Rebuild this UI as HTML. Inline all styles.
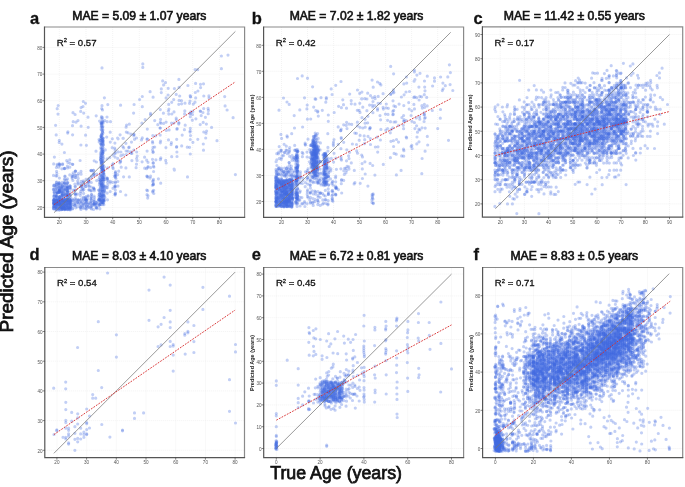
<!DOCTYPE html><html><head><meta charset="utf-8"><style>html,body{margin:0;padding:0;background:#fff;}svg{display:block;will-change:transform}</style></head><body>
<svg width="685" height="487" viewBox="0 0 685 487" font-family="'Liberation Sans', sans-serif">
<defs>
<clipPath id="ca"><rect x="44.5" y="27" width="200.1" height="190.3"/></clipPath>
<clipPath id="cb"><rect x="263.6" y="27" width="200.0" height="190.3"/></clipPath>
<clipPath id="cc"><rect x="482.4" y="26.8" width="200.3" height="190.4"/></clipPath>
<clipPath id="cd"><rect x="44.8" y="267.5" width="199.7" height="190.2"/></clipPath>
<clipPath id="ce"><rect x="263.7" y="267.5" width="199.9" height="190.2"/></clipPath>
<clipPath id="cf"><rect x="482.6" y="267.5" width="200.1" height="190.2"/></clipPath>
</defs>
<path d="M59.3 27V217.3M86 27V217.3M112.7 27V217.3M139.3 27V217.3M166 27V217.3M192.7 27V217.3M219.4 27V217.3M44.5 207.4H244.6M44.5 180.7H244.6M44.5 154.1H244.6M44.5 127.4H244.6M44.5 100.7H244.6M44.5 74.1H244.6M44.5 47.4H244.6" stroke="#e6e6e6" stroke-width="0.5" stroke-dasharray="1 1" fill="none"/>
<g clip-path="url(#ca)" fill="none" stroke="#4169e1" stroke-opacity="0.32" stroke-width="3.2" stroke-linecap="round">
<path d="M64 207.1h0M67.5 200.9h0M69.7 203.1h0M62.6 200.7h0M58.9 204.3h0M67.5 199.6h0M62.3 208.4h0M53.9 199.4h0M59 210h0M54.3 206.5h0M67.1 203.6h0M62.1 203.1h0M57.2 204.5h0M64.1 205.7h0M54.2 208.6h0M67.9 208.9h0M61.9 205.4h0M64.6 204.4h0M61.9 208.1h0M53.9 203.7h0M54.6 201.1h0M61.9 208.1h0M70.5 207.1h0M65.1 200.7h0M54.4 206.9h0M69.7 199.6h0M62.5 201.2h0M67.9 206.8h0M67.2 188.8h0M67.3 199.9h0M61.6 195.3h0M59.7 190.6h0M64.3 188.8h0M62.1 187.9h0M67.3 187h0M56 200h0M69.7 194.5h0M61.8 188.5h0M62.6 197.6h0M61.4 184h0M57 192.8h0M64.1 190h0M65.2 194.6h0M70.2 186.2h0M56.2 195.6h0M62.4 188.4h0M58.7 183.2h0M56.6 171.4h0M64.2 168.3h0M59.4 178h0M86.2 209h0M72.7 208.4h0M80.9 209.4h0M72.7 204.4h0M91.2 199.5h0M74.7 203.5h0M82.8 205.7h0M98.8 199.4h0M91 201.2h0M81.3 198.9h0M75.3 198.2h0M81 171.4h0M75.4 189.9h0M98.8 190h0M93.4 170.3h0M85.8 198.7h0M88.2 182h0M75.2 193.9h0M75.7 175.2h0M101.2 186.1h0M101.8 190.4h0M101.3 176h0M101.4 196.1h0M101.2 201.2h0M101.2 171.3h0M104 186.4h0M102.5 186.1h0M102.9 200.6h0M101.4 185.1h0M101.4 202h0M103.1 173.5h0M102.5 153.4h0M101.1 165.1h0M101.7 169.1h0M102.9 141.1h0M101.2 165.7h0M103.3 138.1h0M101.2 152h0M103.2 142.5h0M102.9 126.4h0M101.5 133.8h0M101.3 136.9h0M104.5 190.7h0M107.2 187.8h0M115.1 195.1h0M53.7 163.9h0M59.3 164.3h0M99 139.5h0M107 117h0M83.7 113.1h0M112.8 182.3h0M115.5 171.5h0M115.1 149.9h0M142.3 106.7h0M187.5 176.9h0M160.3 159.7h0M128.8 147.6h0M176.3 119.9h0M160.5 159.3h0M192.5 114.5h0M200.2 124.6h0M123.6 176.8h0M166.1 97.9h0M176.5 147.2h0M120.6 105.2h0M185 103.2h0M166.3 130.4h0M200.5 84.3h0M197.7 69.7h0M168.5 139.9h0M153.1 162.9h0M152.7 192h0M148 162.3h0M190.9 111.8h0M142.8 63.9h0"/>
<path d="M56.9 202.8h0M64.9 209.6h0M59.9 205.2h0M56.6 208.2h0M66.9 206.7h0M53.8 206.4h0M59.9 203.9h0M69.4 207.8h0M67.5 207.3h0M70.4 200.8h0M61.8 203.9h0M61.9 207.8h0M53.6 201h0M61.9 207.9h0M61.4 206h0M53.7 202.8h0M67 201h0M59.6 206.5h0M54.6 205h0M58.9 202.5h0M65.2 199.4h0M59.6 203.4h0M67.2 200.1h0M62 205.2h0M58.8 204.4h0M64.3 204h0M57.1 204.9h0M58.8 200h0M64.8 201.6h0M62.6 201.2h0M61.9 200.2h0M67.8 182.6h0M61.9 196.6h0M58.8 201.6h0M67.2 183.6h0M69.8 187.8h0M67.7 188.7h0M56.6 196.4h0M61.8 201.5h0M64 191.8h0M64.8 185.8h0M67.4 195.6h0M67.4 191.5h0M61.5 198h0M64.4 183.2h0M58.7 200.9h0M62.6 197.8h0M53.5 175.4h0M65.1 179.8h0M72.4 176.5h0M83.6 208.5h0M99 199.5h0M91.6 208.9h0M88.2 206.2h0M83.8 200.3h0M90.7 202h0M93.9 200.9h0M85.6 203.4h0M99.5 204.6h0M94.2 175.7h0M78.5 173.4h0M83.7 198.5h0M83 188h0M98.9 190.2h0M85.8 184.5h0M75.2 171.2h0M83.6 193.4h0M88.9 180.5h0M83.7 198.2h0M101.1 180.3h0M103.6 182.8h0M102.3 184.7h0M100.6 173.4h0M100.4 174.2h0M101 199.9h0M103.8 170.5h0M101.2 195.1h0M100.6 180.4h0M100.3 195.9h0M103.7 187.3h0M99.9 196.2h0M103.3 158.1h0M101.7 155.1h0M102.6 155.6h0M100.8 159.5h0M102.1 141.7h0M102.4 166.9h0M103 138.4h0M103.2 158.1h0M101.8 122.9h0M101.5 137h0M102.5 132h0M104.9 186.1h0M107.3 178.6h0M115 187.2h0M64.9 168.4h0M107.8 167.9h0M73 112.7h0M107.1 158.9h0M80.9 145h0M114.7 175.8h0M118.7 171.2h0M115 153.7h0M195.6 83.4h0M144.7 168.2h0M166.2 163h0M125.8 195h0M137.1 160.4h0M168.4 111h0M154.7 120.6h0M141.5 139.9h0M176.2 118.2h0M147 139.2h0M150.6 176.2h0M192.8 111.5h0M134.5 139.3h0M208.2 113.7h0M131.9 153.4h0M160.3 142.8h0M136.6 158.5h0M153 180.7h0M153 152.3h0M146.7 160.2h0M190.3 128.3h0M142.8 67.4h0"/>
<path d="M69.4 205.6h0M56.4 209.2h0M56.3 204.1h0M70.5 206.9h0M70.2 205.4h0M69.6 208h0M62.3 209.5h0M57.2 200.7h0M67.4 205.5h0M67 201.7h0M56.9 210h0M62.5 201.6h0M62.4 202.9h0M59.8 203.8h0M56.4 201.9h0M69.8 202.4h0M66.8 200.7h0M64.3 207.4h0M67.2 209.3h0M64.6 202.7h0M64.3 209.6h0M66.9 204.2h0M62.4 207h0M67.2 203.1h0M62.4 208.3h0M65 209.5h0M67.6 206.5h0M59.3 209h0M67 199.5h0M67.8 191.6h0M62.2 194.6h0M67.5 189.2h0M66.8 193.5h0M59.7 189.7h0M62.1 189.6h0M61.5 197.1h0M67.6 188.4h0M67.2 191.4h0M54 197.3h0M56.2 193.5h0M54.3 192.9h0M54.2 195.9h0M59.5 197.1h0M57 201.5h0M70.4 197.1h0M61.9 198h0M58.7 192.2h0M61.9 168.8h0M66.7 160.6h0M56.9 175.8h0M93.3 204h0M86 200h0M75.1 205.4h0M85.5 207.5h0M83.6 202.8h0M83 207.3h0M80.9 201.4h0M78.5 203.9h0M75.7 207.8h0M98.8 196.6h0M85.4 197.2h0M81.3 185h0M73.2 172.8h0M99.9 190.8h0M99.6 183.5h0M75.9 195.2h0M94.4 197.6h0M99.4 185h0M91.4 170.4h0M103.5 195.5h0M102.1 201.5h0M101.3 187.9h0M101.2 191h0M103.1 177.9h0M102.2 201.8h0M103.5 200.2h0M100.7 187h0M102.1 171.7h0M102.9 184.8h0M103.3 198.5h0M100.8 190.5h0M100.9 167.3h0M103.2 152.9h0M101.9 162.1h0M101.1 155.3h0M102.8 149.9h0M102.8 161.5h0M101.5 154.3h0M100.9 157.4h0M103 122.1h0M100.9 136.3h0M102.8 129.3h0M104 197.5h0M106.8 178h0M115.3 190.1h0M69.7 159.9h0M81.1 107.6h0M73.2 121.7h0M102.5 109.9h0M75.1 114.5h0M114.9 143.1h0M117.8 181.5h0M105.1 187.1h0M147.3 176.3h0M120.9 155.7h0M123.7 147.9h0M150.7 167.6h0M142.3 96.5h0M181.6 103.8h0M202.9 112.5h0M176.7 146.7h0M197.8 139.3h0M181.7 145.9h0M147.8 167.4h0M192.3 120.2h0M197.9 91h0M200.6 87.6h0M136.5 138h0M195 102.2h0M147.3 129.1h0M153.9 167.1h0M153.3 162.9h0M146.7 190.1h0M190.4 96.6h0M235.4 174.6h0"/>
<path d="M53.6 204.7h0M56.1 207.1h0M56.7 200.5h0M64.8 208.4h0M61.5 207.7h0M61.9 207.1h0M64.6 201h0M69.8 208.4h0M53.4 200.6h0M54.5 200.9h0M70 202.4h0M56.1 204.6h0M70.1 199.9h0M65.1 201.9h0M59.6 201.2h0M54.2 203.4h0M56.6 203.6h0M53.6 208.8h0M64 208.5h0M70.4 203.4h0M67.3 203.1h0M69.9 202.6h0M59.4 199.4h0M56.6 199.7h0M54.5 203.5h0M64.6 200.4h0M54.6 208.6h0M69.5 205.2h0M61.4 186.8h0M62.6 200.8h0M57.2 200.7h0M54.5 185.5h0M59.5 192.3h0M67.9 200.3h0M67.5 199h0M61.9 191.6h0M62.2 193.6h0M59.7 192.7h0M69.8 201.5h0M64.3 193.7h0M58.7 198.1h0M64.5 188.3h0M56.9 192.1h0M61.8 186h0M64.7 199.6h0M64.4 187.7h0M67.5 192.7h0M64.4 168.7h0M56 175.9h0M59.9 164.3h0M99.2 200.1h0M96.6 207.6h0M86.5 202.4h0M88.1 204.4h0M86.2 206h0M96.1 204.4h0M99.4 199.7h0M93.8 204.1h0M91.3 200.2h0M74.9 184h0M99.9 182.9h0M81.2 186.7h0M99.4 194.4h0M91.3 182.5h0M93.8 173.1h0M80.6 193.3h0M75.8 193.9h0M75.1 186.2h0M75.7 177.4h0M102.8 170.6h0M103.9 195.1h0M100.1 181.1h0M100.9 180.5h0M104.1 200.1h0M102.4 183.9h0M101.4 185h0M102.1 176.7h0M102.9 177.6h0M102 196.8h0M103.9 170.7h0M103.4 192.7h0M102.8 165.8h0M101.5 163.4h0M101 144.3h0M102.8 151.7h0M103.3 144.6h0M100.8 140.7h0M100.9 154.4h0M101 160.4h0M102.2 137.5h0M102.5 131.9h0M102.1 119.6h0M104.1 179.6h0M107.3 178.1h0M115.8 175.8h0M67.9 131.8h0M83.3 101.5h0M96 151.2h0M104.8 120.7h0M86.4 145.3h0M113 188.2h0M121.2 167.2h0M114.8 186.5h0M189.6 147.3h0M150.5 113.4h0M145.1 119.6h0M125.9 167.9h0M195.7 97.9h0M203.5 83.8h0M221.4 56h0M125.9 143.3h0M168.8 114.1h0M160.9 123.3h0M160.2 128h0M144.6 157.2h0M168.2 88.3h0M115.2 152.6h0M203.8 96h0M128.1 132.8h0M195.1 69.6h0M152.4 185.3h0M152.5 149.8h0M148 195.8h0M190.2 130.9h0M58 114.1h0"/>
<path d="M53.6 203.1h0M64.5 206.1h0M58.9 199.4h0M67.4 201.8h0M59.4 207.6h0M57.2 205.3h0M57.2 209.2h0M67.6 203.5h0M70 201.2h0M57.1 205.2h0M67.5 206.2h0M64.4 201.3h0M70.1 202.4h0M58.6 206.3h0M56.1 209.9h0M54.3 201h0M58.7 201h0M62.3 208.1h0M61.7 199.5h0M65.2 205.5h0M69.5 203.8h0M54.6 203.6h0M61.5 204.3h0M59.6 203.1h0M57.2 208.5h0M59.7 203.6h0M70.5 202.3h0M65 200h0M56.3 184.7h0M61.8 188.3h0M66.8 200.1h0M58.9 188h0M64 194.2h0M67 190.3h0M53.9 196h0M56.5 196.4h0M59.1 198.5h0M67.1 183.1h0M70.4 189.1h0M64.1 182.6h0M54.5 191.8h0M58.7 184.7h0M59.4 196.8h0M62.1 200.3h0M59.3 192h0M65.1 182.6h0M62.4 193.4h0M57.3 165.7h0M56.9 173.5h0M58.8 167.2h0M96.6 207.5h0M74.9 204.9h0M80.1 200.2h0M93.9 204.3h0M75.4 204.2h0M81.1 202.1h0M88.2 207.1h0M80.3 204.3h0M86.2 208.9h0M93.7 187.8h0M73.2 190.2h0M91.5 196.9h0M82.8 190.6h0M77.8 175.4h0M86.2 196.9h0M85.9 186.5h0M80.6 191.7h0M72.5 199.1h0M81.3 186.2h0M104 201.4h0M103.9 191.9h0M103.2 201.3h0M102.9 182h0M102.1 199.8h0M102.8 177.7h0M103.1 181.1h0M102.6 191.2h0M100.4 198.9h0M103.5 203.2h0M101.8 202.3h0M103.9 174.3h0M102.2 167.7h0M101 161.6h0M102.9 169.7h0M100.7 157.4h0M101.6 145h0M101.2 138.2h0M101.2 162.6h0M103.2 165h0M103 123.3h0M102.8 122.6h0M102 105.7h0M104.5 189h0M107.6 185.5h0M115.4 181.8h0M54.4 157.1h0M101.7 108.6h0M104.4 97.8h0M99.6 121.1h0M83 106.5h0M112.8 167.2h0M107.6 185.3h0M130.9 151.9h0M205.7 138h0M208.1 108.4h0M178.8 123h0M184.4 129.7h0M184.8 110.9h0M160.8 157.9h0M195.3 92.5h0M211.6 127.4h0M141.9 123.2h0M190.2 95.5h0M120.9 152h0M133.9 134.3h0M176.9 129.2h0M224.7 96.6h0M233.1 117.7h0M176.9 152h0M126.1 151h0M153.8 193.5h0M152.8 191h0M146.6 168.7h0M190.6 96.9h0"/>
<path d="M61.6 203.8h0M56.3 200.1h0M61.4 209.6h0M61.3 206.6h0M56.1 203.3h0M70 209.5h0M56.8 202.9h0M70.2 210h0M64.2 208.7h0M59.7 207.6h0M54.2 206.5h0M67.5 207.7h0M62.4 204.2h0M67.8 199.9h0M62.6 206.3h0M64.1 199.6h0M56.2 201.6h0M56.6 202.3h0M54.3 203.6h0M62.2 200.4h0M64.6 209.1h0M56.2 204.2h0M59.4 204.3h0M67.8 200.9h0M61.6 207.3h0M59.5 203.4h0M70.6 201.5h0M59.6 208.4h0M58.8 184.1h0M62.5 200.6h0M67.7 190.9h0M59.1 201.9h0M64 196h0M61.8 195.9h0M58.7 191.9h0M59.1 190.1h0M57.2 192.3h0M69.9 196.4h0M66.8 196.3h0M54 191.9h0M70 197h0M60 196.6h0M56.6 182.1h0M60 187.7h0M57.2 199h0M56.5 190.8h0M67.6 186.8h0M59.1 163.5h0M67.9 162.4h0M62.6 163.8h0M99.1 203h0M77.6 202.1h0M80.8 207.3h0M85.4 204.8h0M93.6 209.5h0M80.8 202.7h0M78.2 200.2h0M85.4 199.6h0M73.1 200h0M83.2 182.8h0M99.4 177.3h0M89 178.5h0M85.4 186.6h0M82.8 182.9h0M94.2 189h0M91.1 190.6h0M96.7 180.6h0M75.7 171.1h0M81.1 186.5h0M103.8 177.5h0M99.9 193.4h0M100.4 188.8h0M101.9 204.7h0M102.6 204.4h0M102.7 175.3h0M103.1 171.6h0M102.8 175.8h0M101 177.7h0M101.9 196.3h0M103.5 194.9h0M102.4 170h0M103.2 156.1h0M102.5 165h0M101 138.6h0M101.1 148.2h0M101.9 152.6h0M102.8 143h0M100.7 153.2h0M103.2 144.7h0M102.1 134.5h0M101.7 130.2h0M102.7 121.2h0M106.8 187.6h0M105 197.5h0M115.2 186.7h0M59.3 140.4h0M94.2 160.8h0M99.2 141.9h0M112.3 138.8h0M113.1 155.2h0M120.5 191.5h0M115.4 182.8h0M179.1 87.4h0M174.4 88.6h0M195.9 118.8h0M126.3 154.5h0M203.5 150.2h0M139.6 99.5h0M133.6 113.1h0M163.6 84.9h0M190.3 154h0M184.6 113.9h0M129.3 124.2h0M181.5 100.7h0M160.6 119.4h0M173.7 99.6h0M192.9 142.3h0M225.1 105.9h0M118 186.1h0M133.9 135.9h0M152.7 142.9h0M152.9 181.7h0M147.8 177.2h0M190.5 135.6h0"/>
<path d="M66.6 201.5h0M64.8 208.2h0M54.1 201.6h0M54.5 200.7h0M57.2 200.9h0M70.4 199.7h0M56.1 200.6h0M67 203h0M59.8 201.6h0M53.6 206.6h0M59.8 202.4h0M56 207.5h0M70.3 205h0M59.6 204.2h0M65 203.1h0M67.1 205.5h0M59.8 202.6h0M70 207h0M66.9 204.5h0M66.7 208.3h0M59.1 202.9h0M61.4 199.5h0M61.7 208.1h0M59.1 202.4h0M54.4 200.5h0M64.9 203h0M59.7 209.9h0M58.8 192.3h0M54.4 199.2h0M54.1 200.8h0M64.7 195.5h0M67.4 194h0M56.1 197h0M59.1 198.7h0M59.2 200.9h0M67.5 200.7h0M56.1 200.5h0M59.3 182.7h0M67.6 199.3h0M70 194.3h0M66.9 194.9h0M70.6 200.6h0M59.9 192.2h0M62.3 185.6h0M64.9 190h0M59.3 196.7h0M59.2 190.7h0M64.9 176.2h0M66.7 180.1h0M73 176.4h0M96.1 203.7h0M94.1 201.9h0M74.8 202h0M94.3 205.5h0M72.4 202.7h0M80.4 208.1h0M96.1 202.2h0M86.4 200.3h0M91.7 205.4h0M99 179.3h0M91.2 197.1h0M72.2 178.5h0M83.3 197.1h0M88.7 179.4h0M90.7 170.5h0M93.5 174.5h0M88.8 182.2h0M86 179.3h0M99.7 192.4h0M103.6 170.3h0M103 177.9h0M101.7 175h0M100.8 200.1h0M102.9 189.5h0M102.1 194.3h0M100.1 204.2h0M102.8 202.4h0M103.1 174h0M100.5 191.5h0M102.2 193.4h0M102.6 142.9h0M101.4 162.5h0M102.5 143.6h0M101.6 143.7h0M101.2 163.2h0M102 140.9h0M102.9 158.7h0M101.2 140.7h0M101.1 149.3h0M101.2 123.1h0M101.1 129.3h0M102.6 117.7h0M105.2 192.2h0M108 180.5h0M115.5 193.2h0M57.1 164.3h0M72.5 125.7h0M85.6 135.2h0M88 117.2h0M120.1 134.8h0M107.2 193.1h0M110.2 191.6h0M160.3 109.6h0M178.8 104.3h0M160.3 122.3h0M131.9 160.6h0M171.1 144.6h0M150.6 114.9h0M160.6 141h0M203.7 108.6h0M165.5 82.6h0M126.3 132.1h0M206.4 124.1h0M190.3 139.5h0M120.6 161.5h0M152.5 141.5h0M131.5 142.1h0M206 133.3h0M161.3 88.9h0M126.6 125.1h0M153.5 166.2h0M153.4 184.7h0M147 194.7h0M190.5 113.4h0"/>
<path d="M64.4 208.4h0M66.9 206h0M58.7 206h0M67 209.4h0M53.6 202.9h0M70.4 208.3h0M56.8 203.5h0M69.5 208.8h0M70.5 207.8h0M70.6 207.1h0M59 205.7h0M62.4 209.3h0M56.3 203.3h0M64.3 207.7h0M67.9 207.9h0M59.3 206.4h0M56 200h0M53.6 207.6h0M61.9 200.9h0M59.6 204h0M69.7 202.7h0M69.9 208.8h0M64.7 207.6h0M67.8 209.7h0M64.2 205.4h0M67.5 200.4h0M61.9 202.9h0M59.9 201.4h0M56.3 198.6h0M59.5 191.1h0M56.4 188.8h0M56.8 201.5h0M58.6 187.1h0M61.5 191.9h0M66.7 184.8h0M54.2 196.4h0M66.8 186.6h0M67.7 199.3h0M64.6 202h0M62.1 182.4h0M67.8 195.4h0M64.5 186h0M57.1 193h0M54.6 189.2h0M67.4 185.6h0M56.1 196.3h0M56.7 200.6h0M69.8 167.2h0M56.4 167.5h0M80.9 206h0M86.3 200h0M75.8 200.4h0M88.5 204h0M94.3 203.7h0M86 201.2h0M90.9 206.5h0M77.7 202.7h0M83.2 203.8h0M96.3 202.4h0M96.9 174.2h0M75 174.9h0M89 190.1h0M77.6 181.1h0M89.3 185.9h0M91.2 177.3h0M91.6 194.6h0M81.1 181.3h0M83.8 185.1h0M94.1 189.1h0M103.6 200.3h0M101.8 179.4h0M103.9 204.7h0M99.9 181.2h0M100.5 183h0M103 187.1h0M100 195.6h0M103.5 179.4h0M103.3 203.7h0M103.5 172.4h0M100.7 204.5h0M102.1 166.7h0M102.8 160h0M102.9 168.8h0M102.4 149.9h0M103 161.1h0M101.1 157.6h0M101.1 143h0M102.6 165.9h0M102.5 139.1h0M101.4 126.1h0M102.8 130.4h0M101.3 117.9h0M104.3 189.7h0M115.2 193.7h0M116 178.5h0M72.6 134.8h0M81.1 126.2h0M99.8 140.4h0M96.2 115.8h0M113.2 168.6h0M110.4 181.4h0M117.7 158.4h0M177.2 128.6h0M169.1 129.9h0M173.9 123h0M155.7 135.8h0M228 55.1h0M112.3 164.8h0M133.8 150.1h0M157.8 124.7h0M168.7 104.4h0M142.1 161.8h0M160.1 128h0M129.1 147.2h0M160.2 135.1h0M153.1 97.2h0M171.4 142.7h0M122.8 146.5h0M206.6 131h0M161.3 92.6h0M153.7 190.3h0M153.1 184.5h0M147.6 190.7h0M190.3 116.7h0"/>
<path d="M69.8 209.1h0M70.2 204.1h0M70 199.7h0M70.6 209.2h0M56.1 200.1h0M61.6 205.8h0M59.4 204.5h0M54 207.2h0M56.1 201.7h0M64.5 199.6h0M59 208.7h0M59.5 208h0M67.3 203.4h0M61.3 206.5h0M53.5 208.7h0M67.7 208.9h0M54.3 204.9h0M56 204.4h0M69.7 203.4h0M58.8 202.7h0M59.9 201.4h0M67.3 202.4h0M66.7 202.1h0M54.1 200.2h0M59.4 203.3h0M64.4 205.4h0M64.7 201.3h0M59.2 183.1h0M64 201.8h0M60 191.5h0M67.8 187.6h0M66.9 193.7h0M56.5 188h0M69.8 187.5h0M67.5 191.9h0M64.8 183.9h0M67.8 201.3h0M56.8 184.6h0M53.6 185.4h0M56 186.3h0M56.5 184.3h0M65.2 199.2h0M69.9 200.3h0M62.2 195.2h0M53.4 189.2h0M59.5 197.1h0M65 176.7h0M72.8 164.3h0M64.4 179.2h0M83 204.7h0M98.9 200.6h0M96.7 208.7h0M86 202.8h0M72.4 208.9h0M77.8 206.7h0M73.2 200.6h0M89.1 207.6h0M77.5 206.9h0M72.6 205.8h0M93.4 188.3h0M83.8 189.7h0M74.6 190.4h0M88.2 196.3h0M91.2 190.9h0M99.2 199.1h0M99 194.3h0M94.3 190.7h0M72 177.1h0M91.5 194.5h0M102.9 196.1h0M101.4 181.7h0M102.8 197.7h0M103.3 180.6h0M102.8 190.5h0M100.1 194.5h0M103.2 202.6h0M100.2 202.7h0M100.1 195.3h0M103.8 185.6h0M101.2 185.2h0M102 162.4h0M102.6 147.6h0M100.9 159.6h0M101.3 151.4h0M102.3 169h0M101.2 159.9h0M102.8 151.1h0M102.9 140.7h0M102.8 140.3h0M101.3 122.3h0M102.4 127.6h0M101.5 116.6h0M104.3 200.4h0M115.2 173h0M115.4 174.5h0M59.2 142.5h0M85.5 103.3h0M78 120.6h0M80.7 111.4h0M106.7 137.1h0M115.5 177.5h0M105.3 149.9h0M176.2 94.4h0M131.2 153.1h0M158.4 178.8h0M201.2 115.6h0M179.1 100.4h0M187.9 85.5h0M205.4 117.3h0M166.1 122.1h0M200.5 111.3h0M171.8 114h0M117.6 138h0M118.1 138.8h0M126.1 127.2h0M147.4 139.2h0M128 151.2h0M208.9 95.9h0M134.1 104.5h0M163.6 123.4h0M153.5 179.4h0M147.1 151.1h0M190 101h0M55.6 125.3h0"/>
<path d="M54.4 203.6h0M65.1 201.8h0M69.3 202.4h0M61.4 202h0M61.9 201.7h0M53.8 199.6h0M69.6 202.4h0M64.9 207.9h0M69.8 203.4h0M62.6 208.8h0M59.9 202.8h0M64.6 207.5h0M56.1 207h0M64.5 208.3h0M64.7 207.7h0M70.2 201.2h0M67.6 203.2h0M57.3 204.2h0M65 200h0M65.2 204.7h0M61.9 206.7h0M61.7 201.2h0M65.1 205.9h0M70.3 205.4h0M59 201h0M64.9 209.1h0M69.4 207.6h0M66.8 188.4h0M67 195.6h0M62.1 200.1h0M70.1 195h0M59.1 187.6h0M62.4 185.9h0M67.7 197.3h0M62 186.2h0M67.1 190.4h0M59.7 199.4h0M61.4 185.1h0M62.3 191.5h0M59.6 189.5h0M67.8 194.3h0M65 201.4h0M65.1 195.7h0M67.7 189.3h0M62.2 186.7h0M66.9 195.5h0M72.9 180.5h0M67.6 182.8h0M69.8 174.9h0M78 200.1h0M75.9 199.4h0M90.9 208.1h0M77.6 201.9h0M99.9 208.8h0M99.6 208.4h0M99.5 205.2h0M94.3 203.9h0M99.4 205.3h0M88.9 181.3h0M88.1 199.1h0M93.5 170.4h0M80.3 195.5h0M81.2 189.7h0M91.7 176.1h0M78 184.2h0M75.4 171.3h0M88.1 195.5h0M80.3 183.6h0M100.7 199.9h0M103.1 176h0M102.1 202.5h0M102.6 200.2h0M101.7 170.5h0M100.2 174.9h0M103.9 173.6h0M102.5 187.2h0M101.8 189.7h0M102.3 180h0M101.6 179.1h0M101.8 183.1h0M103.3 168.1h0M101.4 159.9h0M101.6 162.1h0M100.7 144.1h0M101.4 162.2h0M102.7 141.4h0M103.1 147.7h0M100.7 159.7h0M102.2 134.5h0M101.1 123.9h0M101.1 135.5h0M107.6 182.6h0M107.5 199.8h0M115.5 172.8h0M115 194.3h0M56.2 134.9h0M102.2 148.8h0M107.2 121.7h0M110.2 132.2h0M104.3 166.8h0M115.1 185.5h0M114.7 148.1h0M123 138.3h0M193.3 104.1h0M123.3 138.3h0M187.3 147.2h0M168.9 109.1h0M174.4 170.1h0M155.9 159.8h0M136.5 164.2h0M174 111.9h0M137.2 156.1h0M154.7 147.1h0M168.1 95h0M174.1 169.1h0M179.7 96h0M209.1 98h0M221.4 68.7h0M163.4 113.2h0M165.9 147.6h0M153.6 171.5h0M148.1 166.5h0M190 132.1h0M57.2 108.7h0"/>
<path d="M67.6 204.3h0M56 206.7h0M64.7 207.2h0M66.8 205h0M66.9 209h0M57 205.2h0M56.5 202.9h0M64.3 204.9h0M57.2 200.8h0M69.5 199.8h0M70.1 206.9h0M64 202.1h0M56.4 204.3h0M61.5 203.4h0M65 208.3h0M64.5 202.2h0M62.4 209.1h0M64.1 200.8h0M56.2 203h0M61.4 209.6h0M59.9 205.8h0M69.6 204.2h0M65.1 199.6h0M54.1 200.8h0M56.5 204.9h0M59.6 208.2h0M54.5 204.1h0M62.6 194.9h0M56 187.2h0M65.1 189h0M61.6 188.9h0M67.4 200.4h0M54.4 201.2h0M56.2 190h0M69.9 185.9h0M56.4 182.7h0M58.8 185.4h0M67 186.8h0M56.3 196h0M67.6 195.4h0M70 192.1h0M54.3 194.7h0M58.7 191.2h0M57.3 193.4h0M59.5 192.1h0M61.7 186.8h0M72.5 164.3h0M62.6 164.6h0M67.6 168h0M90.8 203.3h0M83.3 200h0M80.3 206.9h0M96.1 205h0M98.7 205.4h0M93.9 201.8h0M86.6 200h0M86.5 206.2h0M75.1 205.7h0M86 199.2h0M75.3 186.7h0M91.3 170.8h0M77.9 183.1h0M89.1 189.7h0M83.3 180.8h0M88.7 186.3h0M77.8 194h0M75 194h0M75.3 177.6h0M100.1 197.6h0M101.9 181.3h0M101.7 197.2h0M103.8 199.2h0M100.2 200.2h0M103.1 201.2h0M100.3 187.6h0M101.6 187.4h0M101.2 183.6h0M101.8 202.1h0M101.6 193.6h0M102 184.2h0M100.9 147.3h0M101.2 167.7h0M102.5 153.6h0M103.1 168h0M102.1 156.9h0M103.3 168.2h0M102.5 169.2h0M103.1 151.3h0M101.6 135.3h0M102.3 126.7h0M101.6 124.5h0M104.4 195.7h0M104.7 176.2h0M114.9 176.7h0M64.4 152.5h0M67.7 133.1h0M88.2 127.3h0M96.4 162h0M107.8 104.6h0M113.2 163.6h0M110.1 182.9h0M109.8 157.6h0M208.4 110.4h0M200.2 111h0M123.2 154.8h0M160.7 183.2h0M185.2 125.2h0M171.7 102.3h0M227.1 110h0M176.7 139.3h0M130.9 134.2h0M120 162.8h0M217 140.7h0M129.3 176.9h0M118 151.9h0M177 156.5h0M150.1 178.1h0M136.1 167.7h0M178.9 79.4h0M152.5 159.3h0M153 147.3h0M146.8 176.2h0M189.7 113.6h0M58.2 105.5h0"/>
<path d="M69.8 204.2h0M56.2 200h0M64.1 205.4h0M61.7 200.8h0M61.9 205.1h0M59.9 199.4h0M59.1 202h0M70.4 209.1h0M70.4 200.7h0M56.1 205.4h0M61.3 207h0M66.8 205.5h0M53.6 202.7h0M53.8 204h0M65 208.8h0M69.7 201.4h0M56.9 206.8h0M62.5 203.9h0M56.2 209.3h0M61.7 207.4h0M62.6 203.1h0M59.9 204.6h0M61.4 204.7h0M62.2 200.4h0M56.7 203.9h0M54 199.7h0M69.6 209.4h0M58.9 199.6h0M62.3 192.5h0M67.6 197.8h0M56.1 185.2h0M53.5 189.7h0M54.5 184.8h0M67.5 198.5h0M64.4 192.6h0M64.5 190.2h0M67.7 198.8h0M59.8 199.1h0M53.9 186.2h0M54 185.8h0M70 186h0M59.4 190h0M70.4 187.8h0M69.4 199.6h0M64.4 182.9h0M62 192.1h0M59.9 165.3h0M67.4 166.1h0M67.5 178.8h0M88.3 202.7h0M99.9 200.6h0M78.3 199.9h0M90.8 203.8h0M94.3 199.6h0M96 207.4h0M91.7 206.3h0M98.7 200h0M96.7 202.9h0M88 183.9h0M94.1 174.2h0M72.6 174.8h0M82.7 189h0M81.1 174.2h0M78.2 178.4h0M83.7 182.1h0M91.2 198.5h0M91.3 187.1h0M94.1 196.1h0M101.1 192.6h0M101 184.7h0M101 197.4h0M102.6 195.2h0M103 191.5h0M101.5 184.3h0M102.4 187.4h0M100.2 180.4h0M103 179h0M102 192.2h0M101 179.8h0M100.7 177.9h0M103 140.6h0M102.2 145.1h0M103.3 161.7h0M101 155.9h0M101.4 168.1h0M102.7 153.1h0M102.2 139.7h0M102.9 145.3h0M101.2 127h0M101.9 123.9h0M103 133h0M104.8 179.7h0M107.4 179.6h0M116 174.9h0M61.9 144.1h0M70 163.3h0M110.5 121.7h0M76 122.2h0M80.1 160.5h0M110.3 142.1h0M117.7 174.7h0M112.2 147.7h0M115 157.1h0M142.3 137.9h0M171.5 123.2h0M203.8 132h0M162.7 80.9h0M178.9 122.9h0M203.2 122.4h0M171.7 156.7h0M165.7 160.4h0M152.8 135.5h0M136.7 152h0M182.2 135.1h0M150.1 91.7h0M133.9 134.5h0M120.4 160.9h0M203.3 144h0M178.7 124.1h0M153.2 151.9h0M153.4 183.5h0M147.7 198.1h0M189.5 103.3h0M102 67.9h0"/>
</g>
<line x1="54" y1="212.7" x2="235.4" y2="31.4" stroke="#777" stroke-width="0.75"/>
<line x1="54" y1="204.6" x2="235.4" y2="81.8" stroke="#d62728" stroke-width="0.9" stroke-dasharray="1.8 1.2"/>
<path d="M44.5 27H244.6V217.3" fill="none" stroke="#8a8a8a" stroke-width="1.2"/>
<path d="M44.5 26.4V217.3H245.2" fill="none" stroke="#555" stroke-width="1.2"/>
<path d="M59.3 217.3v2M86 217.3v2M112.7 217.3v2M139.3 217.3v2M166 217.3v2M192.7 217.3v2M219.4 217.3v2M44.5 207.4h-2M44.5 180.7h-2M44.5 154.1h-2M44.5 127.4h-2M44.5 100.7h-2M44.5 74.1h-2M44.5 47.4h-2" stroke="#333" stroke-width="0.6"/>
<g font-size="4.6" fill="#555"><text x="59.3" y="223.8" text-anchor="middle">20</text><text x="86" y="223.8" text-anchor="middle">30</text><text x="112.7" y="223.8" text-anchor="middle">40</text><text x="139.3" y="223.8" text-anchor="middle">50</text><text x="166" y="223.8" text-anchor="middle">60</text><text x="192.7" y="223.8" text-anchor="middle">70</text><text x="219.4" y="223.8" text-anchor="middle">80</text><text x="42.3" y="209.7" text-anchor="end">20</text><text x="42.3" y="183" text-anchor="end">30</text><text x="42.3" y="156.4" text-anchor="end">40</text><text x="42.3" y="129.7" text-anchor="end">50</text><text x="42.3" y="103" text-anchor="end">60</text><text x="42.3" y="76.4" text-anchor="end">70</text><text x="42.3" y="49.7" text-anchor="end">80</text></g>
<text x="56.7" y="45.9" font-size="9.6" fill="#111" stroke="#111" stroke-width="0.3">R<tspan font-size="5.8" dy="-3.7">2</tspan><tspan dy="3.7"> = 0.57</tspan></text>
<text x="72.3" y="19.7" font-size="12" fill="#111" stroke="#111" stroke-width="0.6" textLength="134.0" lengthAdjust="spacingAndGlyphs">MAE = 5.09 ± 1.07 years</text>
<text x="30.1" y="23.6" font-size="16.5" font-weight="bold" fill="#111" stroke="#111" stroke-width="0.3">a</text>
<path d="M281.5 27V217.3M307.5 27V217.3M333.6 27V217.3M359.6 27V217.3M385.6 27V217.3M411.6 27V217.3M437.7 27V217.3M263.6 201.5H463.6M263.6 175.5H463.6M263.6 149.4H463.6M263.6 123.4H463.6M263.6 97.4H463.6M263.6 71.3H463.6M263.6 45.3H463.6" stroke="#e6e6e6" stroke-width="0.5" stroke-dasharray="1 1" fill="none"/>
<g clip-path="url(#cb)" fill="none" stroke="#4169e1" stroke-opacity="0.32" stroke-width="3.2" stroke-linecap="round">
<path d="M286.5 197.2h0M286.3 206.2h0M283.8 189.3h0M278.7 186.7h0M291.5 193.3h0M281.8 190.1h0M289.4 204.6h0M276.7 197.9h0M279.3 189.8h0M276.1 180.5h0M283.8 200.4h0M281.8 191.5h0M292 188.7h0M287.1 201.9h0M289.7 179.4h0M292.1 183.7h0M284.3 198.2h0M276.7 181.6h0M286.2 181.3h0M287.1 196.9h0M282.1 191.2h0M284.6 199.1h0M284.3 180.4h0M292.4 187.7h0M291.9 194.8h0M275.7 185.2h0M276.2 187.7h0M289.6 180.2h0M275.8 183.4h0M286.2 193.6h0M287.3 201h0M292.1 195.5h0M283.9 206.6h0M278.7 168.6h0M291.8 188.2h0M276.3 193h0M283.5 203.2h0M275.8 177.3h0M281.5 183.7h0M286.7 203.6h0M281.6 175.4h0M292.2 189.2h0M287.2 171.7h0M287.2 181.3h0M275.7 182.1h0M289.2 151.5h0M279.1 167.6h0M289.3 162.6h0M286.5 174h0M296.7 170.5h0M296.9 199.6h0M297.2 177.5h0M297 193.1h0M296.3 203h0M295.7 192.7h0M298 161.3h0M296.2 181.1h0M315 158h0M315 137.1h0M315.4 155.2h0M314.3 158.7h0M316 165h0M311.5 150h0M315.8 138.5h0M315.8 166.9h0M317.2 167.4h0M315 143.6h0M312.8 162h0M315.8 171.9h0M314.8 165.8h0M315.8 149.2h0M313.2 140.5h0M315 136h0M314.8 174.1h0M312.9 151.4h0M312.3 165.5h0M314 168.2h0M324 168.4h0M324.5 161.6h0M323.8 182.2h0M324.8 167.9h0M326.6 177.7h0M327 167.8h0M324.8 182.7h0M314.9 199.3h0M294.5 180.3h0M325.8 199.8h0M325.3 196h0M317.9 191.7h0M300.3 173.8h0M312.9 198.6h0M307.6 196.4h0M307.8 177.7h0M313.1 202.2h0M310.4 163.9h0M309.9 157.5h0M313 165.7h0M332.9 192h0M336.7 187.5h0M305.3 144.4h0M302.9 153.6h0M327.8 133.7h0M335.7 85.3h0M401.4 97h0M344.6 168.3h0M414.7 96.9h0M403.9 83.9h0M365.2 174h0M341.3 183.7h0M396.2 154.2h0M387.6 128.5h0M346.5 160.8h0M421.8 173.7h0M359.7 93.4h0M408.7 102.6h0M336.4 169.3h0M414.4 70h0M440.5 109.5h0M377.7 152.1h0M448.5 140.3h0M421.9 105.7h0M426.7 97.4h0"/>
<path d="M284.5 194.6h0M276.3 201.6h0M279.4 183.1h0M279.3 181.7h0M291.4 184.8h0M283.7 185.8h0M276.6 197.2h0M291.4 188.3h0M276.5 206.5h0M286.9 200.5h0M286.5 187.9h0M284.3 205.4h0M279.4 201.8h0M284.2 181.2h0M281.3 191.4h0M284 190.4h0M283.9 182.3h0M284 188h0M284.1 190.5h0M289.8 200.3h0M286.2 193.5h0M276 183.3h0M286.1 181.6h0M278.9 181.1h0M289.7 185.2h0M275.8 184.6h0M284 181.4h0M283.7 188.4h0M283.7 197.3h0M281.8 183.3h0M289 197.1h0M281.7 197.8h0M289.9 197.7h0M291.4 178.6h0M286.4 203.2h0M283.9 171.3h0M278.3 181.1h0M286.8 206.4h0M281.5 196.8h0M286.9 180.4h0M276.5 194.5h0M292 183.2h0M281.3 181.5h0M292.2 176.2h0M287.1 202.5h0M284.3 172.4h0M281.3 150.3h0M292.4 172.3h0M276.9 165.5h0M295.7 180.8h0M297.3 197.9h0M296.5 150.9h0M295.7 158.5h0M296.5 193.6h0M297.8 203.1h0M295.7 159.1h0M296.6 160.3h0M314.4 143.2h0M315.3 154.6h0M316.5 165.8h0M315.9 148h0M315.7 173.7h0M313.3 164.6h0M312.9 164.3h0M313.2 143.9h0M311.3 144.3h0M313.8 150h0M317.4 163.6h0M313.6 164.8h0M312.5 167.3h0M313.8 147.9h0M315.2 150.1h0M317.8 173.5h0M312.5 158h0M311.9 145.8h0M312.5 154.8h0M315.3 171.6h0M324.9 157.7h0M325.1 157.1h0M324.6 160.6h0M326.2 182.2h0M326.4 159.7h0M324 158h0M324 175.3h0M297.2 176.4h0M310.7 172.4h0M308 197.5h0M307.2 194.2h0M300.4 171.8h0M320.2 197.3h0M307.6 189.9h0M317.5 175.5h0M318.3 175.2h0M296.7 200.8h0M297.4 149.6h0M333.6 162.1h0M313.4 152.9h0M332.8 181.4h0M335.9 194.7h0M284.1 144.3h0M287.3 137.1h0M328.4 158.5h0M307.5 78.2h0M370.1 128h0M420 73.3h0M414.9 128.6h0M362.4 178.5h0M367.9 186.1h0M341.7 193h0M346.5 108.2h0M375.1 98.7h0M416.6 125.8h0M385.4 114.1h0M416.8 143.9h0M347 128.6h0M341.3 138.7h0M356.5 144.5h0M443.1 88.8h0M386.2 107.8h0M414.4 122.5h0M372.5 197.7h0"/>
<path d="M281.2 198.4h0M276 187.2h0M278.4 189.4h0M283.5 202.5h0M276.4 181.1h0M291.6 180.4h0M289.2 183h0M281.3 197.9h0M281.2 183.4h0M278.4 180.2h0M284.1 190.2h0M281.4 198.4h0M286.6 198.2h0M276 196.6h0M286.1 201.2h0M289.6 187.4h0M281.1 199.1h0M286.7 200.4h0M284.2 184.2h0M286.6 198h0M286.2 186.7h0M275.8 201.9h0M287.3 194.9h0M287.3 199.2h0M283.5 180.6h0M286.7 188.2h0M275.8 183.5h0M276.5 198.9h0M292 185.1h0M288.7 194.3h0M279.1 199.1h0M287 183.7h0M286.7 198.8h0M284.7 175.6h0M279.5 205.3h0M275.8 199.1h0M289.7 170.9h0M281 196.6h0M288.8 197.9h0M284.1 173.5h0M284.4 194.3h0M289.2 185.2h0M276.9 178.8h0M279 195.5h0M281.7 195.3h0M288.9 153h0M286.8 168.7h0M276.8 170.8h0M296 182.3h0M296.8 185.4h0M296 194.3h0M297.4 167.3h0M297.2 203.7h0M296.1 191.4h0M296 184.6h0M297.2 198.3h0M296.8 181.7h0M317.5 166h0M312.9 145.5h0M313.1 153.5h0M316.5 157.8h0M313.6 152.7h0M318.5 150.7h0M314.8 168.8h0M312.8 164.4h0M313.9 176.3h0M317.3 167.6h0M315.4 158.6h0M314.8 151.7h0M316.7 156.5h0M317.4 156.5h0M316.7 158h0M315.8 154.6h0M313.1 155h0M314 146.8h0M314.9 163.9h0M314.6 155h0M323.8 179.7h0M326 162.7h0M324.3 170.5h0M324 163.4h0M324 179.3h0M325.6 154.6h0M323.5 178.2h0M328 203.9h0M328.2 188.9h0M305.5 182.7h0M315.3 182.2h0M322.5 193.6h0M310.7 202.2h0M300.3 176.2h0M307 179.3h0M317.6 182.9h0M313.2 205.4h0M320.1 169.1h0M328.3 176.7h0M320.4 161.4h0M332.2 200.4h0M335.9 187.6h0M321 97.7h0M294 159h0M310.4 151.8h0M322.3 110.3h0M341 81.5h0M390.4 157.7h0M357.4 122.2h0M349.6 152.3h0M369.6 105.1h0M419.8 96.4h0M333.5 142h0M411.9 121.3h0M357.4 125.9h0M380.4 140h0M362 117.7h0M417.5 132.2h0M380.4 103.3h0M386.3 104h0M360 127.3h0M404 119.5h0M393 100.8h0M373.2 203.6h0"/>
<path d="M276.7 183.5h0M289 202.6h0M281.1 199.2h0M281.2 196.7h0M281.3 187.3h0M284 186.9h0M291.6 188.9h0M286.1 198.4h0M287.2 206.2h0M291.7 191.9h0M286.5 183.4h0M289.3 195.2h0M289.2 189.6h0M280.9 195h0M279.3 198.3h0M280.9 195.4h0M281.4 203.5h0M279.4 189.8h0M279.5 204.8h0M281.3 191.8h0M292.5 185.4h0M286.3 194.5h0M292.4 197.6h0M282 185.7h0M289.3 191.2h0M291.5 190.9h0M287.1 206.3h0M281.3 184.7h0M286.9 202.1h0M289.8 195.6h0M276.1 193.4h0M283.8 203.1h0M292.5 191h0M279.3 168.9h0M289.4 185.2h0M279.4 183.3h0M279.4 200.6h0M286.5 168.6h0M284.3 202.6h0M284 188h0M286.5 190.4h0M286.7 193.3h0M275.8 178.4h0M291.7 175.2h0M275.8 187.2h0M289 162.6h0M284.7 152.6h0M278.9 168.4h0M297.8 151.4h0M297.3 191.8h0M295.8 182.6h0M296.3 182.5h0M298.1 165.1h0M296.4 154.4h0M297.9 158.8h0M297.9 156.5h0M297.6 157.5h0M313.6 154.6h0M314.4 154.3h0M312.3 159.8h0M311.4 155.4h0M312.9 148.3h0M316.9 155.4h0M315.3 154.5h0M317.9 151.8h0M311.5 162.1h0M315.1 149.8h0M316.7 161.9h0M314.9 146.6h0M313.5 164.5h0M314.5 160.9h0M315.2 156h0M317.9 166.8h0M312.7 144.4h0M315.4 149.5h0M313.7 152.2h0M317.6 133.5h0M325.2 167.8h0M325.6 175.3h0M325.1 168.8h0M324.2 173.4h0M323.8 171.6h0M325.9 153.9h0M325.6 155.7h0M320.3 180.4h0M315.5 191.8h0M307.3 191.7h0M296.5 179.3h0M294.9 194.8h0M297.2 180.3h0M310.1 184.8h0M315.7 175.7h0M307 203.7h0M328.4 193.5h0M321 161.8h0M294.5 175.8h0M331.3 158.4h0M332.2 182.2h0M335.7 176.2h0M289.7 147.5h0M308 139.2h0M279 110.2h0M312.6 86.8h0M383.3 164.4h0M346.8 149.8h0M445.3 85.7h0M341.5 160.1h0M340.9 168.8h0M427.3 76.2h0M424.1 115h0M333.4 145.6h0M360.2 183.3h0M399.1 104.1h0M349 169.1h0M383.1 107.3h0M393.7 110.4h0M346 172.8h0M387.6 120.3h0M346.6 122.3h0M403.9 150.7h0M372 202.4h0"/>
<path d="M281.5 206.5h0M283.9 198.2h0M276.7 206.5h0M276.5 196.3h0M289 205.6h0M292 192.6h0M286.1 185.5h0M292.1 179.6h0M289.5 200.4h0M278.4 191.9h0M283.6 201.4h0M286.1 192.6h0M275.8 201.2h0M283.8 203h0M283.9 206.5h0M283.8 194.4h0M278.6 206.3h0M291.8 187.6h0M276.7 185.6h0M286.7 201.6h0M283.6 182.4h0M289 187.6h0M278.4 188.8h0M281.1 204.7h0M291.7 188.1h0M291.3 202.8h0M283.5 201.8h0M288.7 186.5h0M292.4 204.3h0M289.1 194h0M283.6 187.3h0M288.9 199.6h0M279 181.9h0M282 202.4h0M289.5 188.8h0M289.3 186.5h0M281 173.9h0M284.2 196.3h0M275.7 205.3h0M292.1 193.8h0M284.6 176.2h0M278.4 180.4h0M291.9 174.6h0M276.8 173.4h0M292.3 177.2h0M276.8 159.8h0M276.1 161.7h0M292 160.3h0M297.8 199.2h0M296.8 195.6h0M296.3 156.2h0M295.6 197.3h0M297.5 157.7h0M297.7 171.2h0M295.7 202.4h0M296.3 195.5h0M314.5 155.1h0M311.5 162.9h0M314.2 162.2h0M312.9 158.6h0M316.5 145.1h0M318.8 163.7h0M311.5 145.4h0M312.9 154.6h0M313.3 161.1h0M314.4 161h0M315.7 167.9h0M316.4 157.5h0M316.5 153.7h0M318 165.1h0M311.1 158.2h0M316 150.8h0M315.5 146.6h0M314.3 170.6h0M313.7 166h0M314.8 170.5h0M313.5 142.8h0M326.9 182.4h0M324 159.3h0M325.9 182.3h0M325.9 183.5h0M325.5 174.4h0M327 163.4h0M326.1 155h0M301.9 197.6h0M295.1 192.7h0M326 203.5h0M294.6 170.7h0M310.3 192.1h0M297.4 174.9h0M299.9 177.5h0M317.9 200.7h0M310.4 188.1h0M312.6 172.3h0M309.7 149.7h0M297 157.7h0M320.9 173h0M332.4 190.4h0M335.4 194h0M318.3 116.1h0M317.8 111.2h0M315.7 135h0M313.7 107.1h0M390.7 66.4h0M340.7 130.7h0M424.5 114.6h0M335.9 158.2h0M347.1 166.4h0M377.5 110.2h0M424.6 118.4h0M360 112.4h0M393.5 92.8h0M370.1 127.7h0M393.9 92.6h0M424.4 104.4h0M362.1 163.6h0M403.8 121h0M372.8 107h0M362.5 156.9h0M359.8 103.3h0M373.3 203h0"/>
<path d="M292.5 193.7h0M290 194h0M276.7 193.7h0M278.3 183.3h0M276 180.9h0M291.7 198.5h0M281.2 205.6h0M283.6 205.5h0M282.1 204h0M289.8 198.3h0M276.6 206.3h0M276.7 194.4h0M286.4 194.2h0M286.4 192.3h0M286.5 186.9h0M291.5 198.4h0M286.7 201.1h0M287.1 182.6h0M281.5 188.7h0M282.1 183.7h0M276.3 186.4h0M284.5 183.1h0M281.9 186.2h0M289.2 197.6h0M281.7 180.5h0M286.7 181.6h0M276.5 182.5h0M291.5 185.2h0M289.3 179.5h0M287.2 204.8h0M286.7 198.7h0M284.7 185.7h0M284.3 186.7h0M286.2 199.6h0M286.2 187.3h0M284.4 203.4h0M292.5 194h0M288.9 205.2h0M287.3 192.6h0M291.7 206.9h0M289.4 196.4h0M281.4 195.2h0M292.5 197.8h0M282 192.2h0M289.6 176h0M294.2 157.8h0M278.4 174.3h0M294.5 160.6h0M297.6 195.2h0M296.9 169.7h0M296.7 172h0M295.6 198h0M297 171.5h0M295.9 168.2h0M297.2 180.6h0M296.9 180h0M315 155.9h0M313.1 172h0M313.9 139h0M314.6 143.5h0M318.8 149.8h0M314.6 174.1h0M314.2 149h0M312.8 156.1h0M314 153.6h0M318.4 153h0M316.6 168.3h0M313.9 169.1h0M315.3 173.3h0M313.1 154.3h0M316.1 166.8h0M315.7 142.6h0M313 146h0M314.6 145.5h0M318.1 146.1h0M311.4 159.3h0M312.7 166.9h0M323.9 157.5h0M326.7 176.8h0M324.8 161.2h0M325.9 177.8h0M324.2 178.7h0M324.6 162.9h0M324.4 174.3h0M302.3 183.5h0M312.3 190.8h0M315.7 194.2h0M297.1 206.4h0M314.8 191.1h0M328.7 184.8h0M318.1 195.4h0M297.4 196.1h0M294.6 185.8h0M294.3 172.2h0M309.5 161.8h0M294.8 150.2h0M323.7 155h0M332 191.2h0M336.5 188.6h0M304.5 97.8h0M307.4 119.2h0M315.8 99.2h0M331.2 88.9h0M392.8 111.4h0M364.7 139.7h0M412.1 148.6h0M403.6 115.5h0M425 90.8h0M393.2 114.2h0M368 136.3h0M372.3 105.1h0M343.7 124.8h0M422 127.8h0M450.4 72.6h0M361.7 155h0M375.4 147h0M367.7 93.2h0M360.1 135.4h0M409.5 91.5h0M370.3 138.6h0M373 199.1h0"/>
<path d="M276.2 198.7h0M289.1 183.7h0M286.5 204.3h0M289 187h0M291.4 186.9h0M279.4 206.1h0M283.6 193h0M288.9 196.5h0M282 192.2h0M286.7 203h0M278.8 186.4h0M286.2 185.4h0M289.4 206.5h0M284.4 190h0M286.1 201.9h0M276.7 185.4h0M281.3 202.8h0M283.5 193.7h0M276.7 182.5h0M279.5 188.4h0M291.4 189.4h0M281 202.7h0M289.4 201.4h0M276.9 199.5h0M276.3 180.4h0M276.6 203.1h0M281.9 185.6h0M283.6 182.2h0M287.1 199.1h0M291.7 205.8h0M287.1 180.9h0M276.1 194.2h0M291.4 191.6h0M284.6 168.2h0M284.6 201.4h0M283.6 175h0M278.9 178.6h0M289.3 180.6h0M286.3 182.9h0M276.7 193.9h0M276.9 191.8h0M288.7 199.8h0M291.6 203.1h0M291.6 204.4h0M281.5 178.3h0M284 171.7h0M276.8 153.7h0M283.6 155.5h0M297.5 188.5h0M296.7 188.2h0M297.2 167.5h0M297.8 151.1h0M296.8 188.2h0M297.4 188.1h0M296.1 197.5h0M295.8 164.1h0M316.3 152.1h0M317.4 170.5h0M311 167.2h0M313 151.4h0M315.9 162.5h0M316.9 170.9h0M315.5 153.7h0M315.2 133h0M316.4 145.8h0M313.4 172.7h0M312.3 156.7h0M312.7 142.1h0M315.1 173.6h0M315.1 152.1h0M315.3 149.9h0M314.9 160.7h0M316.3 158.5h0M317.1 164.6h0M312 158.6h0M315 176h0M315.4 146.1h0M325 178.2h0M325.1 161.7h0M326.5 161.3h0M326.4 158.5h0M326.8 167.7h0M326.6 164.7h0M326.2 164.5h0M302.7 203.8h0M302.9 180.4h0M297.4 172.8h0M316 179h0M328.9 170.7h0M317.8 180.6h0M327.9 170.4h0M299.4 179.4h0M302.6 177.8h0M313.1 182.7h0M296.6 177.2h0M320.2 161.7h0M328.4 161.6h0M332.9 201.3h0M327.9 147.4h0M310.3 145.5h0M289.2 104.4h0M287 135.9h0M332.1 94.5h0M340.9 148.7h0M406.4 77h0M366.9 99h0M392.8 127.8h0M421.6 96.8h0M390.7 94.5h0M442.3 90.6h0M349 158.6h0M341.4 180.4h0M372.9 112.7h0M418.9 129.2h0M414.5 108.9h0M424.3 94.7h0M417 137h0M406 92h0M338.2 126.9h0M372.5 97.8h0M373.1 193.9h0"/>
<path d="M278.3 196.5h0M291.3 185.5h0M278.4 189.8h0M286.8 196.1h0M283.7 192.3h0M289.6 199.2h0M278.3 186.7h0M289.8 203.6h0M278.9 194.2h0M292.5 202.7h0M292.2 204.9h0M292.2 203h0M291.6 190.6h0M276.6 189.5h0M281.3 188.3h0M291.8 206h0M286.4 200h0M281.4 202h0M292.1 206.7h0M275.7 206.3h0M289.1 205.3h0M291.5 193.2h0M281.7 201.8h0M284.1 181.3h0M276.2 185.8h0M278.3 198.3h0M286.3 189.2h0M286.8 197.8h0M289.6 200h0M281.2 180.8h0M289.9 204.9h0M279.4 187.3h0M281.4 183.7h0M276.9 177.5h0M276.1 172.6h0M291.9 195.4h0M279 204h0M279.5 188.2h0M275.7 177.7h0M288.7 172h0M279.2 204.3h0M281.9 181.9h0M289.1 184.4h0M289 199.5h0M279.1 174.7h0M281.2 159.4h0M289.9 168.1h0M289.8 174.8h0M295.9 168.3h0M296.8 154.5h0M298.1 189.6h0M297.2 192.7h0M297.1 177.5h0M297.7 151.6h0M296.4 190h0M296.4 168.7h0M316 158h0M313.8 152.9h0M313.1 167.6h0M316.9 163h0M315.8 169.6h0M311.7 166.4h0M315.4 151.6h0M314.2 165.1h0M314.4 145h0M312.7 140.1h0M313.5 170h0M315.9 162.8h0M314.1 159.6h0M314.2 159.7h0M317.7 168.4h0M316.1 155.8h0M317.4 152.6h0M316.2 155.4h0M315.4 154.6h0M311.5 152.3h0M313.6 158.9h0M325.1 162.4h0M324.1 156.1h0M323.4 172.2h0M326 164.6h0M324.2 180.8h0M326.5 174.6h0M327 168.3h0M328.2 200.6h0M312.7 181.6h0M307.3 170.7h0M328.3 194.4h0M323.7 179.9h0M320.4 183.3h0M317.9 176.5h0M319.9 180.3h0M299.7 183.2h0M310.2 181.4h0M314.8 160.7h0M320.1 149.9h0M318.5 159.6h0M332 195.7h0M305.1 143.2h0M283.5 98h0M284.4 152.3h0M320.4 142.9h0M326.3 97.7h0M452.8 90.5h0M434.5 81.2h0M346.2 125.4h0M362.8 107.2h0M366.9 110.7h0M377.2 137.1h0M380.9 129.4h0M411.8 145.4h0M379.8 83.4h0M372.7 165.5h0M340.8 130.6h0M424.1 121.5h0M338.2 144.3h0M395.6 106.7h0M432.6 86h0M343.7 180.4h0M333.3 143.9h0M372.2 196.5h0"/>
<path d="M281.6 195.9h0M276.3 201.5h0M292.6 189.6h0M284.1 191.6h0M279.1 201.8h0M284.2 181.4h0M281.4 190.4h0M276.9 181.4h0M291.3 199.9h0M292.5 198h0M292.5 183h0M281.4 201.8h0M284 204.5h0M291.9 187.9h0M292.3 189.1h0M284.1 201.5h0M276.4 197.4h0M289.4 203.2h0M278.4 192.2h0M286.7 194.8h0M281.9 193.9h0M292.3 200.2h0M284.3 184h0M286.3 193.3h0M286.3 205.6h0M289.3 202h0M284 181.1h0M279.1 197.8h0M281.6 182.3h0M284.5 185.2h0M291.9 204.5h0M279.5 183.8h0M283.6 205.8h0M276.2 171.1h0M275.9 197h0M281.9 172.1h0M283.5 199.3h0M276.2 181.4h0M289.7 199.9h0M281 194.1h0M288.8 194.4h0M279 191.6h0M281.8 198.5h0M292.5 182.5h0M288.9 191.3h0M291.7 157.7h0M292.1 155.6h0M289.5 165.2h0M296.7 177.3h0M295.9 196h0M296 156.5h0M296.7 168.6h0M297.3 170.7h0M297.5 167.3h0M295.7 184.7h0M297.8 196.6h0M317.9 149.8h0M314.6 154.2h0M313.3 163.4h0M318.4 160.9h0M316.1 149.7h0M314.2 171.7h0M314.8 152.2h0M311.6 164.2h0M311 176.1h0M315.7 167h0M313.8 171h0M314.5 145.2h0M315.3 156.1h0M315.1 164.7h0M313.2 142.7h0M316.7 135.6h0M315.7 143.8h0M316 134.9h0M316.1 155.4h0M314.3 150.3h0M316.8 147.7h0M326.8 165.7h0M324.8 166.8h0M326.8 181h0M324.8 156.6h0M324 173.4h0M324.6 169.5h0M324.5 164.3h0M310.1 179.9h0M318.1 172.9h0M322.5 204.2h0M310 174.3h0M304.5 201.5h0M313.2 177.2h0M310.4 193h0M315.6 170.7h0M310.2 203.1h0M313.4 193.9h0M307.3 172.1h0M325.8 172.1h0M328.4 173.6h0M332.2 198.3h0M299.8 109.9h0M328.3 121.3h0M310.7 119h0M286.3 146.2h0M297.5 78.5h0M365.1 123.2h0M432.3 110.5h0M404.1 121.6h0M369.6 129.1h0M377.5 82h0M422.3 108.1h0M393.4 140.7h0M393.9 105.9h0M424.1 112.8h0M392.9 114.7h0M403.7 156.2h0M354.8 133.1h0M391.1 129.6h0M357.3 110.3h0M354.3 170.4h0M364.2 135.9h0M440.6 77h0M372.1 194.7h0"/>
<path d="M279.2 196.1h0M289.7 184.1h0M276.5 187.5h0M286.5 189.2h0M289.2 203.8h0M278.3 197h0M283.7 198.8h0M289.7 206.3h0M283.9 196h0M284.7 203.5h0M283.9 194.2h0M287 201.2h0M286.4 191.7h0M292.5 198.9h0M284.3 182.3h0M292.2 192.4h0M283.6 193.8h0M276.7 184.9h0M281.6 201.4h0M291.4 189.2h0M284.1 186.6h0M284.3 200.9h0M275.8 203.9h0M276.6 200.7h0M281.1 187.7h0M287.1 203.8h0M286.1 201.8h0M289.1 204h0M286.2 191h0M276.8 186.6h0M291.6 180.6h0M286.9 202.5h0M286.8 199h0M281.6 179.4h0M282 193.6h0M287 194.2h0M278.6 171.6h0M275.8 191.8h0M286.7 197.5h0M281.3 181.3h0M276.7 188.8h0M275.9 198.1h0M281 200.9h0M292.3 191.6h0M279.4 169.9h0M283.5 172h0M278.7 152.2h0M287.3 153.7h0M296.4 160h0M297.7 154.7h0M297.5 194h0M297.6 169.9h0M296.8 159.5h0M297.6 160.6h0M296.3 156.1h0M296.6 180.1h0M313.3 171.4h0M313.2 141h0M314.1 137.2h0M315.4 152.4h0M316.2 166.1h0M316.6 146.7h0M314.1 146h0M314.1 146h0M313.6 141.1h0M316.3 139.3h0M315.8 154.8h0M314.6 156.9h0M313.4 136.3h0M312.3 164.7h0M313.4 163.4h0M314.5 167.7h0M315.2 167.4h0M313.5 151.2h0M315.4 147.4h0M315.2 175.2h0M315.6 154.2h0M325.2 166.2h0M324.3 155h0M326.1 174.4h0M323.6 174.9h0M324.6 172h0M325.5 165.6h0M326.5 183.8h0M321 177.8h0M320.2 205.4h0M318 182.9h0M328.8 172.4h0M312.8 175.5h0M301.8 203.5h0M328.1 176.5h0M300.3 191.1h0M295 177.7h0M312.4 203.1h0M328 180.4h0M310.7 153.1h0M297.6 164.6h0M332.3 198.9h0M317.7 112.1h0M280.9 134.4h0M287 102h0M315.8 110.5h0M355 104.2h0M374.8 96.5h0M373 101.5h0M406.7 83.1h0M401.9 117.5h0M393 91.9h0M338.6 106.3h0M383.4 109.1h0M394.1 153.4h0M419.9 130h0M388 114.4h0M362.3 168.9h0M388.3 108.3h0M416.6 97.7h0M352.4 144h0M373.2 87.2h0M338.4 189.6h0M424.5 81h0M373 194.8h0"/>
<path d="M281.2 195.2h0M276.6 199.9h0M288.8 200.3h0M276.3 204.9h0M286.5 194.2h0M276.1 190.8h0M281 204.4h0M286.2 194.4h0M278.7 197.1h0M282 186.8h0M278.8 205.6h0M283.8 187.8h0M286.8 184.2h0M286.5 192.3h0M283.9 185.3h0M288.8 182.9h0M286.2 205.2h0M281.7 185h0M286.5 191.1h0M281.4 185.1h0M282.1 184.9h0M289.1 189.2h0M283.7 199h0M287.2 187.2h0M292.1 196.9h0M284.5 200.7h0M284.7 189.6h0M289.8 196.4h0M276.9 205.6h0M276.9 188.3h0M276 187.7h0M278.3 198.1h0M291.6 207.1h0M288.8 200.5h0M281.5 170.2h0M286.1 175.1h0M284.7 204h0M286.2 170.7h0M282 186h0M279.1 184.1h0M279.3 181.7h0M289.3 185.4h0M291.8 197.7h0M276.8 174.8h0M291.6 169.8h0M281.8 157.6h0M282.1 155.6h0M278.4 153.8h0M295.9 166.7h0M296.3 175.5h0M297.8 171.1h0M296.3 193.7h0M296.9 165.1h0M297.2 157.9h0M297.4 195.8h0M296.2 162.1h0M315.4 159.6h0M314.8 163.3h0M314.2 174.3h0M314.6 163.2h0M312.6 164h0M315.8 142h0M316.1 143.1h0M317.2 148.9h0M314 149.6h0M314.7 158.7h0M316.2 153.6h0M315.1 152.7h0M315.8 154.8h0M314.7 145h0M313.3 165.4h0M313.7 159.7h0M318.1 150.4h0M316.8 167.1h0M313.7 136.9h0M315.4 144.9h0M314.3 158.2h0M324.4 163.2h0M324.4 157.4h0M323.7 169.4h0M326.2 184.4h0M325.1 172.4h0M325.7 172.6h0M324.3 174.2h0M294.4 175.6h0M323.3 182.1h0M320.1 193.1h0M317.8 204.6h0M312.3 177.7h0M297.4 172.6h0M300 177.2h0M323.7 203.2h0M300.1 206h0M322.8 199.9h0M308.1 168.8h0M325.5 153.9h0M330.9 168.8h0M335.6 194.9h0M325.8 102.2h0M294.7 145.4h0M281.6 138.4h0M302.6 127h0M344.3 174.4h0M348.6 155.8h0M409.2 109.1h0M349.7 94.1h0M403.3 125.3h0M414.1 81.2h0M401.7 155.9h0M349.1 124.1h0M419.5 116.6h0M333.1 185.2h0M394 122h0M414.9 79.5h0M403.6 128.7h0M406.2 120.5h0M425.2 128.1h0M356.7 150.9h0M403.8 105.6h0M398.5 142.1h0M371.9 199.7h0"/>
<path d="M279.2 181.8h0M289.2 186.5h0M292.3 186h0M288.8 182.8h0M287.2 202.1h0M279.3 204.2h0M283.5 195.8h0M275.9 192h0M286.4 180h0M289.8 195.4h0M289.2 198.2h0M292.3 187.1h0M275.8 188.9h0M291.7 203.2h0M281.8 183.9h0M289.9 188.2h0M281.1 190.4h0M284 195.4h0M291.7 180.9h0M286.6 201.8h0M278.3 181.5h0M288.8 202.1h0M278.3 204.2h0M275.7 191.1h0M276.5 186.6h0M289.2 184.5h0M289.1 206.6h0M278.9 193.5h0M284.5 205.8h0M291.4 196.7h0M284.6 192.5h0M276 201.7h0M284 180.9h0M281.6 206.3h0M284.4 200.6h0M279.4 202.3h0M278.9 179.5h0M291.3 168.7h0M291.3 190.6h0M291.3 195.7h0M281.9 190.5h0M284.3 206.5h0M286.7 192.9h0M291.9 191.3h0M292.1 182.7h0M289.6 156.3h0M279.4 158.4h0M286.6 150.6h0M297.7 167.7h0M295.8 201.5h0M296.9 198.3h0M296.8 178.8h0M296.4 181h0M297.5 188.7h0M297.3 175.9h0M296.4 159.9h0M312.7 170.9h0M316.4 157.7h0M314.3 171.1h0M315.8 151.8h0M317.6 169.2h0M314.2 159h0M314.6 154.8h0M315.3 171.5h0M314.9 170.1h0M313.5 154.4h0M313.5 160.8h0M314.4 158.4h0M316.7 163.4h0M314.5 169.8h0M315.9 146.3h0M318.5 154.2h0M317.5 173.6h0M316.6 161.7h0M314.2 165.8h0M313.1 161.3h0M314 169.8h0M323.9 184.3h0M324.5 165h0M324.3 167.4h0M326.8 160.6h0M326.4 182.5h0M325.5 177.3h0M326.7 167.7h0M321.1 185h0M318.1 197.2h0M317.5 200.1h0M304.7 203.1h0M305.2 186.7h0M320 193.3h0M317.4 175.2h0M327.9 204.8h0M312.8 177.1h0M305.4 171.8h0M297.7 175.2h0M330.8 170.9h0M307 152.1h0M335.6 186.2h0M325.6 153h0M294.5 128h0M318.6 147.2h0M294.2 115.6h0M393.5 89.9h0M411.1 146.5h0M383.1 93.7h0M334 139.5h0M346.7 170.5h0M419 141.8h0M411.1 115.5h0M370.5 95.6h0M380.6 119.8h0M425.3 117.5h0M365.2 127.2h0M367.6 122.8h0M419.1 100h0M341.4 107.7h0M422.1 158.5h0M364.9 98.7h0M361.9 92.1h0M395.8 121.8h0M442.9 83.1h0"/>
<path d="M289.5 198.9h0M276.2 185.6h0M289.2 201.4h0M278.9 204h0M278.8 197.5h0M282 186.6h0M276.3 185.6h0M278.9 199.6h0M284.5 189.6h0M281.4 181.2h0M287 190.5h0M275.8 194.4h0M276.8 188.5h0M284.1 189.4h0M281.8 198.1h0M276.6 194.2h0M287.1 187.6h0M286.8 180.1h0M282.1 197.3h0M284.2 194.4h0M289.6 191.3h0M281.2 186.3h0M292.1 183.9h0M278.8 182.2h0M275.9 187h0M292.1 197.8h0M278.4 192.2h0M291.4 181.3h0M284.1 184.9h0M286.5 201.9h0M286.4 180.2h0M283.5 198h0M276.3 200.2h0M289.7 195.7h0M276.6 186.1h0M278.4 202.8h0M281.6 190.3h0M281.6 168h0M291.8 195.3h0M280.9 194.8h0M283.7 191.8h0M278.4 197.6h0M291.7 190.9h0M289.6 172.6h0M292.5 200h0M278.4 173.9h0M288.7 171.6h0M286.1 150.2h0M296.8 176.1h0M295.8 201.6h0M295.9 203.8h0M296 202.9h0M297.9 200.6h0M295.9 167.6h0M298 165.5h0M295.8 176.5h0M313.6 169.2h0M316.9 149.1h0M314.8 146.8h0M311.6 154h0M311.7 154.4h0M313.7 160.5h0M316.6 153.1h0M311 145.4h0M313.6 146.3h0M316.4 156.1h0M311.4 160.2h0M314.1 155.1h0M313.9 141.7h0M315 136.3h0M315 160.6h0M315.2 158.5h0M318.8 162.1h0M313.8 159.2h0M318.1 157.4h0M313.9 160.1h0M315.1 153.2h0M324.9 182.6h0M326 156h0M323.9 154.9h0M324.3 172.9h0M324.8 164.3h0M324.3 153.7h0M317.6 181.7h0M300 197.3h0M310.4 197.4h0M328.3 177h0M310.4 180.3h0M325.3 190.4h0M323.7 185.7h0M299.7 192.4h0M328.5 185.1h0M310.2 185.4h0M317.6 169.5h0M322.9 155h0M296.6 157.9h0M302.4 156.7h0M335.7 181.8h0M280.9 150.1h0M312.5 143h0M317.3 147.9h0M307.1 157h0M354.1 183.9h0M380.9 84.9h0M370.1 163.4h0M416.9 75.1h0M359.1 110.3h0M357.5 153.2h0M365.1 119.3h0M374.9 175.1h0M411.8 110.8h0M390.9 93.8h0M341.6 179.6h0M343.7 142.3h0M425.1 151.2h0M377.6 108.7h0M396.5 139.5h0M351.3 162.9h0M427.2 105.9h0M406.2 137h0M449.4 64.8h0"/>
<path d="M289.7 195.4h0M284.7 193.8h0M286.5 203h0M284.5 188.7h0M279.5 194.6h0M287.1 202h0M275.8 191.4h0M284.4 202.8h0M292.4 184.4h0M292.5 199.2h0M284.6 185.2h0M281.5 196.2h0M289 181.6h0M283.7 190.1h0M283.7 188h0M286.7 206.6h0M286.5 184.4h0M281.3 184.5h0M275.7 179.7h0M281.1 190.2h0M276.3 202.1h0M289.4 196.3h0M292.1 187.4h0M279.1 181.2h0M286.7 205h0M292 203h0M276.1 185.9h0M284 203h0M289.2 200.1h0M283.5 187.3h0M283.6 197.2h0M281.3 192h0M281.6 169.9h0M284.1 206.9h0M292.3 180.4h0M276.5 176.4h0M291.5 193.7h0M276.7 178.7h0M281.4 206.7h0M284.6 185.1h0M286.6 177.2h0M289.5 200.9h0M287.3 172.5h0M289.7 179.8h0M286.3 191.8h0M281.2 151.8h0M278.3 168.7h0M287.3 167h0M296.8 155.7h0M295.8 180.9h0M296.8 194.7h0M297.4 195.8h0M296.8 181.3h0M297.1 193.2h0M296.7 180.2h0M297.5 183.7h0M314.3 145.9h0M311.6 159.9h0M311.7 168h0M316.6 161.1h0M312.2 169.5h0M318.2 138.4h0M314 146.3h0M314.7 157.1h0M314.5 158.5h0M316.4 162.5h0M315.9 140.8h0M314.8 150.2h0M317.5 150.2h0M316.4 153.5h0M314.9 156.3h0M314 167.5h0M315 152.6h0M316.6 150.9h0M316.5 156.7h0M315.1 157.8h0M316.4 159.5h0M325.3 159.4h0M324.2 162h0M326.5 159h0M324.9 181.7h0M324.2 182.5h0M326.7 165.3h0M320.7 192.8h0M310.1 193h0M315.9 176h0M299.1 200h0M325.3 184.8h0M297.3 197.9h0M293.9 187.2h0M328.6 175.8h0M328.5 192h0M318.3 202.2h0M297.3 178.4h0M312.8 158.8h0M330.5 178.9h0M296.9 171.5h0M335.8 188.6h0M305.3 145.1h0M291.7 133.7h0M307.2 105.1h0M306.9 108.9h0M348.8 166.8h0M372.1 80.1h0M404.1 94.8h0M401.1 170.4h0M416.3 117.9h0M403.5 149.2h0M378.1 103.3h0M427.7 145h0M351.3 103.8h0M351.2 100.6h0M361.6 98.8h0M374.8 105.5h0M359.2 140.2h0M341 157.1h0M434.5 77.9h0M385.8 130.2h0M390.3 132.8h0M362.1 98.8h0M440.3 118.2h0"/>
<path d="M288.9 198.8h0M286.5 197.9h0M291.9 194.7h0M284.4 199.7h0M281.3 179.6h0M289.6 191h0M284.3 201.3h0M286.1 190.8h0M276.4 199h0M288.8 201.7h0M284 184.1h0M289.3 180.7h0M276.2 201.8h0M287.3 206.7h0M289.8 197h0M292.2 190.5h0M286.9 192.1h0M287.1 194.8h0M281 198.7h0M284.6 200.2h0M276.9 184.6h0M286.7 202.7h0M276.8 203.2h0M286.4 187.6h0M283.9 192.1h0M289.7 185.8h0M283.7 185.7h0M286.9 180h0M283.5 186.7h0M279.5 200.2h0M284.3 198.7h0M278.6 181.5h0M291.7 202h0M276 169.4h0M281.7 180.2h0M276.7 177.5h0M281.1 198.8h0M279.2 184.5h0M284.6 195.8h0M291.6 179.9h0M278.3 179.6h0M289.9 188.4h0M291.7 179.1h0M283.9 183.7h0M281.2 204.4h0M295.1 150.3h0M289.2 149.6h0M289.6 150.5h0M296.7 173.3h0M297 168h0M297.8 166.3h0M296.8 151.4h0M298 177.1h0M296.6 198.6h0M295.8 158.1h0M297.3 184.4h0M313.8 170.7h0M315.1 154.9h0M314.2 153.2h0M317.3 162h0M312.6 157.6h0M315 155.2h0M314 147.1h0M311.2 152.4h0M313.8 173h0M317.1 148.6h0M317.8 158.2h0M313.8 142h0M313.3 160.8h0M314.9 167.4h0M315.1 148.9h0M315 162.8h0M312 154.1h0M313.3 144.8h0M316.3 175.7h0M316.2 177.9h0M325.8 177.3h0M326.6 156.1h0M327 169.2h0M323.5 179.3h0M324.6 153.7h0M325.6 175.2h0M326.1 174.9h0M304.9 206.5h0M314.8 201.7h0M294.9 183.2h0M320.2 173.8h0M325.5 181.2h0M300.1 182.7h0M323.8 195.1h0M328.4 194.4h0M294.2 188.9h0M321.2 174h0M302.2 152.4h0M328.4 161.7h0M323.2 165.3h0M332.6 194.8h0M335.7 187.7h0M315.1 98.9h0M293.9 157.3h0M326.3 98.9h0M302.2 75.9h0M367.9 116.3h0M354.9 182.7h0M334.2 112.5h0M424.7 87.1h0M396.4 174.9h0M334 153.3h0M398.4 125.5h0M393.6 146.5h0M393.6 73.8h0M380 115.6h0M378.2 96.4h0M413.9 104.4h0M414.4 71.9h0M345.9 168.3h0M364.9 161.8h0M370.5 144.5h0M351.7 124.4h0M378 146.8h0M427.3 136.4h0"/>
<path d="M286.9 199.3h0M286.1 181.1h0M281.8 201.5h0M281.6 204.8h0M281.3 185.8h0M292 198.5h0M287 200h0M286.1 202.1h0M279.4 188.8h0M289.5 199.4h0M276.9 192.5h0M281.3 185.7h0M286.9 187.8h0M276.5 203.5h0M291.6 205.9h0M276.3 205.4h0M292.2 194h0M289.4 200.3h0M281.6 205.3h0M284 191.8h0M286.4 204.5h0M291.3 181.4h0M287.2 191.2h0M292 192.6h0M289.2 179.5h0M286.5 203.4h0M286.4 201.4h0M278.4 187.8h0M291.4 198.6h0M276.3 181h0M276.8 200.4h0M281.5 202.7h0M289.1 193h0M289.3 181.6h0M276.4 174.8h0M275.8 176h0M276.9 203h0M279.3 182h0M286.7 202.6h0M287.3 192.8h0M289.4 199.4h0M276.8 204.6h0M288.7 169h0M289.6 189.7h0M282.1 203.3h0M287 174.3h0M291.3 166.2h0M286.3 174.2h0M297.7 162.8h0M296.2 190.3h0M297.1 151.3h0M297.1 157.1h0M297.4 185.1h0M296.3 149.8h0M297.1 198.3h0M297.5 195.8h0M313.7 139.1h0M315.6 172.3h0M313.9 178.6h0M314 154h0M312.8 153.3h0M315.2 165.8h0M315.3 162.5h0M312.2 155.5h0M317 157.1h0M313.8 139.6h0M313.4 159.1h0M316.7 149.6h0M314.2 153.7h0M317.4 170.6h0M313.8 163.3h0M316.4 161.2h0M317 151.7h0M312.2 153.7h0M313.2 150.5h0M313.7 146.9h0M323.6 182.4h0M325.5 170.2h0M327 167.3h0M324.5 181.4h0M325.8 178.6h0M323.8 153.9h0M325.7 160.9h0M325.2 199.7h0M309.7 199.8h0M325.6 185.3h0M307.7 184h0M323 184.2h0M297 180.6h0M307.8 177.7h0M318.6 179.1h0M318.5 182.9h0M299.8 200.1h0M309.6 172.7h0M327.9 151.1h0M329 167.4h0M331.8 183.7h0M335.6 177.8h0M317.9 141.8h0M279.2 146.6h0M328.3 115h0M342.8 99.8h0M413.8 97.4h0M343.5 104.7h0M450.1 84.6h0M390.5 121.7h0M424.7 107.3h0M341.2 129h0M406.6 137.9h0M418.9 87.1h0M341.2 137.5h0M364.4 143.7h0M390.9 141.3h0M341.1 158.9h0M357.5 90h0M356.4 133.3h0M447.8 76.9h0M362.8 128h0M343.8 170.8h0M419.8 119.2h0M437.7 128.6h0"/>
</g>
<line x1="276.3" y1="206.7" x2="450.7" y2="32.3" stroke="#777" stroke-width="0.75"/>
<line x1="276.3" y1="189.5" x2="450.7" y2="98.7" stroke="#d62728" stroke-width="0.9" stroke-dasharray="1.8 1.2"/>
<path d="M263.6 27H463.6V217.3" fill="none" stroke="#8a8a8a" stroke-width="1.2"/>
<path d="M263.6 26.4V217.3H464.20000000000005" fill="none" stroke="#555" stroke-width="1.2"/>
<path d="M281.5 217.3v2M307.5 217.3v2M333.6 217.3v2M359.6 217.3v2M385.6 217.3v2M411.6 217.3v2M437.7 217.3v2M263.6 201.5h-2M263.6 175.5h-2M263.6 149.4h-2M263.6 123.4h-2M263.6 97.4h-2M263.6 71.3h-2M263.6 45.3h-2" stroke="#333" stroke-width="0.6"/>
<g font-size="4.6" fill="#555"><text x="281.5" y="223.8" text-anchor="middle">20</text><text x="307.5" y="223.8" text-anchor="middle">30</text><text x="333.6" y="223.8" text-anchor="middle">40</text><text x="359.6" y="223.8" text-anchor="middle">50</text><text x="385.6" y="223.8" text-anchor="middle">60</text><text x="411.6" y="223.8" text-anchor="middle">70</text><text x="437.7" y="223.8" text-anchor="middle">80</text><text x="261.4" y="203.8" text-anchor="end">20</text><text x="261.4" y="177.8" text-anchor="end">30</text><text x="261.4" y="151.7" text-anchor="end">40</text><text x="261.4" y="125.7" text-anchor="end">50</text><text x="261.4" y="99.7" text-anchor="end">60</text><text x="261.4" y="73.6" text-anchor="end">70</text><text x="261.4" y="47.6" text-anchor="end">80</text></g>
<text x="275.8" y="45.9" font-size="9.6" fill="#111" stroke="#111" stroke-width="0.3">R<tspan font-size="5.8" dy="-3.7">2</tspan><tspan dy="3.7"> = 0.42</tspan></text>
<text x="289.7" y="19.7" font-size="12" fill="#111" stroke="#111" stroke-width="0.6" textLength="133.70000000000002" lengthAdjust="spacingAndGlyphs">MAE = 7.02 ± 1.82 years</text>
<text x="251.8" y="23.6" font-size="16.5" font-weight="bold" fill="#111" stroke="#111" stroke-width="0.3">b</text>
<text x="225.6" y="122.5" transform="rotate(-90 253.6 122.5) translate(0 0)" font-size="4.7" font-weight="bold" fill="#222" textLength="56" lengthAdjust="spacingAndGlyphs">Predicted Age (years)</text>
<path d="M500.2 26.8V217.2M524.4 26.8V217.2M548.6 26.8V217.2M572.8 26.8V217.2M597 26.8V217.2M621.1 26.8V217.2M645.3 26.8V217.2M669.5 26.8V217.2M482.4 203.9H682.7M482.4 179.7H682.7M482.4 155.5H682.7M482.4 131.3H682.7M482.4 107.1H682.7M482.4 82.9H682.7M482.4 58.7H682.7M482.4 34.5H682.7" stroke="#e6e6e6" stroke-width="0.5" stroke-dasharray="1 1" fill="none"/>
<g clip-path="url(#cc)" fill="none" stroke="#4169e1" stroke-opacity="0.32" stroke-width="3.2" stroke-linecap="round">
<path d="M607 153.3h0M619.1 83h0M615.7 128.5h0M594 82.7h0M514.5 146.1h0M504.6 155.7h0M597.3 121.4h0M550.8 153.4h0M633.4 133.4h0M599.6 123.9h0M575.3 123.7h0M597.1 141.2h0M570.8 83.3h0M587.6 111.8h0M579.4 129.2h0M621.7 124.1h0M519.9 148.2h0M613.5 126.1h0M574.8 138.7h0M505 153h0M611.1 152.9h0M619 121.5h0M570.6 153.3h0M638.2 124.3h0M594.8 138.6h0M575.8 129h0M497.4 179.4h0M599.2 104.7h0M616.1 123.8h0M591.6 129.2h0M572.3 128.6h0M527.3 138.9h0M596.8 99.7h0M662.1 68.2h0M585.5 155.4h0M615.9 124.1h0M519.1 162.7h0M594.1 133.8h0M611.8 128.7h0M503 126.2h0M616.6 126.1h0M543.6 124h0M608.9 148.6h0M519.3 133.8h0M567.7 102.2h0M618.2 114.7h0M551.2 145.8h0M527 141h0M556.3 177.5h0M623.4 95.3h0M519.5 138.3h0M524.9 186.9h0M555.3 150.9h0M560.5 102.2h0M550.4 145.9h0M534.3 145.9h0M507.8 150.9h0M534.6 143.5h0M640.7 109.3h0M594 138.6h0M565.4 131.6h0M550.6 114.4h0M533.6 141h0M613.3 111.6h0M557.9 126.8h0M601.4 80.3h0M557.9 133.4h0M497.5 148h0M611.2 140.7h0M575.8 123.8h0M560.7 138.9h0M495.1 134h0M587.7 131.5h0M606.4 118.9h0M524.9 194.2h0M570.7 153.1h0M575.7 117.1h0M555.8 194.4h0M616.4 141h0M572.5 95.1h0M529.5 150.3h0M529 119.1h0M553.9 102h0M534.4 163.1h0M597.5 114.1h0M509.8 126.2h0M519.7 131.6h0M548.5 150.4h0M597 153.2h0M514.9 129.2h0M539.4 129.1h0M635.6 92.9h0M524.3 153h0M638.5 100.1h0M549.1 136.3h0M628.3 145.9h0M551.2 126.7h0M608.7 126.8h0M587.5 135.8h0M524.3 175.1h0M575.1 99.8h0M541.3 165.5h0M599.4 107.2h0M596.6 121.5h0M567.4 124.2h0M589.5 157.7h0M621.3 124h0M565.5 116.6h0M549.1 157.6h0M568 121.5h0M580.3 164.9h0M603.7 140.8h0M526.7 143.6h0M543.3 104.5h0M592.3 128.5h0M557.8 116.9h0M577.5 129h0M567.5 114.3h0M574.9 128.9h0M577.8 126.5h0M575.1 114.3h0M589.5 133.4h0M606.8 114.3h0M585.2 147.9h0M563.1 119h0M589.5 121.4h0M584.9 131h0M517.3 136.4h0M507.6 148.4h0M522.3 145.5h0M528.9 138.8h0M529.5 114.5h0"/>
<path d="M587.1 152.9h0M562.8 140.7h0M563.4 160.2h0M495.8 184.9h0M599.6 87.8h0M599.7 141.2h0M527.2 128.8h0M603.7 140.8h0M543.5 150.8h0M594.1 128.8h0M606.8 111.7h0M608.6 119.2h0M582.5 124.3h0M626.1 133.5h0M548.6 138.7h0M533.9 136.1h0M574.8 136.4h0M607.1 155.7h0M519.2 118.9h0M620.9 152.8h0M611.9 136.3h0M558 128.6h0M543.5 109.6h0M623.7 138.4h0M526.2 126.6h0M529.3 117.1h0M606.3 111.7h0M578.2 82.8h0M509.8 167.8h0M580.5 82.9h0M507.8 172.7h0M529 112.2h0M616.6 141.3h0M575.6 128.7h0M549.1 141.3h0M618.3 100.2h0M573.4 92.2h0M599.8 136.3h0M618.6 126.6h0M534.5 138.8h0M574.6 102.1h0M592.2 148.3h0M589.9 89.8h0M604.6 109.6h0M494.9 206.4h0M618.2 119.6h0M597.5 140.7h0M599.1 114.5h0M620.6 89.9h0M580.4 148.3h0M514.1 150.8h0M585.1 138.9h0M618.1 148.5h0M519.8 177.3h0M618.8 131.3h0M548.1 121.8h0M623.3 104.9h0M582.7 146h0M526.8 141.1h0M570.2 160.4h0M548.6 158h0M611.7 109.6h0M534 104.5h0M543.6 167.4h0M606.6 121.6h0M624.1 102.1h0M608.8 134.1h0M504.7 162.7h0M524.5 136h0M602 78.3h0M620.8 85.3h0M524 158.2h0M624 104.8h0M534.5 133.6h0M586.7 164.8h0M526.2 182h0M529.7 136.4h0M546.3 140.9h0M613.4 109.6h0M494.8 162.7h0M609.1 138.7h0M604.4 114.4h0M561.1 126.6h0M604.3 128.6h0M635.8 160.1h0M572.4 133.9h0M562.9 136h0M608.7 94.9h0M601.4 104.8h0M570.9 121.9h0M582.1 112h0M584.4 106.9h0M548.1 150.8h0M507.6 162.8h0M507.5 138.2h0M551.1 153h0M535.9 158.2h0M591.9 126.4h0M595 134h0M548.2 153.4h0M587.3 165.2h0M515.2 194.2h0M577.4 95.3h0M584.4 148.2h0M553.4 160h0M560.2 134.1h0M587.3 153.4h0M499.8 203.6h0M570.9 150.5h0M526.8 165.3h0M592.2 123.8h0M594.5 104.5h0M550.8 114.7h0M556 145.8h0M572.3 114.4h0M572.2 136.2h0M553.9 104.7h0M541.1 150.4h0M577.8 135.9h0M568.2 124.4h0M562.8 116.7h0M544.3 121.5h0M580.4 138.3h0M573.2 131h0M604.2 114.4h0M604.8 106.9h0M572.3 128.6h0M531.7 146h0M528.7 160.4h0M540.9 133.4h0M541.5 133.8h0M548.9 155.7h0"/>
<path d="M637.8 121.3h0M587.4 150.9h0M604.5 124.1h0M619 158.2h0M528.7 117.1h0M572.5 116.5h0M519.9 145.5h0M635.9 109.4h0M497.9 146h0M534.6 131.3h0M623.8 109.3h0M607 136.4h0M499.8 155.3h0M607.2 133.9h0M606.7 152.9h0M575.8 106.8h0M519.2 153.4h0M531.2 165.1h0M623.8 121.8h0M606.1 111.9h0M578.1 131.4h0M603.9 140.6h0M567.6 117h0M601.3 121.6h0M560.2 167.6h0M563.3 158h0M589.5 104.6h0M514.5 182h0M642.8 107.3h0M615.8 118.9h0M575.5 136h0M524 140.9h0M574.7 133.5h0M502.8 158.1h0M598.8 102h0M632.8 101.9h0M607.2 119.3h0M575.7 133.7h0M502.7 143.4h0M546.3 111.7h0M502 162.7h0M528.6 138.4h0M526.3 133.7h0M603.8 119h0M589.4 134.1h0M589.5 123.8h0M504.9 153h0M507.5 172.6h0M538.7 189.5h0M519.6 151h0M507.7 136h0M551.1 145.6h0M575.5 148h0M577.3 128.6h0M610.9 133.7h0M602.2 107.3h0M604.7 90.2h0M568.4 111.6h0M546.4 124h0M579.5 158h0M623.8 102.5h0M616.5 150.7h0M514.2 119.2h0M495.5 162.9h0M516.6 167.6h0M594.3 124.2h0M526.3 119.3h0M555.3 131.6h0M502.8 148.3h0M603.7 124.3h0M556.2 119.5h0M548 167.6h0M546 136h0M598.9 107.1h0M601.9 95.1h0M510.3 184.4h0M563.4 124.3h0M606.8 104.8h0M568.1 90.4h0M507.1 138.8h0M599.1 138.6h0M568.3 102.3h0M548.9 153.3h0M584.7 111.7h0M539.2 136.4h0M529.7 143.3h0M528.7 135.8h0M574.8 124.3h0M626.3 94.9h0M539.5 124.2h0M609.4 106.9h0M510.4 114.2h0M548.1 175.1h0M505.4 162.7h0M529 104.5h0M556.3 150.3h0M616.4 114.7h0M574.9 112h0M512.6 174.8h0M591.7 129h0M522.5 138.6h0M519.2 157.8h0M577.5 136.2h0M504.8 141h0M603.8 136.5h0M611.3 126.6h0M548.8 101.9h0M585.4 133.6h0M608.9 104.4h0M607.1 119.2h0M596.6 131.1h0M543.3 102.3h0M560.2 145.8h0M574.7 118.9h0M550.5 157.8h0M587.4 150.4h0M568.4 99.7h0M534.5 124.1h0M590.3 121.3h0M570 102.2h0M541.7 134h0M575.3 94.7h0M570.1 136.3h0M583 119.5h0M550.9 126.8h0M546 131.6h0M580.6 128.6h0M539.4 143.1h0M541.8 150.6h0M514.8 136.5h0M519.4 135.8h0M545.8 150.7h0"/>
<path d="M522.4 143.2h0M623.2 119h0M504.5 138.5h0M606.6 126.6h0M495.8 141h0M517.5 189.5h0M536.2 141.3h0M505.3 119h0M498.4 138.8h0M558.2 148.1h0M556.3 174.7h0M538.7 143.7h0M599 136.2h0M608.8 123.8h0M652.9 126.2h0M618.8 136.1h0M621 73h0M514.6 179.6h0M625.6 126.4h0M536.9 155.5h0M538.9 118.9h0M594.1 140.9h0M586.8 124.3h0M568.3 105h0M609.5 136.1h0M585.2 123.8h0M623.5 136h0M594.4 128.6h0M580.2 114.2h0M526.8 118.9h0M638.4 85h0M590.1 121.6h0M586.7 117.1h0M505.3 133.9h0M606.8 129.1h0M575.4 136.2h0M621.3 97.7h0M560.8 143.7h0M623.5 114.4h0M585.2 129.2h0M541.6 148.5h0M550.8 140.8h0M497.9 150.5h0M619.3 138.6h0M546.7 109.6h0M504.6 114.6h0M618.9 73.2h0M514.8 187.1h0M619.2 129.2h0M587.8 129.2h0M594.5 116.9h0M626.2 153.3h0M544.3 102.2h0M536.2 126.4h0M565.8 145.7h0M618.5 104.8h0M621.7 106.8h0M541.3 181.8h0M560.7 177.4h0M512.6 148.3h0M641 131.6h0M597.5 99.7h0M591.9 107.1h0M623.2 133.4h0M566.1 141.1h0M575.3 112.1h0M611.4 155.6h0M494.8 109.3h0M574.6 135.9h0M495.5 165.5h0M570.3 136.5h0M625.7 117.1h0M499.8 165.3h0M543.1 172.5h0M497.9 143.3h0M548.4 136.2h0M587.7 143.3h0M500.5 131.1h0M533.8 160.6h0M560.1 143.2h0M515.2 141.3h0M621.6 133.5h0M529.7 177.6h0M502.4 131.3h0M598.9 133.9h0M570.8 155.3h0M611.7 146h0M584.7 143.6h0M587 128.9h0M567.8 97.7h0M582.5 94.8h0M514.6 160.1h0M523.8 126.4h0M589.9 121.8h0M582 135.8h0M609 82.7h0M543.5 157.7h0M611.1 128.5h0M615.9 87.8h0M563.5 158h0M590.1 141.1h0M580 136.1h0M604 114.3h0M522.2 150.3h0M519.8 148.1h0M541.2 153.2h0M514.6 158.1h0M608.6 117h0M550.4 160.2h0M585 109.7h0M587.3 121.7h0M604.5 124h0M601.5 124.1h0M589.4 111.9h0M580.2 131.6h0M548.9 109.2h0M582.1 151h0M608.9 118.9h0M572.7 109.8h0M562.7 104.4h0M594.1 109.8h0M598.8 99.9h0M591.8 112h0M594.6 160.7h0M565.3 102.2h0M548.8 136.1h0M557.8 131.1h0M522.2 133.5h0M541.7 121.8h0M519.6 155.6h0M517.7 148.5h0M517 150.7h0"/>
<path d="M582.1 140.7h0M512.9 165h0M567.8 138.5h0M626.3 102.2h0M599 138.7h0M652.2 89.8h0M516.9 155.3h0M570.2 106.9h0M524.9 128.9h0M546.3 109.2h0M541.6 165h0M529.8 133.8h0M578 104.9h0M551.4 158.2h0M614.4 177.1h0M538.7 129.1h0M579.6 143.3h0M556.4 145.7h0M575.2 136.4h0M626.1 117.1h0M555.7 138.9h0M518.9 167.4h0M495.8 165.3h0M569.8 146h0M527 155.4h0M529.8 162.9h0M495.7 111.7h0M594.1 162.8h0M626.3 121.5h0M595.1 189.1h0M534.1 126.2h0M519.7 158h0M645.4 97.1h0M519.7 143.3h0M635.9 117h0M618.3 123.9h0M563.4 123.9h0M543.8 131.1h0M580.5 131.3h0M534 153.4h0M565.1 160h0M599.1 143.5h0M512.4 165.2h0M585.4 138.7h0M502.4 169.8h0M553.2 133.5h0M626.1 129.2h0M555.7 118.9h0M594.7 148.4h0M524.1 170.1h0M565.7 155.1h0M528.9 155.3h0M597.3 121.7h0M514.5 106.8h0M514.6 145.9h0M601.3 150.7h0M556.3 157.7h0M606.1 109.3h0M596.8 114.1h0M573.1 165.3h0M594.7 126.5h0M560.2 104.8h0M623.3 126.2h0M500.8 182.2h0M562.5 148h0M575.4 131.2h0M515 138.8h0M500.1 165.5h0M615.9 119h0M627.9 102.3h0M613.5 104.9h0M583 116.9h0M548.3 133.9h0M560.6 126.5h0M505.4 131.6h0M592.3 119.1h0M514.9 140.9h0M609.4 114.2h0M502.7 148.5h0M647.3 109.8h0M589.9 177.2h0M564.9 131.6h0M579.8 124h0M595 109.2h0M616.8 85.1h0M534.1 182.4h0M522.2 133.9h0M620.8 104.6h0M505.4 152.7h0M620.6 109.8h0M548.2 157.9h0M560.3 148.3h0M565.9 150.9h0M586.8 131.6h0M593.9 143.5h0M505.6 141h0M560.5 172.4h0M541.8 180h0M517.5 131.3h0M604 126.3h0M577.8 124.4h0M625.9 94.7h0M565.9 138.3h0M601.3 119.1h0M621.7 141.1h0M524.7 167.7h0M594.3 97.7h0M497.8 182.4h0M615.8 153.2h0M526.9 191.7h0M572.7 99.6h0M578.1 145.6h0M570.2 102.5h0M601.4 136h0M560.8 158h0M570.8 123.7h0M524.6 124.3h0M572.5 102h0M577.4 109.5h0M582.4 128.9h0M580 141h0M572.6 109.2h0M577.7 136.5h0M594.6 143.1h0M589.7 140.8h0M580 105h0M569.9 128.7h0M550.5 143.4h0M543.4 105h0M507.2 153.2h0M529.8 141.3h0M536.1 143.6h0"/>
<path d="M541.2 150.3h0M553 145.8h0M565 157.8h0M591.9 114.7h0M497.5 164.9h0M537 121.8h0M541.5 160.1h0M621 116.6h0M626.1 97.3h0M572.5 138.5h0M594.4 119.5h0M512.8 186.8h0M522.1 157.8h0M633.6 112.1h0M620.7 80.5h0M519.4 179.7h0M519.7 189.5h0M623.8 104.3h0M565.7 111.7h0M580.6 138.6h0M599.6 169.8h0M507 106.8h0M609.4 111.8h0M531.6 143.2h0M543.7 133.6h0M625.4 148.5h0M643.5 99.9h0M597.3 129.2h0M570.5 140.8h0M507.5 148.2h0M596.5 100.1h0M536.2 155.4h0M589.6 119.3h0M512.6 148.2h0M619 121.8h0M563.6 153.3h0M563.5 116.5h0M545.6 124.4h0M609.3 131.3h0M558 133.9h0M565.5 133.7h0M601.2 94.7h0M610.9 94.7h0M506.9 179.6h0M620.7 170.2h0M549 167.5h0M660.3 97.4h0M515 160.4h0M606.3 78.3h0M635.6 109.7h0M558.2 124.2h0M613.4 123.9h0M598.8 119.5h0M611.3 87.7h0M502.6 165.3h0M599 99.6h0M597 148h0M575.7 112h0M534.1 157.6h0M631.3 129.1h0M635.1 117.1h0M512 126.2h0M589.3 90.3h0M529.4 167.7h0M543.4 136.1h0M647.3 112.1h0M611.1 124.2h0M594.9 73.3h0M587.5 129.2h0M609.4 114.5h0M517 145.7h0M572.3 116.9h0M625.6 128.9h0M502.2 152.8h0M533.5 133.6h0M616.9 135.9h0M541.4 90.1h0M519.4 184.2h0M498.4 167.4h0M558.2 131.6h0M587.5 158h0M573 131.4h0M604.8 133.4h0M581.9 119.1h0M550.9 148.4h0M619 119.5h0M563.7 155.4h0M577 152.8h0M643 109.6h0M589.3 114.4h0M543.4 138.9h0M570.1 141.3h0M628 97.4h0M560.6 153.3h0M505.2 165.1h0M599.9 104.8h0M527.2 167.5h0M548.4 126.5h0M543.3 172.2h0M582.6 138.5h0M612 141h0M623.6 104.6h0M522.5 128.6h0M538.9 164.9h0M550.6 136.2h0M596.7 172.5h0M514.4 199.1h0M592.6 129.2h0M553.5 121.8h0M619.1 99.6h0M602.2 152.8h0M558 135.9h0M589.2 131.2h0M583 155.6h0M592.4 131.3h0M560.9 131h0M557.7 140.9h0M557.9 160.6h0M582.5 99.7h0M577.1 136.5h0M555.4 107.2h0M589.2 126.5h0M596.8 136.4h0M553.2 145.6h0M555.6 138.9h0M538.4 143.7h0M548.2 126.2h0M553.1 135.9h0M533.9 131.6h0M539.2 136.1h0M524.4 153.3h0M539 150.7h0"/>
<path d="M616.5 121.3h0M603.7 124h0M603.9 119.1h0M577.9 133.6h0M582.2 82.7h0M536.5 136.4h0M603.7 111.7h0M575.6 148.6h0M596.8 153h0M654.9 119.2h0M645.9 83.3h0M592.4 112.1h0M616.1 124.2h0M573 102h0M512.9 198.7h0M616.6 83.1h0M567.5 116.5h0M543.3 126.4h0M627.9 83.2h0M519.9 155.4h0M506.9 150.4h0M604.3 99.9h0M577.7 107h0M606.2 95.1h0M548.6 172.1h0M568.3 152.7h0M526.9 104.6h0M524.6 126.1h0M494.9 153.2h0M495.6 124h0M577.5 109.7h0M590.3 102.3h0M548.7 186.9h0M553.2 123.9h0M580.6 104.4h0M495.1 186.6h0M602.1 121.7h0M650.5 107.1h0M526.9 157.9h0M536.8 114.6h0M570.3 124h0M611.8 90.2h0M563.4 165.2h0M607.2 160.5h0M611 145.6h0M522.2 131.1h0M572.7 128.7h0M607 123.9h0M623.1 141.2h0M630.3 104.7h0M596.5 143.1h0M613.9 131h0M621.5 104.3h0M570.9 111.9h0M604.5 85.7h0M611.3 102.2h0M536.7 158.1h0M604 153.3h0M548 131.1h0M560.2 145.7h0M512.2 131.2h0M620.8 134h0M555.2 148.2h0M584.7 157.6h0M604 131.4h0M545.6 116.8h0M541.1 150.4h0M524.4 129.2h0M531.3 182.5h0M616.5 124h0M548.5 117.1h0M521.4 153.3h0M558.5 114.1h0M553.1 133.7h0M558.6 148h0M508 121.7h0M517 196.8h0M597.4 111.7h0M509.8 187.1h0M495.7 136.2h0M611.8 102h0M515.2 158.2h0M553.8 133.5h0M512 133.6h0M613.8 116.9h0M589.7 128.7h0M604.1 126.5h0M526.3 129h0M527.2 191.9h0M541.3 135.9h0M541 131.1h0M596.5 114.2h0M531.5 121.4h0M602 124.2h0M623.5 121.4h0M541.2 153.2h0M526.7 167.4h0M623.1 135.9h0M587.6 133.9h0M515.2 160.6h0M633.4 155.5h0M589.8 162.6h0M604.4 73.6h0M602.2 148.1h0M643.1 107.1h0M623.6 131.3h0M604.1 109.2h0M592.4 145.7h0M621.1 92.8h0M602.2 143.3h0M555.3 111.6h0M585.1 121.6h0M596.6 157.6h0M596.5 128.7h0M585.1 133.4h0M553.8 128.9h0M560.6 141.2h0M548.7 138.8h0M557.8 116.9h0M575.4 123.7h0M560.2 155.5h0M570.3 133.4h0M577.5 126.4h0M577.5 133.4h0M587.8 123.8h0M543.6 133.7h0M560.1 138.4h0M552.8 167.3h0M526.5 123.9h0M522.3 107.1h0M522 138.3h0M506.9 138.2h0"/>
<path d="M570.3 148.1h0M561.1 138.4h0M541.3 143.5h0M619.1 136h0M613.9 90.2h0M543.6 160h0M587.7 145.9h0M558.1 157.9h0M536.3 126.3h0M606.5 131.4h0M587.5 133.8h0M545.8 169.9h0M601.9 138.4h0M606.5 99.9h0M558 128.6h0M582.2 155.7h0M650.1 99.8h0M602.3 136.2h0M592.3 121.8h0M551.4 124.3h0M592.7 123.8h0M497.2 145.8h0M563.5 109.5h0M524.8 141.3h0M643 119.3h0M555.4 119.3h0M597.1 136.4h0M579.7 141.3h0M608.8 111.8h0M623.7 131.2h0M495.1 150.5h0M538.8 158.2h0M602.2 145.6h0M553 174.8h0M556 129h0M577.1 126.2h0M606.4 116.4h0M580.4 111.8h0M561.2 145.9h0M616.9 126.6h0M534.5 174.6h0M586.7 143.6h0M532.1 135.8h0M601.3 160.4h0M520 151h0M660 114.5h0M630.5 136h0M514.8 145.8h0M647.5 148.3h0M561.1 107h0M587.8 153.1h0M599.2 150.6h0M553 175h0M616.9 119h0M611.9 138.9h0M654.6 95.1h0M584.7 131.2h0M504.5 160.2h0M556.4 147.9h0M611.1 128.8h0M619.1 114.6h0M640.1 112.3h0M599.4 138.7h0M616.1 107.1h0M512.4 203.9h0M550.9 146h0M512.4 138.5h0M570 134h0M524.1 126.8h0M506.9 119.3h0M544.3 155.6h0M531.6 133.5h0M620.6 163.1h0M592 95.1h0M550.8 104.5h0M494.8 174.7h0M553.7 133.5h0M507.3 175.1h0M628.6 82.9h0M577.4 119.1h0M616.2 109.5h0M611.9 102.5h0M601.7 147.9h0M575.4 128.6h0M514.2 155.6h0M608.8 133.4h0M563.3 129h0M614.2 105h0M531.2 126.6h0M650.4 131.1h0M621.5 87.7h0M495.5 152.9h0M546.2 138.6h0M606.8 138.4h0M560.7 104.6h0M505.3 155.4h0M498.2 143.2h0M543.5 123.8h0M512.7 184.4h0M526.5 191.6h0M609.3 163.1h0M638.6 116.6h0M554 155.2h0M561.1 138.3h0M596.4 111.9h0M522 162.4h0M633 148.4h0M575.6 80.7h0M596.9 124.3h0M606.5 138.2h0M572.5 114.5h0M601.6 133.4h0M528.9 117.1h0M575.2 133.6h0M590.2 85.5h0M560.7 131h0M570.4 126.1h0M560.1 131.3h0M536.2 114.6h0M580.4 138.4h0M567.8 124.3h0M587 140.9h0M584.4 133.4h0M587 128.8h0M565.7 109.2h0M590.2 135.8h0M595.1 109.7h0M510.1 146.1h0M531.5 179.5h0M507.5 104.7h0M536.2 138.7h0M531.2 189.6h0"/>
<path d="M550.8 119.2h0M550.8 136.3h0M611.3 131.6h0M582.9 99.9h0M560.5 148.3h0M611.9 118.9h0M587.7 123.7h0M565.4 136.1h0M621.5 128.7h0M517.2 129.1h0M536.6 126.2h0M615.9 95.1h0M502.5 179.9h0M546.3 174.7h0M580.1 155.7h0M567.6 136.5h0M517.7 158.2h0M621.2 126.5h0M495.7 162.9h0M594 124.4h0M580.6 131.6h0M621.1 109.8h0M635.7 114.2h0M507.7 165.2h0M594.6 145.7h0M550.8 126.5h0M543.1 182.2h0M495.2 106.9h0M584.8 119h0M603.7 106.8h0M538.7 170.3h0M548.6 114.2h0M580.3 129h0M539 121.7h0M596.7 150.6h0M570.9 114.6h0M494.9 155.8h0M509.4 146h0M502.5 170.2h0M615.9 176.9h0M594.7 143.5h0M587.5 116.6h0M620.9 133.7h0M555.9 170.3h0M500.3 169.7h0M497.5 170.3h0M512.1 189.2h0M560.5 153h0M621.3 87.8h0M560.2 170.1h0M565.3 106.9h0M526.5 143.3h0M611.9 129.2h0M594.8 141.1h0M585.3 116.8h0M575.6 111.7h0M549.2 150.6h0M534.6 112.3h0M616.2 131.4h0M546.1 138.5h0M591.7 119.1h0M621.2 131.5h0M589.7 133.7h0M512.1 155.2h0M590.1 143.7h0M608.8 95h0M553.9 131.6h0M609.3 112.1h0M562.7 157.9h0M572.9 143.7h0M582 104.4h0M550.9 121.4h0M613.4 128.6h0M555.3 119.5h0M606.5 141.3h0M565.1 135.8h0M582.6 136h0M613.7 143.5h0M546.5 147.9h0M552.9 160.6h0M514.7 155.7h0M623.7 129h0M643.3 104.5h0M597 109.4h0M505.3 170.3h0M565 153.1h0M608.9 114.1h0M616.2 114.6h0M594.1 138.9h0M594.3 87.5h0M635.8 152.9h0M577.9 138.4h0M502.6 138.8h0M536.6 148.1h0M555.6 133.5h0M534.1 143.1h0M534 143.5h0M541.9 150.6h0M594.6 162.9h0M538.9 160.2h0M519.3 138.3h0M500.2 141.3h0M531.6 138.4h0M614.4 134h0M618.4 146h0M539.5 162.5h0M562.6 150.8h0M608.8 134h0M567.5 102.1h0M548.6 165.4h0M565.3 97.6h0M575 102h0M575.3 109.5h0M589.5 102.1h0M579.8 119.5h0M553.9 133.8h0M560.8 143.4h0M546.2 117h0M597.1 131.2h0M539.3 146.1h0M561 131.1h0M526.3 131h0M568.2 129.2h0M580.6 109.2h0M609.6 121.4h0M565.7 124.3h0M556.4 102.4h0M538.7 126.4h0M526.6 136.2h0M521.9 128.8h0M515.1 138.9h0M517.3 151h0"/>
<path d="M598.9 121.6h0M497.9 116.6h0M616.5 138.5h0M618.9 111.8h0M545.8 145.9h0M657.7 121.8h0M555.4 148.3h0M618.8 107.4h0M560.6 114.6h0M538.7 104.5h0M608.6 121.4h0M575.5 136.1h0M509.5 162.6h0M643 87.5h0M647.2 107.1h0M520.1 169.8h0M568.3 124h0M611 109.2h0M616.1 133.8h0M514.9 177.6h0M533.5 165.5h0M587 138.8h0M524.1 114.2h0M627.9 92.9h0M522.1 136.1h0M618.2 136.3h0M582.7 124.3h0M607.2 126.8h0M609.5 92.7h0M553.6 104.5h0M524 150.8h0M625.4 151h0M505.1 184.7h0M590.1 85.3h0M494.9 143.1h0M587.4 111.6h0M555.3 124.2h0M614.3 131.4h0M543.7 135.9h0M563.5 107.2h0M611.7 109.4h0M534.6 138.6h0M522 152.8h0M594.5 141.1h0M550.8 90.1h0M655.3 109.3h0M555.3 141.1h0M607 102h0M619.1 123.9h0M659.5 77.9h0M614.1 162.9h0M618.3 140.9h0M556.2 187.2h0M556.1 128.7h0M560.8 97.4h0M526.8 148.2h0M539.3 126.8h0M522 165.3h0M620.6 131.3h0M558.1 143.6h0M562.8 117h0M578 107.1h0M549 104.6h0M545.6 182.4h0M616.3 133.9h0M572.2 136.2h0M623.4 121.9h0M519.4 99.9h0M587.8 109.8h0M522 172.5h0M638.1 107h0M626.5 123.9h0M604.3 126.2h0M618.9 145.9h0M541.7 136.2h0M548.4 148h0M643 85.2h0M575.4 131.1h0M548.5 116.8h0M604.4 145.9h0M621.4 133.8h0M620.9 80.6h0M517.1 143.4h0M531.9 155.7h0M509.8 196.3h0M621.7 109.2h0M630.7 102.5h0M589.9 126.8h0M633.5 119.2h0M543.6 138.8h0M505.2 136h0M496 145.7h0M517.3 162.8h0M514.5 158h0M585 138.7h0M532.2 170.1h0M522.3 140.7h0M543.3 124.2h0M514.1 121.5h0M580 82.5h0M558.3 143.3h0M585.1 92.5h0M511.7 123.7h0M615.7 101.9h0M604.8 97.6h0M558.5 157.8h0M624.2 123.8h0M524.9 148h0M507.2 165.5h0M623.1 90.4h0M557.9 140.8h0M568.1 92.5h0M592.6 136.4h0M575.2 143.5h0M574.7 138.4h0M561.1 128.9h0M561.2 121.3h0M541.1 145.5h0M565.9 153h0M556.3 126.7h0M538.3 126.7h0M561.2 116.8h0M565 143.2h0M592.4 131.5h0M582.5 109.7h0M558.1 121.8h0M580 133.7h0M522.2 155.8h0M515.1 150.5h0M551.1 187h0M534.5 126.8h0M517.4 191.8h0"/>
<path d="M618.4 92.9h0M573.1 160.5h0M603.8 136.2h0M601.5 109.3h0M579.8 109.6h0M558.6 151h0M572.6 150.3h0M499.9 119.4h0M615.9 126.1h0M599.6 138.8h0M556.4 121.6h0M638.4 123.7h0M611.4 119.1h0M613.8 97.3h0M551.5 129.1h0M568.1 121.6h0M577.7 102.6h0M626.2 105h0M606.9 150.7h0M531.9 155.6h0M619.3 109.2h0M558.4 131.3h0M609.4 89.8h0M555.4 138.5h0M575 143.7h0M514.7 109.4h0M612.1 143.4h0M606.7 114.5h0M621.1 119.5h0M589.5 126.4h0M582.3 112.1h0M509.4 191.8h0M570.5 143.2h0M645.4 104.7h0M539 148.3h0M606.4 133.5h0M562.6 170.1h0M597.2 140.9h0M606.6 109.6h0M504.6 155.7h0M539.5 136.1h0M558.1 160.7h0M586.7 121.3h0M570.5 136h0M625.5 112h0M568.5 138.8h0M539.2 145.6h0M546.4 155.8h0M502.7 136.1h0M609.3 128.9h0M596.8 104.6h0M591.7 143.5h0M580.3 136.4h0M583 111.8h0M616.6 119h0M519.8 150.4h0M507.4 160.7h0M546.2 114.2h0M494.9 179.4h0M573.1 143.4h0M525 163h0M628.6 114.7h0M602.4 119.3h0M624.1 138.2h0M517.4 143.5h0M567.7 97.7h0M587 167.8h0M550.6 138.3h0M519.2 184.3h0M502.2 160.5h0M546.2 109.3h0M536.8 172.3h0M602.4 150.9h0M619.2 124.1h0M642.6 119h0M529.6 136h0M533.6 167.6h0M543.8 167.4h0M647.7 111.9h0M503.2 138.4h0M531.7 150.7h0M514.5 179.8h0M599 121.7h0M533.5 117h0M558.2 152.7h0M514.2 138.9h0M550.9 129h0M573.2 119.5h0M558.2 136.2h0M614.2 143.6h0M524.3 157.8h0M544.1 143.4h0M626.3 104.9h0M614.3 97.2h0M545.6 114.6h0M498.4 175.2h0M599.6 85.2h0M601.3 106.9h0M560.2 145.8h0M536.5 160.2h0M604.6 102.6h0M618.7 114.1h0M528.7 134h0M577.4 119.5h0M528.9 128.5h0M506.9 126.6h0M580.4 92.3h0M532.1 177.5h0M582.3 126.2h0M609.2 102.5h0M560.4 124h0M575.2 124.1h0M580.4 131.2h0M554 124h0M568.2 135.8h0M608.6 146h0M606.9 133.7h0M585.1 138.2h0M577.5 119.3h0M560.2 122h0M597.1 119.3h0M573.1 162.8h0M596.9 143.5h0M544.2 114h0M558.8 131.2h0M561.2 109.7h0M584.7 121.7h0M546.3 153.1h0M517.5 160.3h0M522 164.8h0M526.5 136h0M541.8 143.3h0"/>
<path d="M623.1 155.3h0M550.9 145.5h0M548.7 131.1h0M660.3 109.3h0M608.8 174.7h0M497.6 179.4h0M578.1 109.7h0M544.2 147.9h0M517.6 124h0M607.1 104.3h0M585.4 145.7h0M495.7 143.6h0M657.4 87.8h0M541.7 126.7h0M608.6 97.1h0M597.3 133.6h0M579.8 116.9h0M638.6 85.3h0M594.3 111.6h0M620.7 101.9h0M599.8 129.1h0M497.6 124.4h0M575.6 123.8h0M570.5 121.3h0M579.6 116.4h0M509.6 133.4h0M601.7 143.4h0M589.5 119h0M604.5 99.5h0M585.3 163h0M589.2 160.7h0M556.1 167.8h0M611.6 126.6h0M618.4 121.9h0M573 160.5h0M507.7 131.2h0M536.8 136.3h0M558.4 150.6h0M597.3 131.5h0M508 155.7h0M567.7 131.3h0M545.7 129.2h0M602 121.6h0M599.4 150.5h0M567.7 143.4h0M594 153.2h0M620.7 109.8h0M562.9 138.3h0M524.9 150.8h0M587 104.9h0M579.6 80.2h0M556.3 124.2h0M575.6 116.5h0M538.6 175h0M623.1 131h0M582.5 126.1h0M540.9 121.8h0M595 109.2h0M618.7 95.2h0M548.1 155.2h0M494.8 145.8h0M555.4 119.3h0M582.2 116.5h0M606.9 150.9h0M497.8 189.3h0M628.7 114h0M619.1 148.5h0M613.6 109.3h0M597.1 102.5h0M621.3 114.6h0M520.1 164.8h0M585.3 150.5h0M527.1 189.2h0M611.5 114.7h0M579.7 123.9h0M533.6 138.4h0M538.7 164.9h0M536.3 152.7h0M628.7 102.4h0M520.1 119.4h0M581.9 124h0M625.5 92.7h0M531.7 119.3h0M539.4 128.6h0M558.3 145.6h0M536.7 162.7h0M582.8 111.6h0M589.5 133.5h0M558.7 121.3h0M618.4 124.2h0M511.9 138.4h0M591.9 102h0M528.7 148.1h0M573.1 114h0M574.8 150.4h0M616.5 117.1h0M543.6 131.1h0M611.8 109.9h0M618.3 128.6h0M570.2 129.2h0M597 104.3h0M586.9 143.5h0M545.8 184.6h0M529.5 184.2h0M565.4 143.7h0M575.6 140.8h0M635.6 128.7h0M582.9 114.3h0M497.2 170.3h0M538.4 148.2h0M604.5 143.4h0M604.3 121.6h0M567.6 128.7h0M539.3 123.8h0M578.2 109.7h0M602.2 102.5h0M618.8 126.3h0M573.1 138.4h0M555.4 158h0M543.7 119.2h0M596.8 121.3h0M582.7 150.4h0M568.5 148.1h0M553.1 104.3h0M575.1 114.7h0M562.8 131h0M560.6 102.2h0M536.2 145.6h0M531.5 145.6h0M528.9 153.1h0M552.9 167.2h0M551.2 131.3h0"/>
<path d="M545.6 160.7h0M589.9 160.2h0M504.9 141.2h0M521.6 150.3h0M558.5 153.4h0M591.8 194h0M539.1 107.1h0M603.8 138.9h0M623.5 136.2h0M524 158.1h0M507.6 150.5h0M541.9 131.2h0M625.6 109.4h0M602 145.8h0M590.2 131.5h0M534.2 170h0M594.8 141.1h0M598.8 107h0M555.8 141.3h0M589.8 145.7h0M589.6 102h0M565 126.4h0M599.8 145.6h0M507.7 184.7h0M594.7 131.6h0M640.6 148.4h0M565.8 114.2h0M604 114.6h0M531.4 131h0M516.6 131.4h0M609.1 148.3h0M623.8 119.1h0M621.6 87.4h0M632.7 95h0M611.3 124.3h0M601.8 109.8h0M558.1 107.3h0M574.6 151h0M599.4 123.8h0M599.1 138.2h0M531.4 150.9h0M623.6 87.9h0M560.9 106.9h0M509.9 158.1h0M555.9 104.9h0M621.3 83.1h0M616.7 153.4h0M582.4 112.1h0M510.4 155.4h0M594.1 153.4h0M510.3 147.9h0M578 147.9h0M565.6 121.9h0M522.2 150.6h0M636 85.2h0M591.6 97.5h0M592.4 97.5h0M626 133.4h0M565.6 114.5h0M633.3 92.4h0M561.2 131.5h0M567.9 123.9h0M608.9 133.8h0M570.1 117h0M558.3 140.8h0M590.3 131.4h0M642.7 136.4h0M613.9 126.2h0M579.9 121.7h0M621.3 158h0M500.7 145.9h0M650.7 94.9h0M512.2 172.6h0M582.5 111.9h0M597.2 123.7h0M625.4 128.6h0M514.3 169.8h0M524.6 148.3h0M512.7 160h0M580.6 126.8h0M580.2 150.9h0M545.7 184.5h0M562.9 155.3h0M565.2 87.6h0M562.8 138.7h0M577.8 116.6h0M582 102h0M507.5 160h0M616.3 102.2h0M568 126.3h0M546.8 160.3h0M572.7 143.6h0M573.3 112.2h0M574.8 114h0M498.3 153h0M524.2 170.2h0M531.3 109.3h0M631.4 133.5h0M500.4 141.3h0M522.5 158.1h0M502.7 138.8h0M507.9 133.7h0M614 121.7h0M550.5 131.1h0M505 150.8h0M569.8 131.2h0M599.7 106.9h0M589.4 97.7h0M589.9 102.1h0M572.2 143.3h0M562.8 148.4h0M565.6 160.6h0M574.7 124.2h0M558 92.4h0M574.6 118.9h0M553.8 136.4h0M536.9 126.1h0M601.6 109.5h0M599.6 100.2h0M560.1 107h0M569.8 131.5h0M577.4 145.5h0M569.9 131.3h0M569.8 109.3h0M546.5 106.8h0M584.7 122h0M577.1 112.1h0M536.6 121.8h0M520.1 131.2h0M521.7 131.4h0M548.7 177h0M548.8 133.6h0"/>
<path d="M616 102.1h0M555.9 162.4h0M648.1 126.1h0M572.9 160.5h0M538.5 150.6h0M517.4 176.9h0M519 121.8h0M577.7 133.5h0M626.1 138.9h0M502.7 172.2h0M615.8 97.5h0M625.5 136.1h0M541.4 155.3h0M497.9 104.8h0M619.3 153.1h0M580.3 136.2h0M638 104.6h0M519.3 163.1h0M623.5 99.9h0M546 141.2h0M568.2 153.4h0M541.9 148.2h0M532 174.6h0M543.8 131.1h0M558.2 124.3h0M516.7 126.2h0M599.3 119.5h0M623.1 133.9h0M502.6 121.6h0M514.6 114h0M578.1 155.5h0M598.9 123.8h0M596.9 100h0M541.8 131.3h0M531.6 170.3h0M606.1 143.3h0M563.4 170.2h0M508 141h0M594 112.2h0M611.8 153.1h0M535.9 138.6h0M647.6 116.7h0M601.9 147.9h0M596.4 87.8h0M548.1 143.4h0M569.7 138.5h0M589.9 148.5h0M635.3 140.8h0M511.8 169.9h0M522.2 119.4h0M567.9 155.1h0M643.3 121.4h0M539.4 151h0M565.9 136.4h0M575.2 184.3h0M526.4 112.1h0M534.4 121.7h0M610.9 126.5h0M616.4 126.1h0M526.6 145.7h0M521.4 145.8h0M594.1 114.4h0M620.7 87.7h0M616.4 138.4h0M550.7 193.9h0M517.5 118.9h0M603.9 129.1h0M615.7 111.9h0M500.2 119.1h0M570.2 158.2h0M601.3 116.6h0M541 184.8h0M512.3 172.5h0M499.8 153.1h0M572.3 169.8h0M604.7 126.8h0M558.3 191.6h0M625.5 131.5h0M623.3 123.7h0M517.4 152.9h0M598.9 90.4h0M587.3 123.9h0M594.3 143.6h0M567.8 146h0M615.8 124.2h0M601.7 117.1h0M584.6 146.1h0M613.8 119.1h0M505.2 126.6h0M611.1 122h0M558.8 145.8h0M589.3 116.8h0M596.6 99.6h0M613.4 117.1h0M618.6 100h0M594.3 114.1h0M527.4 150.8h0M509.8 119.2h0M580.3 111.8h0M578.1 111.6h0M599 121.7h0M524.5 119.3h0M637.6 136h0M621.6 85.4h0M608.8 89.9h0M589.4 143.2h0M551.5 131.6h0M504.5 121.4h0M522.4 167.5h0M541.6 133.5h0M616.5 106.8h0M606.8 117.1h0M601.4 138.7h0M565.7 138.3h0M584.3 126.6h0M601.9 152.9h0M548.1 121.3h0M582.7 102.6h0M621 141.2h0M614.4 107.2h0M546.7 119.2h0M536.3 123.8h0M587.2 124.3h0M556.4 119.5h0M557.8 117.1h0M613.6 131.6h0M604.3 133.7h0M528.9 114h0M510.1 153.1h0M529 146h0M514.3 112.1h0M522.4 141h0"/>
<path d="M596.5 121.9h0M595.1 136.1h0M494.9 157.7h0M524.1 146.2h0M548 155.7h0M562.5 136.2h0M570.3 162.4h0M507.7 148.6h0M536.2 167.3h0M609.6 97.8h0M548.2 116.8h0M556.4 145.5h0M563.5 143.6h0M602.1 116.9h0M565.7 145.8h0M624 119h0M512.5 158h0M558.7 123.8h0M550.4 155.8h0M570.8 136.4h0M543.2 164.9h0M613.9 118.9h0M505.5 133.6h0M561 153h0M555.7 92.5h0M504.5 153.3h0M616.4 117.1h0M514.5 158.2h0M609.5 104.9h0M517.4 160.5h0M528.7 131.3h0M502.2 189.2h0M502.8 126.4h0M616.3 75.4h0M602.3 131.4h0M631.1 75.3h0M614 123.7h0M514.4 126.6h0M602 102.4h0M624.1 121.9h0M548.1 126.1h0M623 143.7h0M610.9 109.2h0M606.7 114.5h0M592.7 72.9h0M611.4 153h0M521.8 157.9h0M495.5 172.3h0M531.2 126.1h0M577.9 87.5h0M589.1 150.4h0M618.4 131.5h0M601.9 130.9h0M607 133.5h0M591.6 129.1h0M585.1 136.1h0M613.5 133.4h0M609.5 157.8h0M616.7 121.5h0M497.7 162.4h0M526.6 153.3h0M550.8 143.6h0M546.8 140.6h0M536.2 134h0M582.4 131.4h0M526.2 167.4h0M572.8 143.4h0M577.3 140.8h0M534.4 155.7h0M565.4 146.1h0M505.6 128.8h0M567.8 95.3h0M548.4 150.7h0M592.2 92.4h0M551.1 155.3h0M645.2 85.3h0M584.3 155.8h0M504.5 167.3h0M553.1 143.3h0M497.7 136.2h0M507.9 128.8h0M536.9 134h0M597.2 106.8h0M553.7 138.6h0M594.5 114.4h0M515.1 150.9h0M574.8 116.5h0M584.6 104.8h0M516.7 174.9h0M592.7 143.7h0M528.7 182h0M584.6 97.1h0M579.9 124h0M536.9 153.1h0M541.2 153.3h0M565.1 109.2h0M512.2 121.9h0M618.2 114.4h0M543.2 118.9h0M565.5 141h0M517.4 140.9h0M553.6 148.4h0M544 160.6h0M607.1 138.8h0M538.9 140.6h0M579.7 182h0M596.8 92.4h0M567.8 121.3h0M536 131.2h0M534.5 182.1h0M570.2 114.3h0M586.7 123.8h0M565.6 143.3h0M596.7 109.8h0M546.4 104.8h0M579.5 124.2h0M563 114.5h0M577.1 101.9h0M546.4 131.6h0M582.4 150.6h0M604.2 138.4h0M602.1 92.3h0M614.3 138.3h0M587.4 129h0M594.3 133.4h0M539.4 143.6h0M592.4 136.1h0M522.5 162.6h0M529.6 126.2h0M543.8 177.5h0M531.7 116.5h0M521.9 133.4h0"/>
<path d="M616.5 109.2h0M620.6 119h0M509.3 126.4h0M546 152.9h0M536.7 177.6h0M615.7 111.7h0M539.1 121.9h0M532.2 153.3h0M592.6 136h0M592.3 116.7h0M519.2 181.8h0M569.9 102.4h0M543.3 131.1h0M604.8 121.3h0M512.3 126.8h0M562.7 155.8h0M626.4 119.6h0M550.4 136.4h0M626.1 119h0M511.8 140.7h0M614.4 111.9h0M590.2 160.2h0M556.2 116.7h0M606.8 124.2h0M533.5 129.2h0M508 155.3h0M534.2 129h0M533.5 140.8h0M512.6 155.4h0M573.3 172.5h0M567.3 119.4h0M524.3 153.2h0M555.7 136.1h0M614.1 109.5h0M613.8 140.7h0M620.6 133.5h0M553.4 160.6h0M556 119.3h0M590.3 133.7h0M618.7 146.1h0M616.6 119.1h0M625.5 114h0M635.2 89.8h0M573.3 102.4h0M512.3 138.5h0M578.1 131.3h0M573.1 138.9h0M611 104.9h0M532.1 186.7h0M541.9 126.6h0M582.4 116.7h0M545.7 129.1h0M561 152.8h0M534.3 121.6h0M597.5 73.2h0M573.2 155.2h0M521.5 128.8h0M570.2 150.7h0M495 191.7h0M552.9 145.6h0M563.2 153.4h0M529.3 165.3h0M604.4 116.7h0M544.1 126.3h0M538.6 169.8h0M497.4 138.8h0M589.9 111.7h0M538.9 213.7h0M558.1 169.8h0M614.3 109.7h0M613.3 87.9h0M592.4 119.5h0M500.1 157.8h0M579.6 145.5h0M573.1 143.1h0M616.2 111.9h0M551.4 119.1h0M553.4 99.6h0M591.6 106.8h0M569.8 129.1h0M555.3 131.6h0M613.3 95.1h0M596.6 133.6h0M533.7 133.4h0M570.4 121.5h0M589.7 143.7h0M538.5 177.1h0M560.2 104.6h0M563.3 102h0M550.6 162.5h0M529.8 157.6h0M565 119.3h0M597.1 102.3h0M624.1 119.6h0M599 128.6h0M533.5 141.2h0M495.9 157.7h0M647.3 85.7h0M529.1 158.1h0M623.4 63.3h0M580.2 150.9h0M544 131.5h0M502.5 136h0M524.1 136h0M577.9 148.6h0M515.2 180h0M570.6 129.1h0M611.2 150.6h0M599.4 123.9h0M507.8 179.6h0M541.6 97.6h0M567.4 112.3h0M604.1 109.7h0M599.6 121.5h0M553.1 109.8h0M577 145.6h0M563.5 97.1h0M573.3 134h0M594.2 126.6h0M569.8 128.9h0M582.6 104.8h0M609.2 145.8h0M573 150.3h0M589.5 152.8h0M548 114.5h0M560.2 131.2h0M555.7 158.2h0M546.5 134.1h0M510.2 162.4h0M541 148.3h0M533.9 181.8h0M543.7 157.8h0"/>
<path d="M614.1 131.6h0M575 104.5h0M625.5 85.4h0M594.3 123.8h0M563.5 123.7h0M500.4 155.7h0M611.8 102.2h0M592.2 141.2h0M609.5 112.1h0M555.3 160.3h0M533.5 160.3h0M594 112.2h0M578 129h0M625.7 95.3h0M495.5 160.1h0M621.4 95.2h0M589.8 124.2h0M555.3 150.6h0M517.2 148.1h0M524.7 143.1h0M589.3 131.3h0M497.6 146.1h0M565.3 150.6h0M575.4 158h0M579.9 145.7h0M625.4 111.8h0M613.6 126.1h0M640.9 85.3h0M626.1 123.8h0M553.8 165h0M609.6 170.4h0M573.1 141.1h0M516.8 213.6h0M604.8 116.9h0M581.9 140.8h0M510 133.7h0M519.9 155.6h0M594 109.6h0M553.4 162.7h0M624.1 104.3h0M594.7 136.2h0M618.7 119.1h0M553.3 131.4h0M606.8 90.5h0M589.2 163h0M643.1 114.6h0M567.4 152.9h0M548.1 134.1h0M606.9 104.9h0M585.3 148.4h0M573.3 123.9h0M544.2 145.6h0M577.5 128.6h0M565.6 155.5h0M579.9 124.1h0M541.1 160.3h0M527 97.6h0M616.4 114.6h0M553.1 140.7h0M500.2 131.2h0M509.4 150.5h0M524.8 131.1h0M532.2 133.6h0M531.9 145.7h0M587.7 138.4h0M517 160.7h0M633 73.2h0M574.8 104.6h0M625.8 88h0M511.7 131.2h0M594 128.7h0M589.9 143.2h0M611 119.5h0M601.9 135.9h0M596.9 121.7h0M538.4 164.9h0M582.5 153.1h0M602 109.2h0M531.5 167.5h0M657.1 85.4h0M517.5 172.3h0M512.3 155.6h0M664.3 124.2h0M615.9 124.3h0M521.7 155.7h0M623.2 119.4h0M594.6 135.9h0M514.7 160.6h0M504.9 150.8h0M533.8 133.4h0M502.7 170.1h0M567.5 100.1h0M620.7 73.6h0M619.3 95h0M599.7 129.1h0M566 126.6h0M625.5 121.9h0M620.6 140.8h0M602 109.4h0M550.8 116.6h0M537 141.1h0M548.6 153h0M633.3 116.9h0M589.5 102h0M541.1 121.8h0M536 99.6h0M606.5 102.4h0M551.5 175.2h0M524.2 155.6h0M620.7 82.6h0M548.7 136.1h0M563.6 119.4h0M553.3 133.6h0M577.6 82.7h0M551.1 155.5h0M583 126.2h0M585.2 119.5h0M551.2 94.9h0M575 148.2h0M596.9 131.1h0M540.9 112.3h0M594.1 128.9h0M581.9 138.2h0M590.3 99.5h0M560.9 116.5h0M575.2 165h0M551.1 148.5h0M534.5 167.4h0M524.2 143.2h0M538.9 131.2h0M546.1 153.4h0M541 136.3h0"/>
<path d="M623.7 124.2h0M601.9 104.7h0M548.6 177.6h0M637.6 87.6h0M544.1 143.6h0M650.6 80.3h0M621 133.8h0M544.3 169.8h0M618.5 102h0M604.7 138.5h0M599.2 97.4h0M548.2 182.1h0M608.8 133.7h0M596.7 140.6h0M575.2 150.4h0M579.4 116.8h0M606.5 102h0M631 117h0M546 121.9h0M636 97.4h0M652.2 124.1h0M521.9 138.4h0M609.3 75.7h0M548.3 116.9h0M619.2 131.3h0M635.5 131.6h0M628.3 133.4h0M606.5 109.6h0M528.7 155.7h0M517.5 167.4h0M597 124.4h0M575.2 124.3h0M536.7 169.8h0M568.5 140.7h0M502.8 164.9h0M592.1 126.2h0M621.7 165h0M589.6 111.6h0M608.9 138.8h0M553.9 150.6h0M592.6 151h0M625.9 121.8h0M594.4 124.2h0M519 123.9h0M568.1 128.8h0M541.6 143.6h0M633.3 102.5h0M528.8 162.6h0M579.6 153.1h0M548.4 128.6h0M541.6 150.4h0M582.9 116.9h0M505.1 160.6h0M628.7 114.1h0M572.2 109.4h0M519.5 189.2h0M565.1 162.6h0M536.5 109.8h0M510.1 133.8h0M604 143.5h0M631.2 143.6h0M594.3 133.8h0M585.2 83.1h0M524.5 116.4h0M606.6 123.9h0M614.3 150.9h0M592.2 114.4h0M611.1 133.8h0M603.7 119.2h0M578 107.1h0M582.9 104.9h0M615.8 143.1h0M565.1 114.2h0M512.4 141.2h0M613.4 109.7h0M609.4 138.4h0M570.6 97.3h0M529.8 162.6h0M527.2 131.4h0M511.7 136.2h0M565.5 162.8h0M558.5 135.9h0M615.7 104.5h0M575.1 126.6h0M560.5 148.1h0M553.5 104.5h0M591.6 138.5h0M614.5 97.7h0M580.2 140.9h0M601.8 126.2h0M527.2 145.9h0M543.5 133.8h0M502.4 152.8h0M500.4 174.6h0M550.6 126.8h0M635.5 109.6h0M541.2 182.4h0M529.5 133.9h0M589.1 107h0M560.4 114.6h0M534.2 165.2h0M522.3 145.6h0M500 191.7h0M624.2 138.9h0M549.2 111.9h0M574.9 129.1h0M558.7 163.1h0M532 148.6h0M561.2 138.4h0M573.1 145.6h0M604.8 117.1h0M575.5 116.9h0M574.9 140.8h0M567.5 121.6h0M582 97.6h0M590.1 118.8h0M604.7 106.8h0M599.6 116.7h0M601.7 131.1h0M599.7 160.5h0M594.9 118.9h0M540.9 128.8h0M533.6 124.1h0M603.8 152.7h0M580.5 118.9h0M601.9 111.8h0M573.2 138.6h0M514.3 162.4h0M509.8 145.7h0M531.6 153h0M527.3 150.9h0M529 128.5h0"/>
<path d="M528.7 153.2h0M555.8 121.9h0M614 170.2h0M510.1 162.7h0M517.1 143.4h0M657.6 133.6h0M616.8 70.9h0M505.6 184.4h0M521.9 148.3h0M572.9 155.2h0M519.5 184.3h0M623.9 114.5h0M641 119.4h0M608.9 111.7h0M526.9 145.7h0M495 162.7h0M553.3 148.4h0M543.2 148.4h0M567.6 129h0M563.3 143.2h0M654.5 148.5h0M618.7 119.1h0M575.4 150.6h0M574.6 116.9h0M520.1 116.5h0M500.7 189.2h0M638.4 119.4h0M519.2 141h0M536.4 97.2h0M575.7 119.2h0M515 162.9h0M538.8 104.8h0M613.9 136h0M565.3 123.7h0M647.6 112.1h0M608.9 111.9h0M570.5 133.9h0M616.6 107.1h0M517.4 152.9h0M616.4 143.7h0M563.7 126.7h0M602.1 116.6h0M614.1 131.3h0M613.7 124.2h0M623.8 104.9h0M540.8 124.1h0M522 184.3h0M578.2 153.4h0M599.8 155.5h0M647.4 136.3h0M497.7 174.5h0M519.4 150.8h0M653.2 102h0M567.4 138.8h0M529.6 162.9h0M635.6 138.4h0M599.3 85.4h0M556.1 136.3h0M512.3 182.1h0M592.5 116.8h0M512.3 128.8h0M554 194.4h0M579.9 126.2h0M604.7 126.4h0M618.3 92.5h0M524.2 101.9h0M645.1 145.7h0M524.2 114.6h0M597.3 146h0M531.3 148.6h0M522.3 172.3h0M603.6 121.7h0M502.9 175.2h0M616.1 133.5h0M573.3 160.1h0M495.7 180h0M522 133.7h0M604.1 131.1h0M611 114.3h0M628 119.5h0M591.7 136.3h0M650.1 136.4h0M541.3 151h0M575.1 116.8h0M589.2 133.7h0M565.4 126.8h0M543.5 131.3h0M602 126.2h0M601.9 177.6h0M527.1 148.3h0M618.5 90.2h0M567.8 131h0M592.2 119h0M604.3 106.8h0M602 138.7h0M599.5 123.9h0M572.9 133.5h0M575.1 131h0M645.4 121.8h0M541.1 141.3h0M625.9 143.7h0M574.7 119.2h0M604.6 124.2h0M565.3 102.1h0M647.7 82.9h0M618.5 116.4h0M581.9 116.5h0M592.2 150.9h0M549.2 119.3h0M618.4 114.3h0M598.9 121.7h0M543.2 114.1h0M558.7 114.3h0M599.3 152.8h0M568.1 121.9h0M546.1 97.5h0M551.2 116.8h0M601.5 106.7h0M582.4 131.2h0M560.1 94.9h0M582.3 129.1h0M594.3 123.7h0M526.6 119.6h0M595 100.1h0M548.9 155.3h0M567.8 147.9h0M587.5 138.3h0M536 143.6h0M524.5 148.3h0M536.3 152.9h0M519.3 145.6h0M522.2 147.9h0"/>
<path d="M579.9 143.6h0M558.7 138.5h0M541.3 189.2h0M558.1 174.6h0M602.1 124.1h0M601.2 121.8h0M594.1 135.9h0M498.3 155.4h0M650.5 87.9h0M577.2 123.9h0M585.1 128.6h0M560.4 150.5h0M642.5 129.1h0M603.9 119h0M560.2 153.3h0M626.6 107h0M546.4 138.6h0M539.3 121.9h0M551.5 111.9h0M553 133.5h0M599.6 141h0M587.1 100h0M538.9 155.2h0M601.7 128.6h0M528.7 90.1h0M626.1 111.6h0M561.2 97.3h0M606.7 162.9h0M526.5 126.5h0M596.5 163h0M582.7 141.1h0M534.1 119h0M531 167.7h0M517.2 109.3h0M616.3 121.7h0M602.2 131.3h0M662.6 99.6h0M500.3 160.2h0M517.2 170h0M601.5 114.1h0M578.1 165.4h0M594.2 128.7h0M508 158.2h0M555.6 116.6h0M611.2 111.9h0M647.9 124.2h0M614.3 85.4h0M631.4 141.1h0M553.5 155.9h0M599.4 160.5h0M623.6 92.5h0M570.4 136.5h0M591.6 78.2h0M495.7 138.5h0M553.3 164.9h0M497.3 165.2h0M502.2 150.4h0M498.1 184.6h0M498.3 136.1h0M623.5 118.9h0M572.8 126.5h0M604.4 124.4h0M619 129h0M558.6 114.5h0M580 106.9h0M613.6 141h0M495.4 141.2h0M560.5 141.3h0M545.6 148.3h0M580.2 141h0M577.2 150.8h0M509.6 116.9h0M575 143.1h0M619.2 148.6h0M538.6 150.7h0M607 153h0M643.1 131h0M601.3 121.5h0M509.7 162.9h0M507.7 157.7h0M642.6 116.5h0M574.9 131h0M642.6 126.3h0M534 136h0M584.9 114.7h0M587.1 109.8h0M520.1 138.5h0M500 184.6h0M577.6 119.3h0M574.8 123.7h0M575.3 107.4h0M611.7 116.8h0M511.9 177.6h0M597.1 90.1h0M619 124.4h0M594.4 140.7h0M659.4 72.9h0M607 123.9h0M546.3 123.9h0M575.1 167.7h0M538.8 191.9h0M560.4 112.1h0M529.1 155.6h0M602.2 184.7h0M568.1 153.4h0M621.7 131.1h0M560.2 146.1h0M573.1 128.7h0M563.1 131.2h0M616.3 70.5h0M594.9 128.7h0M582.1 107.2h0M548.2 121.8h0M616.1 133.6h0M570 107.4h0M575.6 116.6h0M589.7 95.3h0M572.4 133.6h0M551.4 148.1h0M541.5 124.2h0M599.1 102.3h0M558.7 100.1h0M561.2 107.1h0M609 90.3h0M583 112h0M538.8 133.4h0M602 143.3h0M531.3 119h0M529.7 152.8h0M533.6 153.1h0M526.5 160.5h0M546.2 138.3h0"/>
<path d="M656.9 75.5h0M574.7 123.8h0M604 133.6h0M611.8 87.7h0M534 157.7h0M515 143.7h0M623.3 114.2h0M550.5 111.9h0M539.4 148h0M565.2 160.3h0M548.6 107h0M529 143.5h0M567.7 106.8h0M536.5 153h0M570.9 147.9h0M527 165.1h0M611.6 107.1h0M619 148.2h0M502.4 107h0M580.1 89.8h0M544.1 162.7h0M587.3 140.8h0M529 165.3h0M560.9 126.8h0M497.7 147.9h0M625.5 129.2h0M534.2 85.6h0M570.6 143.1h0M657.5 126.2h0M509.3 153.2h0M551.3 165.4h0M604.4 119.5h0M583 107.3h0M601.5 112.2h0M570.3 143.4h0M561 131.1h0M524.5 177.2h0M565.7 175h0M526.2 150.3h0M557.8 116.8h0M565.9 170.3h0M546.5 116.5h0M638 136.4h0M582 133.9h0M531.7 155.6h0M616.7 95.1h0M535.9 124.1h0M536.9 167.6h0M510.4 140.7h0M579.8 138.4h0M552.9 160.7h0M546.5 141.2h0M609 150.4h0M616.3 136.4h0M551.4 135.9h0M579.5 102.1h0M536.7 114.1h0M573.3 170.3h0M667.5 104.5h0M527.4 131h0M546.2 175.1h0M577.3 128.9h0M575.5 107.1h0M620.9 119.2h0M507.1 150.8h0M586.9 114.4h0M572.5 123.8h0M649.8 85.6h0M570.9 128.5h0M495 133.9h0M545.7 157.9h0M567.5 128.9h0M556 172.6h0M557.9 134h0M586.9 160.2h0M606.4 111.6h0M522 153.4h0M582.9 116.6h0M599.2 124h0M594.2 131.1h0M553 165h0M616.5 73.5h0M606.1 131.7h0M613.7 119.5h0M499.7 167.4h0M611.9 145.5h0M556.3 123.9h0M536.6 163h0M534.1 131h0M551.1 155.5h0M550.7 111.9h0M579.7 121.4h0M553.5 138.8h0M582.2 126.3h0M526.2 182.3h0M546 102.1h0M553.9 114.4h0M555.5 150.5h0M524.5 194.4h0M615.8 102.1h0M529.4 167.5h0M607.1 136h0M589.4 100h0M606.2 138.4h0M620.7 112.3h0M514.3 114.4h0M621.5 121.8h0M545.9 162.7h0M511.9 143.4h0M595.1 124.3h0M548.2 121.9h0M585.2 126.7h0M584.6 148.1h0M577.2 152.8h0M548.5 158.3h0M553.9 117h0M558.6 134.1h0M564.9 128.6h0M574.9 138.2h0M584.3 111.6h0M569.8 109.8h0M557.9 97.5h0M567.7 92.7h0M591.8 134.1h0M604.1 121.5h0M560.5 119.4h0M541.2 160.5h0M540.8 133.8h0M527.1 138.6h0M545.7 143.3h0M527.2 112.3h0"/>
<path d="M609.3 109.8h0M532.1 126.4h0M616.8 119.5h0M546.1 129h0M575 85.1h0M502.8 162.7h0M515.2 187.2h0M563.5 131.1h0M620.6 88h0M510.3 150.9h0M616.3 97.4h0M615.8 138.6h0M637.5 124.1h0M529.5 170.4h0M538.7 131.6h0M570.8 141.1h0M596.8 133.7h0M529.7 138.4h0M619.1 121.8h0M524 136.2h0M565.3 138.6h0M531.4 135.9h0M570.2 133.8h0M626 121.7h0M562.6 155.7h0M563.5 136h0M531.2 126.7h0M534.5 145.7h0M578.2 78h0M546.3 167.6h0M596.5 99.7h0M551.4 160.6h0M601.7 138.7h0M585.3 148.3h0M565.7 102.3h0M533.7 165h0M587 167.9h0M507.8 140.7h0M582.9 121.5h0M572.9 165.3h0M546.3 187.1h0M633.4 126.8h0M570.9 155.5h0M598.9 143.4h0M519.6 80.3h0M500.4 145.7h0M514.2 135.8h0M584.6 121.7h0M594.9 107.1h0M558.7 162.5h0M524 169.7h0M580.3 133.8h0M618.8 135.9h0M597.5 143.1h0M534.3 131.3h0M509.6 129h0M562.6 148h0M633 126.4h0M596.4 165.3h0M613.5 152.7h0M626.5 77.9h0M514.4 170h0M606.8 114.5h0M509.9 134h0M532.1 157.7h0M519.1 136.2h0M505.1 116.7h0M606.7 148.2h0M570.7 134h0M582.2 138.9h0M512.8 177.1h0M546.5 138.4h0M579.9 97.7h0M609.2 107.2h0M636.1 106.8h0M528.6 133.9h0M570.9 126.4h0M544 119.1h0M575 140.9h0M517 136.2h0M577.5 160.3h0M531.3 107h0M538.7 117h0M558.8 126.6h0M602.2 112.2h0M625.7 119.4h0M609.6 145.7h0M611.7 128.6h0M621.2 138.4h0M541.6 138.9h0M620.8 111.7h0M505.6 164.8h0M631.2 111.7h0M648 104.6h0M567.8 116.7h0M597.1 119.2h0M592 102.1h0M589.4 140.7h0M541.6 153.3h0M603.8 128.7h0M621.4 121.8h0M597.4 94.8h0M616.7 170.2h0M607.1 141.3h0M613.4 75.9h0M565.7 119.1h0M524.5 121.8h0M591.6 129.1h0M502.2 152.8h0M620.6 116.8h0M565.5 114.7h0M589.3 141h0M549.1 131.3h0M560.7 119h0M594.8 143.8h0M557.9 104.7h0M572.9 126.7h0M553.5 111.8h0M609.6 114.6h0M608.8 131.2h0M539 162.5h0M599.5 155.3h0M575.2 112h0M555.5 111.7h0M594.9 138.8h0M575.5 143.5h0M534.5 116.6h0M533.5 160h0M523.8 141.1h0M517.4 167.5h0M534.3 170.1h0"/>
<path d="M500.5 163h0M499.7 133.8h0M572.6 143.7h0M529.5 167.8h0M563.2 138.8h0M625.6 121.9h0M523.9 148.5h0M594.5 88h0M608.5 116.9h0M601.7 87.9h0M599.7 121.8h0M562.7 90h0M602.3 116.9h0M620.9 88h0M560.3 150.8h0M529.5 157.7h0M580.4 140.8h0M560.2 143.3h0M584.8 126.5h0M536.8 145.8h0M570.2 97.7h0M558.6 131h0M563 136.4h0M580.1 114.3h0M596.4 118.9h0M586.8 119.3h0M567.7 146.1h0M582.2 133.9h0M568 131.3h0M499.8 128.9h0M534.6 160.6h0M509.4 150.5h0M514.9 129h0M592.1 111.9h0M544 143.2h0M582.5 129.1h0M534 167.6h0M599.6 131.5h0M553.1 121.4h0M614 114.1h0M613.4 102.1h0M509.9 140.6h0M615.9 121.4h0M575.7 165.1h0M560.7 138.9h0M529.4 157.6h0M565.7 124.2h0M626.5 99.7h0M543.9 186.6h0M579.8 99.6h0M589.3 133.4h0M532 133.6h0M573.1 109.9h0M609.4 104.4h0M650.6 100h0M623.1 123.8h0M558 124.3h0M499.7 170.2h0M562.6 160.7h0M495.2 148.2h0M528.9 162.4h0M517.7 157.7h0M543.1 134h0M561 114.1h0M497.4 138.6h0M495.4 172.7h0M541.6 162.6h0M517.2 150.7h0M584.9 141.1h0M616.9 135.9h0M538.6 97.3h0M616.4 153.4h0M623.9 106.9h0M527.4 143.5h0M616.8 109.2h0M594.4 131.1h0M517.5 145.9h0M524.4 109.6h0M544.2 148.1h0M631.1 129.1h0M549.1 138.7h0M611 116.8h0M510.2 150.7h0M540.8 136.1h0M609.5 102.3h0M594 131.2h0M616.9 87.7h0M586.9 123.8h0M532 102.2h0M497.4 172.6h0M620.9 157.7h0M544 157.9h0M575.5 133.8h0M570.3 162.5h0M538.6 165.4h0M601.2 135.8h0M582.2 111.9h0M620.9 92.8h0M603.7 163.1h0M538.9 152.9h0M556.4 131.1h0M632.9 63.9h0M579.7 153.2h0M548.1 121.9h0M616.9 128.9h0M650.7 82.7h0M606.8 97.2h0M551.1 111.7h0M592.1 114.5h0M553.1 143.5h0M562.7 133.7h0M552.9 117.1h0M555.8 116.8h0M610.9 153.1h0M592.6 131.6h0M568 133.4h0M590 136.1h0M560.5 148.2h0M589.4 145.9h0M570.4 140.9h0M536.4 126.6h0M582.4 124.1h0M536.8 111.9h0M574.7 133.8h0M580.1 99.8h0M531.3 153.1h0M512.8 169.9h0M521.4 179.7h0M546.2 124h0M537 153.1h0M531.2 182.1h0"/>
<path d="M614.5 140.9h0M609.2 90.4h0M573.3 148.1h0M569.9 100.1h0M619.2 143.5h0M536.7 148.5h0M558.1 106.9h0M531.9 182.3h0M590 143.3h0M517.1 150.5h0M577.9 182.1h0M509.8 148.3h0M579.9 114.1h0M614.1 153.4h0M633.4 133.8h0M532.1 135.8h0M499.9 165.1h0M506.9 160.7h0M590.1 114.2h0M582.7 131h0M611.7 123.9h0M596.4 117h0M611 100.1h0M657.3 109.3h0M623.4 150.5h0M498.2 169.8h0M620.6 124.3h0M620.7 141.2h0M534.4 145.7h0M608.5 148.4h0M608.5 109.2h0M625.6 122h0M578.1 114.3h0M505.4 179.7h0M609.4 148.2h0M623.9 131.5h0M592.6 119.3h0M625.6 126.4h0M603.7 146.1h0M515 177.4h0M582 153.4h0M611.3 121.7h0M495 153h0M618.5 138.9h0M633.8 102h0M531.7 196.3h0M531.6 157.6h0M632.7 97.7h0M515.1 145.8h0M548 138.5h0M521.7 138.9h0M582.9 131.6h0M517.6 117h0M575.4 114.3h0M546 126.3h0M621.2 121.7h0M543.3 160.4h0M599.8 126.5h0M620.8 116.4h0M619 92.5h0M602.4 155.5h0M509.8 131.1h0M586.7 116.7h0M507.3 131.5h0M608.5 109.5h0M565.7 104.8h0M548.9 146.1h0M495.2 172.1h0M623.9 121.9h0M616.4 150.8h0M551.1 131h0M577.8 107h0M602.4 133.8h0M524.8 164.9h0M618.3 138.3h0M570.3 148.2h0M563.5 116.7h0M627.8 131.6h0M522.4 138.8h0M548.3 129h0M609.2 111.8h0M573 85.2h0M599.1 133.5h0M534.4 106.8h0M601.8 104.6h0M580.5 119.2h0M592.3 97.4h0M544 99.6h0M546.1 164.8h0M591.5 143.2h0M582.6 109.5h0M499.6 165.4h0M531.8 177h0M575.6 162.8h0M624 85.2h0M609 76h0M546.3 138.3h0M534 116.8h0M618.2 85.4h0M565.8 143.3h0M621.1 97.5h0M582.6 102h0M626.2 143.2h0M626 126.7h0M565.5 155.3h0M551.3 157.6h0M587.1 155.7h0M626.3 119.3h0M519 167.8h0M500.2 138.3h0M544.3 160.1h0M580.2 128.9h0M538.9 133.4h0M614 102.5h0M587 126.2h0M607 119.1h0M581.8 124h0M618.4 124.1h0M558.3 123.8h0M584.6 138.9h0M577 119.4h0M597.3 126.4h0M555.4 109.6h0M579.7 136.1h0M558.5 99.9h0M586.8 131.2h0M522.4 150.7h0M524.8 160.4h0M543.7 141.3h0M507 123.8h0M514.5 136.3h0"/>
<path d="M553.1 153.1h0M528.9 138.2h0M570.8 167.4h0M621.3 131.2h0M512.3 150.9h0M618.8 99.9h0M587.8 145.6h0M548.5 170.1h0M589.5 148.2h0M534.5 146.2h0M599.8 145.9h0M640.1 134h0M532.1 109.5h0M586.9 141h0M625.5 87.4h0M546.4 165.4h0M517.1 153h0M608.5 114.1h0M640 133.8h0M572.9 100.1h0M504.7 121.3h0M524.3 131.5h0M584.9 143.7h0M586.8 136h0M589.4 97.3h0M560.4 167.6h0M529.4 158.2h0M529.3 143.7h0M583 90.3h0M562.8 169.7h0M585.1 143.6h0M505.5 140.7h0M601.3 102.3h0M603.7 155.7h0M500.4 134.1h0M621.6 87.5h0M570.1 94.7h0M606.9 157.9h0M557.7 152.9h0M582.9 131.1h0M584.7 150.7h0M550.8 191.9h0M550.5 143.1h0M616 131.1h0M606.5 119h0M635.1 104.8h0M594.6 109.5h0M529.6 141.3h0M583 119.5h0M524.8 167.6h0M641 136h0M626.4 104.8h0M516.6 162.4h0M519.3 133.5h0M569.9 138.3h0M543.5 131.3h0M502.4 148.5h0M534.3 150.3h0M594.5 121.4h0M604.6 136.5h0M604.8 126.4h0M633.3 97.2h0M585.3 129.2h0M580.3 119.4h0M621.2 129.2h0M505.5 126.8h0M647.4 104.8h0M611.5 109.3h0M592.6 163h0M593.9 104.5h0M549.1 169.8h0M575 126.7h0M620.9 123.9h0M582.5 131.6h0M607 109.9h0M526.6 131.6h0M632.8 136h0M616.5 162.9h0M591.9 163h0M601.7 112.1h0M570.4 164.9h0M526.6 138.8h0M505.1 179.7h0M548.8 116.9h0M616.3 121.8h0M558.6 138.6h0M596.9 116.6h0M613.4 114.7h0M637.6 75.3h0M594.6 122h0M544.2 136.4h0M597.5 104.9h0M608.6 109.3h0M578.1 152.9h0M602.4 158.2h0M499.9 160.2h0M495.2 175.2h0M611.4 104.8h0M589.6 104.4h0M517 174.7h0M604.4 150.7h0M578 145.6h0M608.6 141.3h0M551 119.3h0M522.3 153.3h0M528.9 157.9h0M603.7 121.5h0M562.5 102.5h0M615.9 99.6h0M565.4 138.6h0M566 126.2h0M546.4 114.3h0M545.6 101.9h0M560.8 119.4h0M589.6 109.8h0M589.6 143.2h0M570.5 124.4h0M539.4 121.5h0M567.8 136.5h0M604.1 153.2h0M567.8 153.2h0M536.5 133.4h0M545.9 100.2h0M558.5 121.6h0M611 123.7h0M543.9 131.2h0M522.5 136.4h0M539 140.7h0M528.7 133.7h0M536.9 160.5h0M512.2 153.1h0"/>
<path d="M599.5 131.6h0M541.6 160.6h0M536.1 165.4h0M601.3 99.9h0M623.3 121.9h0M503 160.2h0M507 187.2h0M623.3 116.6h0M596.8 131.5h0M554 124.3h0M575.8 128.8h0M536.4 136.5h0M618.3 148.6h0M611.4 123.7h0M620.6 121.9h0M524.6 114h0M582.2 128.6h0M609.2 104.7h0M524.8 140.7h0M613.5 119.3h0M565.7 97.1h0M507 155.6h0M611.6 87.9h0M534.5 152.8h0M545.6 107.3h0M601.5 107.1h0M517.7 169.8h0M504.6 169.9h0M543.9 128.7h0M606.2 133.8h0M543.6 92.2h0M591.6 123.9h0M536.3 182h0M623.2 150.7h0M517.4 141.3h0M633 136.1h0M597.1 126.5h0M502.9 111.8h0M642.7 99.6h0M589.4 133.5h0M587.1 119.3h0M538.5 131.3h0M577.8 165h0M604 128.7h0M553.1 136.5h0M606.2 128.9h0M637.9 126.4h0M606.7 135.9h0M623.8 85.7h0M598.8 121.6h0M570.2 167.7h0M620.7 114.1h0M517.3 155.2h0M598.9 117.1h0M613.5 106.8h0M616.2 116.8h0M611.6 99.8h0M587.6 148h0M577.1 138.9h0M579.8 126.8h0M611.7 141h0M587.2 153h0M594.8 126.7h0M515.1 172.5h0M628.1 123.8h0M594.4 102.4h0M579.5 95.2h0M572.2 136.3h0M548 150.8h0M544.1 145.6h0M597.5 119.3h0M645.6 90.2h0M562.6 107h0M582.2 95.1h0M512.2 170.2h0M550.6 172.6h0M517.7 143.1h0M606.9 177.3h0M522.5 112.3h0M562.8 133.8h0M587.1 184.6h0M536 128.8h0M623.6 128.8h0M577.6 121.7h0M536.8 189.5h0M586.8 116.9h0M531.3 143.6h0M502.6 153.1h0M507.5 163h0M616.3 85.6h0M589.4 163.1h0M599.7 135.8h0M625.8 104.9h0M560.2 95h0M608.8 148.1h0M521.7 138.3h0M623.7 87.9h0M596.7 157.8h0M553.9 152.9h0M581.9 138.2h0M517.7 174.6h0M604.8 150.6h0M570.3 114.2h0M514.6 165h0M601.9 119.4h0M613.9 92.8h0M614.1 117h0M580.2 138.9h0M494.8 160h0M507.2 170.3h0M604.2 136.2h0M613.4 140.6h0M540.8 124.1h0M587.8 114.1h0M564.9 128.7h0M562.6 165.1h0M602.3 92.6h0M553.6 141.3h0M534.5 143.6h0M594.5 126.6h0M570 121.4h0M551.3 129h0M587.6 114.4h0M594.8 111.7h0M557.7 143.6h0M556.1 138.3h0M524.7 107.3h0M535.9 162.9h0M524 157.7h0M523.8 128.9h0M552.9 150.8h0"/>
<path d="M655.4 107h0M562.8 145.6h0M592.7 118.8h0M597 138.4h0M565.3 112.2h0M505 155.6h0M614.3 123.9h0M590.1 121.9h0M509.4 177.2h0M537.1 157.9h0M611.8 157.6h0M575.5 136.1h0M536 134.1h0M615.8 87.5h0M609.6 119.4h0M618.4 90.3h0M599 150.7h0M611.8 97.6h0M623.9 143.5h0M616.6 124.3h0M616.9 106.8h0M544 193.9h0M603.8 138.6h0M562.8 87.4h0M519.6 182.2h0M514.2 152.9h0M567.4 90.2h0M495 177.1h0M594.6 136.4h0M504.6 172.7h0M601.8 92.6h0M614.3 133.4h0M606.5 106.9h0M574.9 140.6h0M555.7 153.2h0M610.9 114.6h0M609 134h0M522.2 157.6h0M594.9 100.1h0M550.8 97.2h0M604.5 119.2h0M515 109.4h0M494.9 170.1h0M596.5 102.1h0M577.4 143.6h0M504.7 141.3h0M577 138.8h0M589.5 160.2h0M577.1 97.2h0M599.9 133.6h0M533.9 117.1h0M531.5 131.1h0M621.6 133.8h0M616.4 92.7h0M582.6 106.9h0M550.6 129h0M539 177.1h0M505.3 153.4h0M638.5 78.1h0M555.3 177.4h0M595.1 131.5h0M626.1 184.6h0M506.9 155.6h0M626.3 138.5h0M609 136.3h0M509.6 167.5h0M570.5 143.4h0M524.4 150.4h0M585.1 119h0M551 148.1h0M628.2 157.9h0M589.3 114.5h0M541.1 140.9h0M616.2 99.6h0M623.3 141.2h0M601.2 124h0M505.5 179.8h0M592.2 157.7h0M567.5 138.9h0M553.4 175.1h0M577.5 140.8h0M558.6 118.9h0M626.1 109.6h0M580.1 134h0M534 181.8h0M580.3 138.9h0M612 138.3h0M618.8 94.7h0M623 104.9h0M616.5 75.8h0M574.7 123.9h0M536.1 170.1h0M565 82.9h0M556.4 162.8h0M611.4 128.6h0M529.2 174.6h0M587.5 123.8h0M534.7 124.4h0M521.4 165.3h0M497.2 140.9h0M580.3 123.9h0M602.3 80.3h0M526.9 145.5h0M585.2 136.2h0M582.3 141h0M543.7 155.3h0M550.5 133.4h0M519.2 153h0M570.3 129h0M621 107.1h0M556.4 104.6h0M592.6 143.1h0M558.3 126.4h0M591.7 121.3h0M597.2 141.2h0M537.1 138.9h0M567.7 134.1h0M577.8 131.6h0M595 100.2h0M567.5 119h0M565.8 150.4h0M526.6 105h0M569.8 128.9h0M526.7 121.9h0M578.2 126.2h0M592 102.3h0M517.5 160.5h0M546.5 165h0M534.4 145.9h0M551.2 155.3h0M536.9 148.5h0"/>
<path d="M517 158h0M604.1 150.5h0M507.2 128.9h0M565.9 153.1h0M567.6 123.7h0M606 109.8h0M592.2 148.5h0M538.8 141.1h0M594.1 114.6h0M534.6 143.5h0M580.1 143.8h0M606.3 122h0M582.2 104.6h0M640.3 153h0M516.8 174.8h0M546.2 148h0M608.6 104.9h0M587.6 119.6h0M536.6 155.4h0M575 104.6h0M606.7 106.9h0M587.4 109.5h0M529.3 167.6h0M599.9 112.3h0M529.7 126.5h0M553 109.7h0M597.3 129.2h0M621.2 117.1h0M568.2 97.7h0M594.8 117h0M567.9 150.7h0M606.5 124.2h0M529.7 124.1h0M611.5 92.8h0M574.8 128.9h0M524.9 168h0M502.3 133.4h0M494.9 163h0M527 138.5h0M614.1 109.4h0M548.8 123.7h0M575.5 99.6h0M599.1 112h0M607 124h0M604.3 107.3h0M613.4 133.9h0M618.4 97.6h0M529 140.8h0M635.3 121.7h0M502.7 170.2h0M616.6 126.3h0M594.2 94.8h0M566.1 138.5h0M553.8 172.2h0M608.8 121.6h0M522.1 152.8h0M567.9 148.1h0M570 131.5h0M630.4 106.9h0M624.1 109.3h0M519.3 147.9h0M608.8 95.2h0M515.2 160.1h0M552.8 131.5h0M616.7 77.8h0M558.1 114.7h0M582.3 117.1h0M577.9 107.1h0M534.7 148.5h0M553.3 112h0M527.3 155.8h0M630.6 102.4h0M607 138.4h0M577.2 119.4h0M625.6 122h0M594.3 116.6h0M599.4 148.6h0M521.7 167.3h0M555.5 138.8h0M608.7 136.4h0M574.6 150.6h0M531.7 155.5h0M590 119h0M544 136.4h0M570.6 128.6h0M531.4 126.4h0M553.4 116.7h0M632.9 121.9h0M519.3 163h0M647.2 111.7h0M531.4 126.7h0M597.1 119h0M577.8 150.6h0M524.1 140.8h0M548 126.8h0M584.4 148.5h0M587.8 117h0M591.7 136.4h0M563.5 102.3h0M609 77.9h0M611.3 114.1h0M512.3 148.2h0M512.7 131.1h0M529.5 165.2h0M524.7 172.8h0M614.3 102.5h0M577.2 114.1h0M589.1 124.2h0M558.4 157.6h0M543.9 165.1h0M591.8 114.6h0M533.6 114.1h0M601.3 136.4h0M560.7 107.3h0M568.2 133.7h0M539.2 123.7h0M558.4 162.5h0M581.9 114.6h0M616.5 135.8h0M558.9 153.1h0M577.1 97.1h0M572.7 124.1h0M592.1 121.7h0M567.9 133.9h0M575.6 148.2h0M577.3 111.9h0M514.2 121.6h0M540.9 141h0M531.6 157.8h0M541 158.1h0M507.4 150.8h0"/>
<path d="M557.8 153.2h0M599.2 157.9h0M611.2 65.7h0M616.1 111.7h0M532 126.5h0M539 152.9h0M596.8 145.6h0M553.4 143.4h0M599 104.8h0M565.1 126.4h0M570.7 167.6h0M507.3 141.2h0M623.4 95.1h0M625.4 148.3h0M570.8 97.1h0M612 95.1h0M592.6 134h0M630.2 111.7h0M630.5 87.6h0M531.1 170.2h0M635.5 152.9h0M550.5 126.5h0M575.8 107.2h0M613.6 126.2h0M609 100.1h0M589.6 111.9h0M509.8 126.4h0M599 124.3h0M521.9 121.3h0M627.8 111.8h0M539.5 182.2h0M578.2 121.3h0M517.4 119.5h0M535.9 172.7h0M607 70.4h0M611.9 109.7h0M509.9 165.4h0M638 102h0M618.2 126.8h0M543.3 119.5h0M502.6 135.9h0M505 157.8h0M580.2 135.9h0M616.8 124.2h0M507.4 162.4h0M620.7 121.4h0M510.3 126.7h0M614.3 124.3h0M515 136h0M550.4 133.5h0M575.1 114.5h0M577.3 121.5h0M563.1 111.8h0M623.3 121.7h0M548.7 134h0M497.8 175h0M524.9 150.7h0M566.1 104.8h0M529.4 126.8h0M565 124h0M526.7 150.6h0M604.4 148.2h0M573.4 131.1h0M555.7 128.5h0M611.7 97.7h0M609.2 82.6h0M529.6 167.9h0M621.2 121.8h0M597.1 128.9h0M636.1 107.1h0M507.5 203.9h0M596.4 145.5h0M584.4 114.1h0M600 126.3h0M594.6 153.1h0M495 158.2h0M512.7 131.3h0M528.8 121.5h0M591.6 109.4h0M555.7 162.6h0M640.8 102.4h0M575.2 102.4h0M527.1 150.9h0M562.9 116.4h0M548.1 145.6h0M585.3 119.2h0M599.9 95.2h0M574.8 145.7h0M621.6 131.2h0M625.5 106.9h0M527.3 162.9h0M529.1 155.3h0M630.5 136.1h0M534.2 165.2h0M562.5 131.2h0M551 116.7h0M577.5 143h0M572.6 136.5h0M568.5 148.6h0M563 133.4h0M566.1 102h0M602.4 143.4h0M592.4 131.2h0M543.9 145.7h0M505.1 160.5h0M575.3 128.9h0M541.1 138.6h0M553.9 138.5h0M545.9 153.2h0M502.8 165.5h0M568.4 106.9h0M620.7 126.7h0M597.1 138.3h0M550.9 124.4h0M569.9 111.8h0M558.8 126.7h0M584.4 116.4h0M596.7 122h0M567.8 114.3h0M538.8 118.9h0M587.3 124.3h0M533.9 131.5h0M587.8 104.6h0M558.7 114.2h0M575.5 133.5h0M602 138.4h0M538.5 121.9h0M543.9 143.3h0M544 153h0M538.6 148.6h0M516.5 158.2h0"/>
<path d="M565.8 162.6h0M556.4 148.6h0M582 160.2h0M618.3 85h0M548.3 162.4h0M591.7 150.9h0M616.5 88h0M587 87.7h0M505.5 167.7h0M536.5 179.6h0M550.7 150.9h0M524.6 174.6h0M544.2 126.3h0M604.8 131h0M516.7 148.1h0M510.5 160.3h0M504.4 148.4h0M565.5 148.5h0M555.3 150.5h0M519 167.9h0M626 145.7h0M541.2 104.5h0M618.7 175h0M589.2 121.5h0M636.2 124h0M618.8 160.5h0M510.1 126.3h0M582.1 148.5h0M650.8 97.7h0M498.2 136.1h0M500.4 145.9h0M640 124.2h0M613.8 121.4h0M620.6 111.6h0M619.2 128.7h0M538.5 184.3h0M570.4 119.5h0M543.5 131.5h0M528.6 181.9h0M579.6 140.7h0M579.8 111.6h0M526.6 170.1h0M500.2 184.7h0M555.5 114.6h0M611 152.8h0M608.5 121.9h0M500.5 148h0M621 83.1h0M609.4 92.9h0M521.8 153h0M594.2 136.2h0M522.4 141.2h0M528.6 126.7h0M509.9 160.4h0M558.3 138.7h0M536.6 143.1h0M548.6 153.3h0M637.9 133.7h0M589.5 90.4h0M621.7 116.7h0M618.9 119h0M623.6 131.2h0M538.8 118.9h0M594.5 157.8h0M520 131.4h0M539.5 136.3h0M621 116.4h0M565.5 109.7h0M604.1 121.7h0M514.5 165.2h0M616.5 146h0M558.8 143.6h0M536.4 89.9h0M597.1 117.1h0M528.7 157.8h0M582.4 124.1h0M616.2 117h0M580.5 104.7h0M603.7 126.2h0M517 131.1h0M589.8 131h0M630.3 66h0M621.7 121.3h0M578.1 133.8h0M565.3 102h0M507.5 148.1h0M544 155.3h0M524.9 155.5h0M511.9 131h0M625.6 114.5h0M504.5 160.2h0M604.3 131.1h0M628.5 107.4h0M611.9 148h0M561.2 170h0M553.2 177.2h0M503.1 172.7h0M505.2 153.1h0M529.6 155.4h0M548.3 152.8h0M597.3 112.1h0M582.2 116.7h0M543.5 102.3h0M621.4 131h0M514.1 165.3h0M579.6 143.6h0M507.7 151h0M650 124.1h0M608.8 114.6h0M625.9 150.5h0M599.3 158h0M589.7 145.7h0M602.1 141h0M585.2 136.3h0M584.5 97.3h0M548.9 138.9h0M558.4 109.8h0M582.8 140.9h0M594.1 129.2h0M594.5 138.6h0M594.4 138.4h0M568 133.7h0M595 147.9h0M556 124.3h0M574.9 148h0M611.2 128.9h0M536.5 158.2h0M531.1 153.2h0M551.2 172.6h0M512.7 160.1h0M532.2 126.5h0"/>
</g>
<line x1="495.4" y1="208.7" x2="669.5" y2="34.5" stroke="#777" stroke-width="0.75"/>
<line x1="495.4" y1="155.5" x2="669.5" y2="111.5" stroke="#d62728" stroke-width="0.9" stroke-dasharray="1.8 1.2"/>
<path d="M482.4 26.8H682.7V217.2" fill="none" stroke="#8a8a8a" stroke-width="1.2"/>
<path d="M482.4 26.2V217.2H683.3000000000001" fill="none" stroke="#555" stroke-width="1.2"/>
<path d="M500.2 217.2v2M524.4 217.2v2M548.6 217.2v2M572.8 217.2v2M597 217.2v2M621.1 217.2v2M645.3 217.2v2M669.5 217.2v2M482.4 203.9h-2M482.4 179.7h-2M482.4 155.5h-2M482.4 131.3h-2M482.4 107.1h-2M482.4 82.9h-2M482.4 58.7h-2M482.4 34.5h-2" stroke="#333" stroke-width="0.6"/>
<g font-size="4.6" fill="#555"><text x="500.2" y="223.7" text-anchor="middle">20</text><text x="524.4" y="223.7" text-anchor="middle">30</text><text x="548.6" y="223.7" text-anchor="middle">40</text><text x="572.8" y="223.7" text-anchor="middle">50</text><text x="597" y="223.7" text-anchor="middle">60</text><text x="621.1" y="223.7" text-anchor="middle">70</text><text x="645.3" y="223.7" text-anchor="middle">80</text><text x="669.5" y="223.7" text-anchor="middle">90</text><text x="480.2" y="206.2" text-anchor="end">20</text><text x="480.2" y="182" text-anchor="end">30</text><text x="480.2" y="157.8" text-anchor="end">40</text><text x="480.2" y="133.6" text-anchor="end">50</text><text x="480.2" y="109.4" text-anchor="end">60</text><text x="480.2" y="85.2" text-anchor="end">70</text><text x="480.2" y="61" text-anchor="end">80</text><text x="480.2" y="36.8" text-anchor="end">90</text></g>
<text x="494.6" y="45.7" font-size="9.6" fill="#111" stroke="#111" stroke-width="0.3">R<tspan font-size="5.8" dy="-3.7">2</tspan><tspan dy="3.7"> = 0.17</tspan></text>
<text x="503.7" y="19.7" font-size="12" fill="#111" stroke="#111" stroke-width="0.6" textLength="141.1" lengthAdjust="spacingAndGlyphs">MAE = 11.42 ± 0.55 years</text>
<text x="473.5" y="23.6" font-size="16.5" font-weight="bold" fill="#111" stroke="#111" stroke-width="0.3">c</text>
<text x="444.4" y="122.3" transform="rotate(-90 472.4 122.3) translate(0 0)" font-size="4.7" font-weight="bold" fill="#222" textLength="56" lengthAdjust="spacingAndGlyphs">Predicted Age (years)</text>
<path d="M56.9 267.5V457.7M86.6 267.5V457.7M116.3 267.5V457.7M146 267.5V457.7M175.7 267.5V457.7M205.4 267.5V457.7M235.1 267.5V457.7M44.8 450.3H244.5M44.8 420.6H244.5M44.8 390.9H244.5M44.8 361.2H244.5M44.8 331.5H244.5M44.8 301.8H244.5M44.8 272.1H244.5" stroke="#e6e6e6" stroke-width="0.5" stroke-dasharray="1 1" fill="none"/>
<g clip-path="url(#cd)" fill="none" stroke="#4169e1" stroke-opacity="0.32" stroke-width="3.2" stroke-linecap="round">
<path d="M65.8 402.3h0M65.8 420.3h0M86.7 423.7h0M65.8 428.2h0M74.9 433.3h0M63 437.3h0M80.7 439h0M101.8 424.5h0M101.7 387.6h0M134.5 418.4h0M77.6 347.5h0M229.5 296.2h0M158.1 326.8h0M187.9 332.8h0M170.2 346.5h0M193.9 352.5h0M235.5 423h0"/>
<path d="M65.8 409.6h0M65.8 422.6h0M74.9 426.7h0M68.6 428.2h0M80.7 433.9h0M65.8 437.3h0M83.9 437.3h0M109.9 437.1h0M92.7 394.6h0M122.5 430h0M116.4 357.1h0M170.2 310.3h0M170.2 321.9h0M184.8 333.6h0M161.1 344.9h0M235.5 344.5h0"/>
<path d="M71.7 412.4h0M71.7 421.2h0M80.7 428.2h0M68.6 430.3h0M83.9 432.2h0M65.8 439h0M68.6 442.9h0M53.7 388.2h0M92.7 398.2h0M122.5 430.8h0M164.1 277.1h0M202.9 309.4h0M170.2 327.6h0M184.8 335.2h0M158.1 346.5h0M235.5 351.9h0"/>
<path d="M77.7 413.8h0M77.7 417.9h0M56.8 429.9h0M89.5 428h0M83.9 434.5h0M68.6 436.2h0M68.6 444.1h0M65.7 382.1h0M95.7 398.2h0M107.6 273h0M170.2 285.1h0M149 320.3h0M187.9 321.9h0M170.2 341.4h0M193.9 341.6h0M173.2 371.1h0"/>
<path d="M86.7 409h0M77.7 424h0M56.8 430.7h0M86.7 429.6h0M86.7 433.9h0M74.9 439.3h0M77.7 441.8h0M65.7 388.8h0M134.5 412.9h0M98.3 321.7h0M149 290.1h0M164.1 317.5h0M193.9 325.5h0M173.2 344.5h0M173.2 355.1h0M229.5 379.7h0"/>
<path d="M89.5 416h0M86.7 422.6h0M54 434.5h0M68.6 433.9h0M86.7 434.6h0M77.7 438.4h0M74.9 450.3h0M98.3 370.5h0M143.6 412.9h0M116.4 334.8h0M202.9 287.3h0M161.1 324.3h0M187.9 331.4h0M173.2 346.1h0M185.2 354.1h0M229.5 411.3h0"/>
</g>
<line x1="53.9" y1="453.3" x2="235.1" y2="272.1" stroke="#777" stroke-width="0.75"/>
<line x1="53.9" y1="434.6" x2="235.1" y2="310.1" stroke="#d62728" stroke-width="0.9" stroke-dasharray="1.8 1.2"/>
<path d="M44.8 267.5H244.5V457.7" fill="none" stroke="#8a8a8a" stroke-width="1.2"/>
<path d="M44.8 266.9V457.7H245.1" fill="none" stroke="#555" stroke-width="1.2"/>
<path d="M56.9 457.7v2M86.6 457.7v2M116.3 457.7v2M146 457.7v2M175.7 457.7v2M205.4 457.7v2M235.1 457.7v2M44.8 450.3h-2M44.8 420.6h-2M44.8 390.9h-2M44.8 361.2h-2M44.8 331.5h-2M44.8 301.8h-2M44.8 272.1h-2" stroke="#333" stroke-width="0.6"/>
<g font-size="4.6" fill="#555"><text x="56.9" y="464.2" text-anchor="middle">20</text><text x="86.6" y="464.2" text-anchor="middle">30</text><text x="116.3" y="464.2" text-anchor="middle">40</text><text x="146" y="464.2" text-anchor="middle">50</text><text x="175.7" y="464.2" text-anchor="middle">60</text><text x="205.4" y="464.2" text-anchor="middle">70</text><text x="235.1" y="464.2" text-anchor="middle">80</text><text x="42.6" y="452.6" text-anchor="end">20</text><text x="42.6" y="422.9" text-anchor="end">30</text><text x="42.6" y="393.2" text-anchor="end">40</text><text x="42.6" y="363.5" text-anchor="end">50</text><text x="42.6" y="333.8" text-anchor="end">60</text><text x="42.6" y="304.1" text-anchor="end">70</text><text x="42.6" y="274.4" text-anchor="end">80</text></g>
<text x="57" y="286.4" font-size="9.6" fill="#111" stroke="#111" stroke-width="0.3">R<tspan font-size="5.8" dy="-3.7">2</tspan><tspan dy="3.7"> = 0.54</tspan></text>
<text x="72.0" y="260.1" font-size="12" fill="#111" stroke="#111" stroke-width="0.6" textLength="134.4" lengthAdjust="spacingAndGlyphs">MAE = 8.03 ± 4.10 years</text>
<text x="29.4" y="259.5" font-size="16.5" font-weight="bold" fill="#111" stroke="#111" stroke-width="0.3">d</text>
<path d="M276.3 267.5V457.7M320.1 267.5V457.7M363.9 267.5V457.7M407.7 267.5V457.7M451.5 267.5V457.7M263.7 448.5H463.6M263.7 426.7H463.6M263.7 404.9H463.6M263.7 383.1H463.6M263.7 361.3H463.6M263.7 339.5H463.6M263.7 317.7H463.6M263.7 295.9H463.6M263.7 274.1H463.6" stroke="#e6e6e6" stroke-width="0.5" stroke-dasharray="1 1" fill="none"/>
<g clip-path="url(#ce)" fill="none" stroke="#4169e1" stroke-opacity="0.32" stroke-width="3.2" stroke-linecap="round">
<path d="M329.3 388h0M328.4 381.6h0M338 386.7h0M326.1 381.9h0M330.7 395h0M337.6 397.2h0M329.3 393.5h0M333.7 387.8h0M322.1 397.4h0M326.5 382.6h0M333.7 390.1h0M329.1 390.7h0M322.1 382.2h0M340.3 396.9h0M339.5 384.5h0M327.2 397.2h0M326.9 388.3h0M328.4 385h0M326.7 391.2h0M339.4 394.2h0M342.3 384.5h0M339.8 385.1h0M332.9 383h0M328.5 384h0M326.8 395.6h0M324.1 390.9h0M337.2 378h0M357.6 375.3h0M342.4 397.7h0M329 390.6h0M324 392.6h0M331.4 388.5h0M339.9 388.8h0M340 386.3h0M335.3 393.8h0M349.1 388.6h0M328.7 393.5h0M350.5 393.6h0M326.2 385.4h0M340.3 371.7h0M360 390.3h0M341.5 401.1h0M344 373.3h0M346.3 369.6h0M344.7 375h0M329.2 346.5h0M364.3 356.7h0M374.9 327.3h0M385.7 329.9h0M396.4 320.8h0M407.9 321.4h0M418.4 322.5h0M451.5 368.9h0M275.9 443.9h0M276.6 446.2h0M276 448.5h0M308.7 401.7h0M302.6 396.2h0"/>
<path d="M324.9 386.9h0M331 389.9h0M328.5 400.9h0M333.5 396.5h0M332.8 391.9h0M339.9 384.4h0M326.4 398.3h0M325 394.5h0M342.3 384.7h0M333.6 397.5h0M320.4 387.6h0M326.3 385.3h0M326.9 393.6h0M335.8 390.4h0M333.4 387.6h0M338.1 384h0M324.2 399.3h0M342 384.5h0M324.3 382.4h0M321.9 384.5h0M329 401.1h0M321.9 397.4h0M320.4 396.6h0M328.5 396h0M333.2 395.6h0M320.1 391.8h0M339.7 392.8h0M339.4 383.2h0M333.8 389.3h0M341.8 391.2h0M337.5 388.5h0M342 398h0M337.3 398.8h0M320.6 388.3h0M315.7 379.1h0M348.4 396.1h0M343.8 396.5h0M342.1 394.3h0M341.5 389.8h0M348.5 374.8h0M333.4 408.6h0M325 405.9h0M355.6 334.5h0M313.3 330.5h0M322.1 359.3h0M337.6 331.5h0M364.1 367.4h0M374.9 329.9h0M386 339.5h0M396.6 326h0M407.9 329.9h0M418.2 338h0M353 339.5h0M276.3 442.8h0M276.9 449.5h0M276.3 436.5h0M309.5 401.1h0M304.8 391.8h0"/>
<path d="M333.5 386.2h0M338 400.6h0M328.8 397.1h0M324 389.5h0M322.7 393.2h0M333.4 400.7h0M338 393h0M335.3 381.8h0M330.6 386.5h0M332.9 393.4h0M335.8 397.5h0M328.9 385.2h0M331.6 383.6h0M330.6 389.6h0M326.1 390.2h0M330.8 397.1h0M334.9 393.9h0M331.3 381.9h0M328.6 391.3h0M326.6 397.6h0M333.3 400h0M320.3 394.4h0M331.2 397.6h0M322 383.5h0M335.5 391.5h0M333.8 389.6h0M343.8 392.7h0M327.2 376.3h0M331.3 396h0M333.8 386h0M314.1 394.3h0M330.6 401.2h0M353.2 394.3h0M335.9 388.8h0M327.2 387.5h0M345.9 391.9h0M333.6 386.3h0M339.7 388.8h0M324.8 404.1h0M339.8 397h0M320.6 384.9h0M326.8 381.7h0M348.3 339.2h0M364.3 341h0M348.8 371.2h0M362.2 372.9h0M364.2 371.5h0M374.6 345.6h0M385.6 340.8h0M396.6 350.8h0M407.6 332.7h0M418.7 340.8h0M353.3 350.4h0M276.1 441h0M276 440.9h0M276.3 435.4h0M308.5 388.2h0M326.7 446.3h0"/>
<path d="M328.6 392h0M337.1 388.1h0M337.7 381.2h0M339.9 385.2h0M322.7 396.5h0M328.4 389.2h0M321.9 387.3h0M340.2 395.8h0M341.9 387.7h0M319.6 398.6h0M322.3 390.5h0M328.9 384h0M328.9 390.3h0M324.4 389.5h0M322.3 397.8h0M340.3 391.7h0M333.5 397.9h0M319.9 394.7h0M326.6 391.4h0M328.3 383.3h0M325 390.8h0M324.4 383.5h0M333.3 385.8h0M322.2 397.6h0M329 392.8h0M326.4 400h0M320.2 377.7h0M332.9 394.3h0M331.3 384.7h0M322.6 399.5h0M344.1 396.3h0M324.1 398.8h0M324.9 386.2h0M335.1 410.2h0M326.4 397.1h0M330.7 392.9h0M335.1 382.8h0M333.7 393.3h0M335.8 398h0M350.3 398h0M335.5 376.4h0M313.5 403h0M334.9 338.8h0M314 351.4h0M320.3 339.5h0M315.8 354.4h0M363.8 374.4h0M375.1 366.1h0M385.8 348.7h0M396.7 358h0M407.3 337.5h0M418.7 368.3h0M352.7 359.1h0M275.6 445.9h0M276.4 445.9h0M276.3 415.8h0M309.7 409.4h0M326.7 445.2h0"/>
<path d="M330.7 382.1h0M340.2 384.8h0M328.9 395.7h0M319.8 401.5h0M324.8 386.2h0M322.2 389.2h0M342.2 388.6h0M328.8 391.7h0M329.2 394.2h0M328.5 397.8h0M325 395.5h0M324.9 398.7h0M337.9 387.2h0M337.8 385.3h0M322.4 392.8h0M328.4 395.7h0M335.5 398.8h0M331.5 386h0M335.5 386.6h0M333.1 397.9h0M333.7 399.6h0M329 394.9h0M326.4 398.8h0M340.3 398h0M326.2 393.6h0M317.6 394.7h0M335.9 403h0M328.6 407.3h0M317.7 398.8h0M348.9 385h0M328.6 391.5h0M333.5 386.9h0M357 396h0M354.8 385.1h0M339.5 393.8h0M335.4 391.4h0M330.9 395.5h0M339.8 386h0M315.4 394.3h0M355.3 408.1h0M359.6 380h0M318 387.8h0M326.7 341h0M313.5 346.3h0M315.9 328.8h0M333.3 364.2h0M364.2 376.6h0M374.6 374.8h0M386.1 350.4h0M396.7 365.2h0M407.4 344.7h0M419.1 374.8h0M353.2 365.7h0M276.4 444h0M276.6 444.9h0M276.3 413.6h0M309.2 332.5h0M287.2 360.2h0"/>
<path d="M328.4 399.1h0M332.8 385.3h0M335.3 394.9h0M339.5 401.1h0M322 392h0M333.6 395.1h0M330.7 382.6h0M333 392.1h0M333.1 393.1h0M337.1 400h0M331 388.7h0M329.2 391.5h0M342.5 388.9h0M325 389.2h0M324.8 397.8h0M331 399.2h0M335.3 386.9h0M328.6 401.3h0M342.2 393.5h0M319.9 400.3h0M338 384.6h0M324.1 388.8h0M331.1 396.8h0M339.5 398.1h0M339.4 394.9h0M355 394h0M341.6 404.5h0M326.3 394.8h0M327.1 400.1h0M325 399.1h0M340.1 391.3h0M344.3 382.7h0M339.4 392.5h0M315.5 399.4h0M330.9 388.1h0M331.6 393.2h0M336 389.2h0M322.7 395.8h0M324.3 380.5h0M335.5 387.3h0M357.4 388.5h0M339.7 392.1h0M326.9 357.5h0M354.8 356.9h0M328.8 371.6h0M364.1 315.3h0M364 380.7h0M375.2 378.1h0M385.7 352.6h0M396.5 372.6h0M407.9 347.3h0M418.6 377.6h0M353 370h0M276.1 443.5h0M276.5 447.5h0M276.3 385.3h0M309.2 355.2h0"/>
<path d="M333.3 399.3h0M333.6 386.3h0M335 395.9h0M333.2 399.6h0M321.9 400.2h0M335 395.7h0M341.9 391.3h0M319.9 385h0M320.6 382.5h0M337.2 389.4h0M322.8 391.2h0M333 384.5h0M325 389.1h0M337.8 389h0M326.1 384.1h0M331.2 383h0M328.7 388.1h0M324.6 395.4h0M335.8 394.6h0M331.3 396h0M326.6 385.2h0M329 387.3h0M335.3 387.6h0M339.9 397.9h0M337.9 383.9h0M326.3 407.9h0M320.6 390h0M320 383.3h0M335.5 382h0M322.4 393h0M351.1 385.2h0M324.3 390.2h0M337.4 396.2h0M333.2 398.4h0M330.9 388h0M324.8 392h0M339.9 407.3h0M339.8 389.7h0M343.8 383.1h0M328.4 401.5h0M339.9 377.2h0M348 389.7h0M350.6 342.3h0M330.8 343.9h0M343.7 336.1h0M363.8 326h0M364 387.5h0M375.1 390.1h0M385.7 354.1h0M397.1 382h0M407.3 350.2h0M429.2 322.5h0M352.9 372.2h0M276.1 443.8h0M276.3 443h0M276.3 380.9h0M298.2 368.7h0"/>
<path d="M337.9 399h0M340.2 397.7h0M324.6 395.1h0M333 394.8h0M322.4 397.3h0M324.8 399.8h0M326.6 400.7h0M332.9 386.9h0M339.5 397.1h0M321.8 385.5h0M326.6 381.3h0M328.9 386.8h0M342.4 386h0M337.2 387.7h0M324.7 392.2h0M335.4 398.9h0M319.7 397.1h0M331.4 382.1h0M330.9 386.8h0M342.3 386.7h0M328.8 382.9h0M331.1 390.1h0M322 400h0M324.3 401h0M330.8 394.9h0M337.2 394.2h0M330.5 401.8h0M335.6 399.6h0M324.3 389.1h0M333.2 390.2h0M331.2 393.2h0M349.1 392.3h0M335.3 396.1h0M331.2 389h0M327.1 392.1h0M325 396.4h0M325 382.2h0M320.4 403.8h0M318.3 396.9h0M359.2 401h0M344.7 380.8h0M346.1 395.4h0M322.1 355.8h0M361.5 367.8h0M352.7 358.1h0M363.8 346h0M364.1 390.1h0M375.1 392.7h0M386 360.6h0M396.8 387.9h0M407.8 352.8h0M429.3 335.4h0M353.3 376.6h0M276.7 442.6h0M276.3 445.2h0M276.3 426.7h0M298.2 385.1h0"/>
<path d="M340.3 395.3h0M341.9 399.5h0M339.9 390.7h0M335.9 399h0M327.1 388.4h0M339.5 398h0M333.7 382.6h0M337.5 385.3h0M335.1 389.8h0M329.1 395.2h0M328.7 390h0M335.4 400.5h0M335.8 388.2h0M325 401.1h0M333.1 389.7h0M322.8 382.9h0M322.3 394.5h0M324.9 395.8h0M320.1 398.2h0M331.2 396h0M333.1 396.1h0M337.5 391.2h0M335.3 392.2h0M326.5 385.1h0M329 395.6h0M339.5 392.4h0M324.9 396.2h0M341.7 382.7h0M340 402.1h0M342 390.6h0M322.2 400.6h0M354.7 394.2h0M333.1 391.7h0M322.7 396.7h0M328.9 384.8h0M333 385.1h0M322.8 395.1h0M335.3 383.4h0M328.5 397.1h0M346.2 374.9h0M317.8 402.1h0M332.9 366.9h0M315.7 338.8h0M313.3 355.8h0M337.7 353.7h0M363.8 348.2h0M364 394h0M374.7 402.1h0M386.2 374.8h0M396.9 394h0M407.3 362.6h0M430 349.3h0M352.9 383.1h0M276.4 442.2h0M275.9 449.1h0M309.2 396h0M298.2 398.4h0"/>
<path d="M331.3 398.1h0M322.6 385h0M326.9 383.1h0M339.8 388.3h0M333.2 391.8h0M337.8 383.9h0M339.6 391.6h0M337.5 383.7h0M328.6 396.3h0M341.7 398.5h0M329.1 401.5h0M335.4 397.6h0M339.7 390.9h0M328.4 385.8h0M334.9 401.5h0M337.1 388.7h0M326.7 382.9h0M335.3 397.5h0M324.6 381.3h0M329.2 392.5h0M328.3 391.6h0M324.4 398.1h0M325 391.8h0M322.7 388.1h0M337.3 400.3h0M328.6 375h0M342.1 392.2h0M330.6 389.1h0M333.6 399.6h0M332.8 383.9h0M346.1 389.2h0M330.8 390.3h0M342 382.2h0M320.2 384.3h0M343.7 395.8h0M326.4 379.1h0M346.5 401.2h0M344.3 379.7h0M346.6 382h0M329.1 406.6h0M331 409.3h0M333.1 353h0M308.9 327.6h0M357.4 362.5h0M313.8 337.8h0M363.8 350.4h0M364.2 396.2h0M385.8 321.4h0M386.2 394h0M397 399.4h0M407.6 378.1h0M440.9 302h0M352.7 387.5h0M275.7 445.3h0M275.8 447.7h0M308.5 408.7h0M298.2 402.7h0"/>
<path d="M324.8 387.5h0M333.3 388.5h0M322.7 390.7h0M330.9 396.3h0M339.9 388.9h0M335.2 399.8h0M322.7 397.7h0M327 400.3h0M321.8 398.3h0M333.1 399.8h0M342.1 397.3h0M335.1 388.4h0M329.1 393h0M323.9 398.5h0M322.4 381h0M335.7 390.9h0M324.9 391.4h0M333 400.1h0M324.7 390.3h0M328.9 393.2h0M333.6 392.3h0M333.7 397.2h0M327.2 397h0M326.4 395.6h0M333.4 392.8h0M331.4 402.9h0M337.4 378.3h0M332.8 378.9h0M324.4 398.3h0M317.8 386.3h0M355 386.4h0M346.1 394.3h0M339.5 390.2h0M340.3 387.4h0M339.5 401.5h0M331.4 383.8h0M344.3 380.6h0M326.3 391.6h0M346.1 406.2h0M359.2 387.1h0M348.4 375.2h0M346.2 353.8h0M309.5 333.6h0M308.8 342.3h0M328.6 333.7h0M363.9 352.6h0M364.2 399.4h0M386.1 326h0M396.9 318.1h0M397 414.1h0M407.8 391.4h0M440.9 343.4h0M352.7 394h0M276.7 447.3h0M276.7 441.2h0M308.6 400.8h0M298.2 407.5h0"/>
<path d="M330.7 390.8h0M340.1 393.7h0M325 400.6h0M328.8 392.4h0M339.8 383.2h0M319.9 396.4h0M337.3 401.3h0M326.6 397.5h0M341.6 399.7h0M342.2 382.3h0M328.5 387.5h0M340.3 393h0M322.5 396h0M333.1 397.2h0M335.9 393.8h0M339.9 386.6h0M320.4 399.9h0M334.9 395h0M332.8 387.3h0M324.7 398.2h0M326.2 383h0M335.6 383.2h0M324.3 401.6h0M321.8 392h0M324.5 398.8h0M335.1 395.4h0M345.9 376.3h0M343.9 400.6h0M339.7 392.5h0M338 395.8h0M315.3 387.8h0M335 383.2h0M337.7 397.2h0M335.3 386.1h0M322.7 391.8h0M346 397h0M340 397.4h0M321.8 396.4h0M341.9 383h0M335.1 406h0M363.6 397h0M331.3 368.2h0M346.6 360h0M344.4 343.1h0M326.7 372.9h0M364.3 354.8h0M364.3 402.1h0M385.7 328.6h0M396.8 319.4h0M397.2 417.5h0M418.5 313.6h0M440.7 392h0M352.5 400.5h0M276 447.8h0M276.8 445.9h0M308.6 409.7h0M302.6 404.9h0"/>
</g>
<line x1="276.3" y1="448.5" x2="451.5" y2="274.1" stroke="#777" stroke-width="0.75"/>
<line x1="276.3" y1="420.2" x2="451.5" y2="324.9" stroke="#d62728" stroke-width="0.9" stroke-dasharray="1.8 1.2"/>
<path d="M263.7 267.5H463.6V457.7" fill="none" stroke="#8a8a8a" stroke-width="1.2"/>
<path d="M263.7 266.9V457.7H464.20000000000005" fill="none" stroke="#555" stroke-width="1.2"/>
<path d="M276.3 457.7v2M320.1 457.7v2M363.9 457.7v2M407.7 457.7v2M451.5 457.7v2M263.7 448.5h-2M263.7 426.7h-2M263.7 404.9h-2M263.7 383.1h-2M263.7 361.3h-2M263.7 339.5h-2M263.7 317.7h-2M263.7 295.9h-2M263.7 274.1h-2" stroke="#333" stroke-width="0.6"/>
<g font-size="4.6" fill="#555"><text x="276.3" y="464.2" text-anchor="middle">0</text><text x="320.1" y="464.2" text-anchor="middle">20</text><text x="363.9" y="464.2" text-anchor="middle">40</text><text x="407.7" y="464.2" text-anchor="middle">60</text><text x="451.5" y="464.2" text-anchor="middle">80</text><text x="261.5" y="450.8" text-anchor="end">0</text><text x="261.5" y="429" text-anchor="end">10</text><text x="261.5" y="407.2" text-anchor="end">20</text><text x="261.5" y="385.4" text-anchor="end">30</text><text x="261.5" y="363.6" text-anchor="end">40</text><text x="261.5" y="341.8" text-anchor="end">50</text><text x="261.5" y="320" text-anchor="end">60</text><text x="261.5" y="298.2" text-anchor="end">70</text><text x="261.5" y="276.4" text-anchor="end">80</text></g>
<text x="275.9" y="286.4" font-size="9.6" fill="#111" stroke="#111" stroke-width="0.3">R<tspan font-size="5.8" dy="-3.7">2</tspan><tspan dy="3.7"> = 0.45</tspan></text>
<text x="289.7" y="260.1" font-size="12" fill="#111" stroke="#111" stroke-width="0.6" textLength="133.70000000000002" lengthAdjust="spacingAndGlyphs">MAE = 6.72 ± 0.81 years</text>
<text x="251.8" y="259.5" font-size="16.5" font-weight="bold" fill="#111" stroke="#111" stroke-width="0.3">e</text>
<text x="225.7" y="362.9" transform="rotate(-90 253.7 362.9) translate(0 0)" font-size="4.7" font-weight="bold" fill="#222" textLength="56" lengthAdjust="spacingAndGlyphs">Predicted Age (years)</text>
<path d="M495.4 267.5V457.7M533.4 267.5V457.7M571.4 267.5V457.7M609.4 267.5V457.7M647.4 267.5V457.7M482.6 448.5H682.7M482.6 410.3H682.7M482.6 372.1H682.7M482.6 333.9H682.7M482.6 295.7H682.7" stroke="#e6e6e6" stroke-width="0.5" stroke-dasharray="1 1" fill="none"/>
<g clip-path="url(#cf)" fill="none" stroke="#4169e1" stroke-opacity="0.32" stroke-width="3.2" stroke-linecap="round">
<path d="M628.8 333.2h0M549 354.2h0M603.9 334.9h0M537.5 378.7h0M550.9 363.3h0M552.4 362.4h0M571.4 347h0M596.2 357.9h0M569.8 354.4h0M586.7 348.6h0M527.7 365.8h0M609.4 345.6h0M565.5 390.1h0M626.4 317.2h0M569.9 368.3h0M630.2 315.1h0M556.3 379.1h0M647.3 303.3h0M596.3 363.6h0M586.3 358.9h0M599.6 346.4h0M559.8 350.6h0M534.9 355.9h0M525.6 393.4h0M582.7 364.2h0M631.9 302.8h0M598 341.2h0M586.9 388.6h0M590.3 366.5h0M577.5 359.1h0M537.4 362.4h0M533.3 356.7h0M594.6 324.4h0M541.3 363.5h0M624.9 320h0M633.7 351.1h0M535.4 341h0M577.3 365.4h0M564.2 346.3h0M582.9 366.6h0M565.4 415.6h0M541.4 363.8h0M586.1 380h0M605.8 363.8h0M533 379.6h0M601.7 341.9h0M609.9 362.7h0M597.6 361.5h0M545.2 333.3h0M558.1 354.5h0M607.4 356.3h0M581.1 382.5h0M537.1 349.9h0M584.8 347h0M545.2 382.2h0M573.2 362.8h0M607.1 380.9h0M657.2 304.6h0M554 376.7h0M603.8 338.7h0M605.7 345.5h0M578.8 366.6h0M630.4 323.1h0M639.6 325.1h0M567.4 378h0M546.6 387.3h0M556.5 383.1h0M535 409.3h0M543.3 356.6h0M573.1 344.4h0M626.4 316.3h0M641.9 332.3h0M577 396.1h0M550.6 354.9h0M531.2 369.3h0M598.3 350.5h0M628.9 329.2h0M557.8 350.3h0M552.5 364.2h0M552.2 366.4h0M604 339.9h0M575.1 340.7h0M543.3 369.5h0M579.1 330.6h0M628 358.8h0M614.8 350.4h0M605.9 341.7h0M576.8 372.6h0M602.1 355.9h0M605.9 372.7h0M586.8 370.8h0M583 370.6h0M599.7 389.1h0M579.2 364.1h0M596.3 351.1h0M588.5 369.4h0M588.5 365.1h0M630.2 310.2h0M613.3 353.8h0M609.3 334.3h0M554.6 400.2h0M594.3 358.3h0M617.3 329.3h0M583 363.2h0M584.4 397h0M609.8 334.3h0M569.4 364.4h0M630.1 331.2h0M599.9 350.4h0M571.1 367.6h0M550.2 345.9h0M594.5 339.4h0M585 376.4h0M561.6 352.3h0M537.3 372.1h0M575.2 355.7h0M575.3 361.6h0M567.2 371.5h0M552.3 359.5h0M573.6 348.2h0M535.3 380.9h0M537 377.4h0M565.6 378.3h0M588.2 369.6h0M609 348.2h0M575.2 328.7h0M531.4 381.8h0M550.3 368.1h0M564 376.9h0M633.7 361.5h0M604.1 353.8h0M577.6 382.9h0M576.7 347.2h0M609.7 321.3h0M592.1 357.6h0M632.4 350.2h0M590.1 365.8h0M593.8 324.5h0M534.9 377.6h0M611.8 381.6h0M618.9 333.3h0M602 368.5h0M597.6 341.4h0M578.6 347.5h0M615 359.3h0M584.7 366.6h0M615.1 361.3h0M593.8 327.2h0M563.5 352.1h0M607.4 348.4h0M638.2 335.6h0M599.6 337.4h0M590.8 351.6h0M619.2 338.2h0M609.6 342.4h0M605.6 351.8h0M609.4 359.2h0M617.1 322.8h0M614.9 326.6h0M601.9 339.3h0M630.4 319.5h0M496.3 442h0M501 436.2h0M496 447.7h0M495.8 436.7h0M498.1 438.4h0M499.1 437.8h0M496.5 441.8h0M496.5 439.1h0M496.2 438.2h0M496.9 443.7h0M498.3 447.5h0M495.7 441.5h0M496.2 443.4h0M495.7 389.2h0M531.7 384.5h0M531 440h0M542.9 394.1h0M510.5 370.3h0M529.7 399.2h0M511.1 426.4h0M514.7 408.1h0M501.5 397.6h0M543.1 395.4h0M517.9 435.7h0M525.8 370.2h0M507.2 425.5h0M527.7 362.6h0M499.5 397.2h0M499.1 381.5h0M508.6 408.7h0M525.9 384.1h0M500.7 337h0M528.1 313.4h0M495.1 420.1h0M495.1 398.3h0M611 433.4h0M600.4 447h0M580.7 423.8h0M606 428.1h0M586.8 369.4h0M607.9 378.8h0M603.7 375.5h0M635.5 369h0M617.3 360.5h0M634.2 370h0M578.8 377h0M613.2 369.7h0M573.5 393.8h0M596.4 388.7h0M635.8 344.7h0M603.4 376.6h0M590 387.8h0M597.7 369.2h0M626.1 362.4h0"/>
<path d="M585.1 360.9h0M535.3 372.6h0M628.2 342.9h0M588.6 323.6h0M550.5 372.5h0M619.2 316.2h0M573.1 360.2h0M601.8 339.1h0M607.9 359.4h0M629.9 343.8h0M564.2 381.9h0M548.2 350.9h0M601.7 364h0M626.2 344.7h0M563.8 316.5h0M529.8 379.1h0M584.5 358.1h0M576.8 371.6h0M609.6 337.9h0M549 352.2h0M598.3 370h0M584.7 391.9h0M533.7 371.4h0M557.7 375.5h0M569.3 381.2h0M619 347.1h0M552.2 372.5h0M557.9 379.3h0M569.9 348.5h0M632 342.9h0M523.6 373.4h0M611.4 316h0M614.8 349.4h0M607.1 348.3h0M582.4 394.5h0M554.6 357.8h0M643.6 327.8h0M640.1 334.5h0M557.7 387.3h0M617 315h0M649.1 320.2h0M586.3 348.2h0M614.8 340.9h0M525.7 364.8h0M565.6 366.9h0M571.7 341.6h0M637.8 330.7h0M626.8 328h0M538.9 386.6h0M563.6 355.3h0M554.1 356.6h0M622.9 345h0M539 394h0M573.6 367.7h0M592.3 377.7h0M552.4 356.3h0M539.3 397.5h0M571.3 373.7h0M643.8 331.7h0M575.2 391.6h0M580.9 350.8h0M565.8 374.2h0M586.8 344.1h0M562.1 368h0M586.1 351.7h0M539.5 352h0M628.9 334.8h0M597.7 339.6h0M621.1 354.8h0M569.7 377.3h0M582.4 343.6h0M573.7 378.9h0M609.2 320.2h0M596.1 352.2h0M581.3 385.5h0M605.6 349.7h0M537.7 368.9h0M595.7 369.1h0M611.2 345h0M559.8 367.8h0M563.5 350.7h0M620.8 354.6h0M579.4 369.7h0M588.7 368.5h0M626.7 312.7h0M555.9 357.5h0M624.4 331.1h0M540.9 375.3h0M554.1 375.7h0M569.7 362.4h0M534.8 329.7h0M626.1 315.9h0M641.8 300.1h0M541.3 370.5h0M545 360.4h0M554.2 367.4h0M616.6 344.7h0M584.6 359.4h0M577 361.4h0M569.6 383.3h0M547 373.7h0M584.6 357.1h0M632.4 317.8h0M641.3 294h0M634 357.8h0M621.1 361.1h0M573.5 313.3h0M622.6 347.4h0M538.7 371.7h0M569.5 366.5h0M594 338.9h0M537.7 402.2h0M610.9 321.3h0M557.9 353.1h0M616.7 328.7h0M569.3 340.3h0M605.1 353.9h0M598.2 360.9h0M533.8 414.8h0M616.8 326h0M596.4 329.7h0M552.6 368.2h0M564 351.8h0M559.6 397.6h0M533.3 380.1h0M586.3 377.4h0M572.9 333.3h0M584.9 338.4h0M628.4 328.6h0M602 342.5h0M543.3 364.8h0M617.3 368.1h0M611.2 370.4h0M632.3 329.2h0M552.8 384.1h0M620.5 341.1h0M533.6 362.6h0M550.3 341.6h0M577 357.6h0M599.9 373.9h0M626 348.5h0M609 344.6h0M615.3 353.4h0M630.2 341.8h0M610.9 351.2h0M618.9 326.2h0M616.8 343.2h0M597.5 337.8h0M600.1 340.2h0M603.7 351.2h0M599.9 329.7h0M590.8 338.9h0M611.6 360.9h0M596.2 358.7h0M607.9 330.9h0M636 331h0M603.8 338.7h0M634.3 331.9h0M618.6 326.5h0M611.5 343.7h0M622.8 339.6h0M496.6 437.1h0M501.4 451h0M500.4 444.8h0M497.4 440.6h0M499.5 445.2h0M496.5 440.1h0M497.9 447.1h0M497.1 442.7h0M498 436.8h0M494.9 445.6h0M497.5 450.1h0M496.6 449.5h0M498.7 439.8h0M495.2 368.2h0M540.9 438.3h0M524 428.4h0M499.1 430h0M525.9 356.4h0M545.3 405.8h0M526.2 389.6h0M549 395.8h0M503.4 434.7h0M550.4 427.2h0M501.2 378.3h0M533.7 425.3h0M514.7 443.2h0M504.6 373.4h0M526.1 360.1h0M536.9 409.9h0M499.1 451.3h0M516.7 378.8h0M520 308.5h0M518 329.9h0M496.9 397.1h0M497 409.2h0M561.6 434.1h0M590.3 443h0M561.8 420.2h0M643.8 426.2h0M628.9 346.7h0M553.9 382.7h0M582.7 405.2h0M556.1 423h0M609.6 360.4h0M559.7 381.3h0M639.7 361.9h0M599.5 386.5h0M626.5 365.1h0M637.8 350.4h0M553.9 405h0M562.1 394h0M581.1 374.6h0M595.8 371.4h0M632.3 362.3h0"/>
<path d="M556 349.4h0M550.7 351.2h0M613.6 319h0M632 338.5h0M599.6 332.2h0M590.2 364.6h0M566.2 363.7h0M533.5 361.9h0M569.4 370.1h0M533.1 373.3h0M624.9 337.8h0M584.6 327.5h0M611.8 323.9h0M611 335.4h0M533.6 364h0M576.9 355.8h0M571 386.4h0M565.6 348.1h0M554.7 368.6h0M599.4 347h0M533.3 402.4h0M550.2 388.9h0M611 359.5h0M598.3 318.6h0M618.5 367.7h0M619 360.2h0M535.4 396.3h0M651.4 324.8h0M560.1 355h0M626.1 320.8h0M533.1 384h0M550.7 400.1h0M609.7 349.1h0M527.7 412.5h0M624.7 338.1h0M601.5 346.9h0M578.6 369h0M581 377h0M573.4 360.8h0M558.2 377.6h0M581 354.1h0M577 360.7h0M626.8 346.1h0M575 368.6h0M638.3 308.8h0M548.4 398.7h0M545 382.5h0M547.2 376.7h0M568 359.9h0M618.9 338.8h0M631.9 328.4h0M601.8 339.7h0M637.8 316.5h0M624.9 374h0M565.7 361.1h0M626.2 332.5h0M599.8 358.2h0M586.3 347.2h0M621 340.5h0M543.2 339h0M591.9 335.8h0M529.4 387.2h0M533.6 358h0M590.1 344.1h0M632.6 344.4h0M663 319.4h0M584.8 361.2h0M565.8 354.4h0M584.7 345.2h0M607.2 336.7h0M576.9 339.5h0M619.3 346.6h0M563.6 380.8h0M548.3 402.4h0M538.8 397.9h0M618.6 352.5h0M554.2 378.5h0M539.2 382.5h0M550.3 347.2h0M621 349.5h0M544.6 371.7h0M580.9 395.8h0M594.1 358.8h0M561.9 371.9h0M567.6 341.3h0M603.4 342.8h0M598.1 334.5h0M542.8 374.2h0M538.9 374.4h0M544.8 314.8h0M623.1 359.3h0M605.7 317.8h0M598.4 346.2h0M603.3 351.3h0M565.8 355.5h0M585.1 359.6h0M586.2 366.7h0M628.8 326.7h0M569.2 369.4h0M547.1 382h0M578.9 350.4h0M577.3 353.7h0M555.9 355.3h0M561.7 382.6h0M626.2 323.6h0M556.7 392.3h0M655.4 324h0M616.9 341.3h0M584.9 339.6h0M573 382.3h0M594.5 376.3h0M615.4 304.3h0M574.8 382.3h0M626.1 305.2h0M597.9 357h0M617.4 355h0M632.3 348.4h0M548.7 386.1h0M597.8 390h0M586.2 360.8h0M544.8 374.8h0M630.3 317.4h0M573 338h0M588.8 355.8h0M552.3 349.1h0M545 379.5h0M601.5 351h0M535.7 349.7h0M553.9 346.1h0M623.1 358.5h0M640 308h0M583.1 350.8h0M611.7 345.7h0M597.6 342.7h0M535.4 400.9h0M546.4 381h0M611.6 327.3h0M564.2 373.3h0M613.7 367.7h0M602.1 334h0M603.3 372.2h0M609.8 353.5h0M617.2 344.1h0M601.4 326.4h0M620.4 356.4h0M628.7 372.4h0M624.4 350h0M642.2 345h0M603.8 343.4h0M584.4 347h0M615.5 371.7h0M617 348.5h0M601.3 349.3h0M607.5 353.5h0M624.3 316.1h0M633.8 308.6h0M602.1 346.8h0M609.8 342.3h0M634.2 322.5h0M640 293.4h0M636.4 328.8h0M496.9 445.1h0M497.7 447.7h0M498.8 444.2h0M495.6 446.3h0M498.3 446.6h0M499.1 450.5h0M497.3 444.4h0M498.5 450.3h0M497.7 448.9h0M497.4 446.9h0M497.9 445.3h0M495.2 438h0M498.5 435.5h0M495.2 366.5h0M539.3 422h0M520.5 377.8h0M508.4 427.9h0M499.1 442h0M537 416.5h0M516.6 439.1h0M528.1 450.8h0M502.5 447.5h0M529.8 364h0M524.1 356.4h0M501 386.8h0M506.6 442.8h0M522.2 404.2h0M499.4 414.7h0M539.5 445.4h0M550.3 449.6h0M514.4 395.7h0M516.7 359.6h0M527.7 358.3h0M496.4 381.8h0M495.8 382.4h0M607.5 421h0M556 431.8h0M580.8 408.5h0M628 402.3h0M626.8 370.4h0M605.9 372.3h0M612.9 387.5h0M607.8 373h0M558.5 386.8h0M614.7 381.4h0M582.6 384.8h0M605.8 371.4h0M571 397.9h0M613.6 368.5h0M567.7 410.2h0M596 386.5h0M601.5 383.5h0M586.6 385h0M640 365.6h0"/>
<path d="M556.1 395.5h0M580.9 361.1h0M529.5 376.4h0M639.4 321.3h0M545.1 398h0M544.3 349.1h0M575.6 356.4h0M624.8 338h0M534.8 374.1h0M636.1 330.5h0M579 398.3h0M564.3 344.1h0M526.2 377.6h0M624.2 345.8h0M587 341.9h0M633.8 312.6h0M613.6 342.8h0M626.6 342.7h0M619.1 342.6h0M563.6 379h0M612.9 361.8h0M626.2 330.3h0M613.7 353.4h0M544.7 385.6h0M633.6 341.8h0M581 337.2h0M597.7 346.6h0M576.9 392.1h0M607.6 368.6h0M655.2 317.5h0M561.6 344.5h0M563.5 368.8h0M608 359.1h0M583.3 372.8h0M536.7 363.3h0M590.4 378.2h0M588.7 373.7h0M631.8 320.6h0M605.9 353.2h0M547 361h0M592.3 387.2h0M562 359.2h0M543.2 359.3h0M612.8 346.7h0M569.4 350.8h0M587 332.3h0M613.5 361.3h0M565.8 364.5h0M623.2 338.4h0M614.7 341.5h0M567.8 371.7h0M580.8 360.3h0M605.9 352.7h0M539 346.2h0M634.2 334.1h0M594.1 363h0M537.6 344.9h0M590.2 358.1h0M524.1 351.9h0M552.7 330.1h0M630.2 319.7h0M557.9 378.3h0M527.4 398.6h0M622.7 359.3h0M548.5 354.9h0M587 379.3h0M616.7 343.2h0M555.9 386.2h0M605.9 353.1h0M573.4 364.6h0M613.4 338.1h0M628.5 330.1h0M592 400.1h0M539.6 346.5h0M552.9 358.5h0M587 354.4h0M560.5 400.4h0M581.3 330.1h0M588.9 359.2h0M540.8 360.8h0M600 330.6h0M632.5 362.7h0M544.4 389.6h0M630.5 328.4h0M577.4 401.6h0M567.3 370h0M556.3 340.2h0M624.7 346.1h0M629.9 359.3h0M621.3 330.6h0M599.7 362.9h0M569.6 380.4h0M569.5 366.3h0M565.9 377.6h0M592.3 348.3h0M568 342.1h0M578.9 318.3h0M595.9 353.4h0M538.9 395.8h0M544.7 377.9h0M595.7 356.7h0M542.7 365h0M573.7 352.3h0M581.3 394.3h0M617.3 354.1h0M599.9 353.9h0M548.8 383.1h0M607.5 366.7h0M596.2 351.8h0M571.6 370.4h0M573.4 375.1h0M601.7 385.2h0M576.7 376.3h0M575 340.6h0M607.8 349.2h0M628.3 370.1h0M554.3 350.9h0M554.2 358.3h0M556.1 378.8h0M646 324.7h0M582.4 359.6h0M533.7 351.8h0M643.7 302.6h0M598.2 316.9h0M607.2 356.7h0M588.5 358.3h0M540.7 328.5h0M641.8 332.1h0M567.8 363.5h0M558.4 401.3h0M619.3 340.4h0M550.9 408.3h0M577.5 379.3h0M569.8 372.8h0M628.8 350.4h0M577.5 365.9h0M590.7 339.6h0M596 352.8h0M527.4 397.5h0M550.9 366.7h0M607.8 356.6h0M603.3 348h0M615.4 357.2h0M573.4 344h0M607.3 352.8h0M588.3 338.5h0M597.6 326.8h0M628.4 366.5h0M609.6 352.5h0M567.2 327h0M605.6 368.1h0M618.8 348.3h0M599.9 348.4h0M582.4 381.6h0M603.8 343.8h0M609.4 354.9h0M600.3 348.9h0M628.4 314.5h0M619 353h0M623.1 320.3h0M632.6 326h0M499 444.5h0M495.7 451.4h0M498.6 438.1h0M500.3 451.2h0M496.9 434.9h0M499.6 443.3h0M499.9 439.4h0M497.7 439.7h0M500.1 444h0M497.7 438.7h0M498.9 446.1h0M500.1 446.6h0M498.8 441.5h0M495.8 388.6h0M502.9 439.8h0M529.6 434.3h0M544.5 390.9h0M505.2 381.7h0M531 435.3h0M510.3 427.4h0M537 418.3h0M504.6 415.1h0M504.9 449.2h0M519.9 410.8h0M499.3 405.1h0M527.5 435h0M525.6 445.4h0M512.1 435.3h0M536.8 375.3h0M514.4 422.3h0M510.7 424.1h0M504.8 321.4h0M506.3 322.8h0M496 365.3h0M497.1 419.4h0M602.2 448.7h0M640 450.9h0M595.8 390.4h0M637.7 427.9h0M605.1 369.7h0M567.2 392.4h0M635.9 355.6h0M562 409.3h0M611.2 371.9h0M632 364.1h0M628.3 385.4h0M590.4 392.5h0M579 386.2h0M578.7 390.7h0M617.5 364.5h0M634.3 362.3h0M594.4 377.1h0M555.9 403.1h0M575.1 361.2h0"/>
<path d="M535.4 385.4h0M595.9 373.8h0M655.2 311.4h0M633.7 355h0M575 349.4h0M609.2 329.4h0M580.6 356.6h0M569.8 321.7h0M650.7 310.1h0M566.2 391.4h0M550.4 383.9h0M569.5 379.5h0M580.6 356.8h0M635.9 340.2h0M567.3 330.6h0M584.6 373.8h0M638.1 354.9h0M556.6 363.9h0M586.8 369.1h0M560.3 374.6h0M618.6 330.1h0M552.1 392.6h0M575.1 351.6h0M620.7 334.5h0M544.6 387.4h0M641.9 335.8h0M605.6 347.9h0M628.2 312.6h0M564.2 383.6h0M628.2 338.9h0M607.3 348.4h0M523.5 386.7h0M573.6 364.8h0M575.2 350h0M586.6 315.1h0M614.8 350.9h0M598.4 342.9h0M638.2 317.5h0M622.5 345.4h0M583 367.5h0M565.9 379.1h0M610.9 348.8h0M544.9 363.7h0M607.6 330h0M531.6 373h0M559.9 367.3h0M603.9 345.5h0M565.4 337.2h0M567.6 347.8h0M611.3 352.8h0M546.3 399.2h0M556 351.2h0M541.3 372.2h0M645.8 316.5h0M600.3 373.7h0M525.7 374.9h0M603.7 358.6h0M590.3 337.3h0M540.7 354.4h0M541.3 363h0M618.6 334.8h0M537.1 378.5h0M584.7 365.3h0M630.3 316.3h0M536.8 385.6h0M618.5 332h0M569.6 345h0M563.7 378.7h0M565.9 389.9h0M586.2 381.2h0M535.3 372.6h0M525.4 402.6h0M525.4 407.5h0M651.2 299.5h0M560.5 362.3h0M618.9 330.3h0M628.3 329.4h0M546.8 347.7h0M586.9 366h0M598.2 361.8h0M549 386.9h0M544.8 387.1h0M548.9 346.9h0M618.9 335.1h0M573.5 358.8h0M543 395.8h0M578.5 360.5h0M601.8 326.3h0M622.7 318.5h0M626.7 309.3h0M546.6 338.9h0M547.2 379.1h0M552.8 352.4h0M552.2 364.8h0M630.6 342.8h0M647.8 317.6h0M618.6 351.5h0M626.1 355.4h0M628.1 317.8h0M622.7 330.8h0M609.7 349.6h0M618.9 336.8h0M540.9 391.2h0M621.2 326.1h0M555.9 364.2h0M622.9 330.3h0M584.6 358.3h0M539.2 411.2h0M580.7 339.8h0M533.1 348.7h0M537.2 380.4h0M613.3 339.6h0M573.2 343.6h0M539 367.3h0M659.1 327.9h0M599.7 380.7h0M620.9 324.7h0M561.6 361.8h0M603.6 338.4h0M590.2 386.8h0M523.7 371.5h0M601.6 355h0M626.9 367.5h0M565.5 362.1h0M537.4 387.8h0M535.3 393.1h0M548.8 370.4h0M559.8 367.1h0M580.8 373.4h0M575 379.7h0M632.2 299.2h0M597.6 353h0M622.7 363h0M539.3 385.6h0M607.9 348.1h0M548.4 385.7h0M611.5 375.9h0M662.7 322.4h0M590.3 369.9h0M581 330.5h0M575.5 353.8h0M591.9 357.3h0M611.3 342h0M597.6 358.3h0M571.1 332.1h0M611.5 342.1h0M611.4 360.5h0M630.1 335.1h0M611 348h0M596.1 350.2h0M602.3 353.6h0M579.1 361.7h0M599.6 360.1h0M567.7 351.7h0M602 358.4h0M614.9 329.4h0M635.9 304.2h0M630.2 325h0M602.3 341.7h0M624.8 333.5h0M615.4 318.2h0M502.9 438.9h0M498.5 448.8h0M497.1 439.4h0M498.7 439.9h0M496.2 440.2h0M496.6 449.1h0M494.3 438.3h0M495.8 436.9h0M497.7 447h0M497.9 436.3h0M499.3 437.7h0M496.5 441.3h0M498.3 443.8h0M495.5 377.4h0M533.7 383.2h0M503.2 368.1h0M504.5 447.6h0M512.8 441.2h0M502.7 361.3h0M516.2 451h0M499.3 421.7h0M510.6 402.2h0M505.2 369.3h0M516.5 446.5h0M499.4 445.7h0M544.4 448.8h0M547.1 449h0M529.7 376.6h0M499.5 382.8h0M499.5 359.6h0M550.5 411.8h0M514.3 311.5h0M521.7 321.3h0M495 424.4h0M495 422.3h0M655.4 449.8h0M655.4 421.8h0M628.4 395.9h0M626.5 407.2h0M605.3 374.5h0M622.3 377h0M632 354.9h0M593.7 370.2h0M636.1 350.4h0M624.1 347.7h0M592.7 416.2h0M596.3 375.4h0M552.3 396.2h0M556.6 385.6h0M614.7 373.6h0M564 395.2h0M556.2 413.2h0M582.9 398.3h0M591.9 365.6h0"/>
<path d="M542.9 354.7h0M564 380.1h0M572.9 353.3h0M630.7 317.3h0M606.1 343.2h0M575.3 366.3h0M588.2 354.1h0M545.2 383.9h0M535.2 373.9h0M565.8 370.1h0M569.2 390.5h0M581.2 370.7h0M622.5 328.8h0M618.5 331.2h0M584.7 385.4h0M599.8 346.8h0M632.4 340h0M564 379.4h0M562.1 366.1h0M559.8 363.4h0M602.2 359.6h0M637.7 314.2h0M556.6 361.1h0M545.2 378.4h0M596.3 340.1h0M554.4 379.3h0M592.4 347.9h0M630.7 343.1h0M550.9 362h0M602.2 326.2h0M586.2 375.4h0M578.6 342.5h0M569.3 345h0M575.2 372.4h0M604 350.7h0M617.1 344.7h0M630 347.3h0M618.9 343.6h0M545 388.8h0M528.1 356.7h0M614.8 361.2h0M628.5 349.6h0M565.3 333.7h0M541.3 381.3h0M612.9 324.6h0M643.7 330.5h0M545.2 385.8h0M630.7 323.2h0M546.7 372.3h0M550.8 358.1h0M632.2 322.3h0M573 374h0M580.9 350.8h0M561.8 387.5h0M622.4 343.1h0M535.1 384.4h0M621 316.1h0M577 366.9h0M537.5 377.6h0M557.7 352.4h0M545 398.3h0M554.5 350.6h0M605.9 326.7h0M534.9 374.1h0M558.2 374h0M584.4 372.9h0M631.9 352.5h0M590.8 371.2h0M581 375.8h0M560 357.8h0M599.5 355.7h0M632.1 341.7h0M552.4 376.3h0M615.5 347.8h0M540.9 366.8h0M556.3 380.1h0M632.5 310.9h0M590.7 382.9h0M573.3 342.6h0M576.7 389h0M550.3 384.9h0M544.9 353h0M579.1 372h0M538.7 351.7h0M600.2 321.8h0M624.5 350h0M605.4 333.4h0M621.2 345.6h0M635.5 329.2h0M607.8 339.3h0M543.1 382.1h0M531.4 356.7h0M548.1 369.9h0M533.4 366.1h0M541.3 350.6h0M613.5 336.9h0M541.5 360.6h0M544.7 389.3h0M628.2 340.4h0M617.3 347.8h0M594.3 337.2h0M619.4 341.5h0M554.3 374h0M618.9 364.8h0M632.1 356.7h0M590.8 356.7h0M539.3 386.7h0M643.7 343.6h0M611.4 343.3h0M583 372.7h0M536.7 351.1h0M658.6 333.8h0M586.5 390h0M615.3 366.6h0M543.1 383.4h0M531.9 345.8h0M628.8 349.8h0M602 350.5h0M573.2 354.8h0M571.7 375.1h0M561.5 372h0M541 374.5h0M647.4 332h0M531.5 399.1h0M528 386.6h0M575.1 337.5h0M567.6 393.8h0M603.9 342.5h0M535 395.3h0M596.3 357.1h0M537.1 384h0M637.4 325.9h0M593.7 352h0M542.7 384h0M529.2 357.4h0M632.6 324.2h0M557.8 371.2h0M542.8 388.4h0M540.9 354.4h0M533.3 379.6h0M621.2 360.5h0M630.7 367.7h0M615.3 367.9h0M630.1 350.3h0M601.6 341h0M599.7 365.2h0M582.6 347.5h0M603.7 343.1h0M592.4 344.4h0M573.3 353.7h0M588.2 355.3h0M612.8 358.4h0M596.2 353.8h0M624.4 330.9h0M628.8 330.2h0M613.2 337h0M600.1 361.1h0M618.6 350.8h0M624.6 333.2h0M631.9 309.6h0M634 320.5h0M499.1 448.4h0M496.3 443.7h0M499.7 443.9h0M496.7 446.9h0M496.5 436.3h0M497.3 448.2h0M497.3 433.7h0M496.4 447.3h0M495.2 450.2h0M494.6 439.9h0M496.1 443.9h0M498.6 443.6h0M495.5 441.9h0M495.8 386.4h0M540.8 447.5h0M503.5 401.3h0M508.5 411.4h0M533.1 446.9h0M531.4 383.3h0M537.1 451.2h0M539 431.4h0M514.5 406.5h0M499 399.7h0M544.4 363.2h0M548.6 402.7h0M520.5 360.8h0M512.6 434.6h0M514.5 404.6h0M533.8 389.6h0M516.3 396.2h0M539.3 417h0M508.4 353.6h0M507.3 334.8h0M495.6 385.4h0M497.1 370.3h0M548.3 433.9h0M551 432h0M622.5 390.6h0M604 426.7h0M596.3 369.3h0M578.8 384.4h0M590.4 370.1h0M636.3 342.8h0M596.4 364.6h0M594.6 375.2h0M620.5 355.9h0M599.8 399.4h0M616.7 362.2h0M609.1 370.8h0M588.7 357.8h0M624.8 383.7h0M560 398.2h0M560.2 385.8h0M621 374.1h0"/>
<path d="M553.9 373.4h0M550.4 384.1h0M593.9 355.3h0M569.3 339.7h0M607.6 343.8h0M626.2 336.3h0M581 394.4h0M567.6 356.1h0M611.1 336.7h0M591.9 380.1h0M546.7 342.3h0M550.8 367.1h0M643.5 363.9h0M596.4 394.2h0M622.8 312h0M569.1 346.9h0M626.9 331.6h0M620.8 347h0M605.2 383.5h0M540.7 363.3h0M542.7 382.9h0M599.9 347.8h0M584.9 351.4h0M609.1 320h0M588.3 348.7h0M543.3 366.7h0M567.6 352h0M597.9 348.3h0M556.1 364.6h0M612.9 361.5h0M593.8 339.6h0M558.3 357.6h0M614.8 354.4h0M615.2 363.1h0M628.6 334.7h0M537.1 375.7h0M539 355.2h0M533.8 370.3h0M602.1 355.9h0M538.7 390.4h0M542.9 378.8h0M634.2 346.7h0M579.3 379.1h0M539.6 355h0M633.9 317.1h0M536.8 386.8h0M533 352.3h0M559.7 354.9h0M558 332.3h0M616.8 367.8h0M558.1 371.8h0M591.8 336h0M588.7 360.4h0M540.7 386.1h0M584.6 374.9h0M560.4 366.5h0M613 385.4h0M611.3 328.6h0M621 338.1h0M537.6 352.7h0M590.8 354h0M576.7 375.4h0M622.6 316.5h0M535.4 374.4h0M594.1 343.9h0M542.9 369.9h0M582.9 325.9h0M560.2 362.5h0M601.5 343.2h0M618.5 312.6h0M555.9 343.2h0M607 358.7h0M544.6 348.9h0M621.2 334.3h0M603.8 325.8h0M557.6 356.9h0M565.6 372.4h0M569 383h0M564.3 351.9h0M594.4 347.6h0M598.2 343.2h0M569.9 374.9h0M573.7 352.3h0M535.2 380.3h0M585 373.9h0M541.2 384.3h0M552.6 371.4h0M555.8 373.4h0M548.8 394.6h0M547.2 373.4h0M630.5 363.4h0M594.3 328.4h0M533.4 374.1h0M542.9 392.9h0M626.9 335.4h0M542.5 398.6h0M527.6 396.4h0M569.9 335.5h0M584.2 370.2h0M563.4 358.6h0M605.8 343.2h0M641.4 328.1h0M556.6 369.3h0M556.4 358.5h0M613.1 342.8h0M629.9 361.4h0M543 377.3h0M569.7 331.3h0M583 384.4h0M609.7 322.1h0M599.8 355.3h0M579.4 360.1h0M563.6 362h0M622.5 366.8h0M546.3 350.5h0M596.4 354.1h0M628 330h0M592.5 366.1h0M624.4 342.4h0M582.9 362.4h0M545.3 377h0M571.5 360.9h0M593.8 386.8h0M592.4 353.8h0M623.1 314.3h0M607.5 357.7h0M624.2 327.6h0M531.8 363.2h0M592.2 344.6h0M573.6 356.6h0M615.1 333h0M550.9 380.4h0M564 373.6h0M594.5 335.2h0M596 346.7h0M581 401.9h0M548.2 367.3h0M622.3 323.1h0M575.4 380.9h0M569.1 367.7h0M576.7 349.1h0M592.2 360.5h0M620.5 334.5h0M637.7 349.9h0M600.2 348.4h0M605.2 347.7h0M616.6 351.3h0M605.5 354.5h0M605.4 367.2h0M601.7 334.3h0M611.3 369.4h0M609.8 339.4h0M611.6 356.7h0M609.2 357.9h0M600.2 357.3h0M602.1 349.7h0M640.1 315.5h0M643.9 308.3h0M633.9 337.9h0M617.3 346.8h0M622.3 315.1h0M494.4 447.2h0M499.8 448.8h0M495.1 439.8h0M497.7 439.1h0M500.3 430.3h0M497.2 450.4h0M499.4 436.9h0M499.6 441h0M497.8 440.7h0M502.2 445.4h0M499 444.5h0M498.8 446.6h0M499.1 442h0M495.7 347h0M550.1 358h0M499.3 439.4h0M499 395.5h0M499.1 449.8h0M514 421.6h0M499.3 446.8h0M501.5 419.2h0M550.4 407.3h0M510.4 369.3h0M516.2 359.9h0M502.5 385h0M550.9 441h0M499.1 379.9h0M507.3 376.4h0M526.1 451.2h0M524.2 373.3h0M548.4 406.7h0M501.3 359.5h0M519.9 350.3h0M497.1 371h0M496.5 400.4h0M585.1 423.7h0M649.3 422.3h0M647.7 408.3h0M565.4 407.3h0M612.8 362h0M566.1 379.5h0M637.8 349.1h0M598.4 383.6h0M637.7 355h0M607.5 349.8h0M642 347.7h0M601.4 375.9h0M603.4 379h0M571.3 389.3h0M588.6 380.7h0M555.8 383h0M597.6 370.8h0M565.4 379.5h0M615 364.5h0"/>
<path d="M636.2 321.9h0M601.4 358.2h0M560.3 369.1h0M565.8 353.3h0M556.6 344.8h0M584.7 378h0M586.5 366.9h0M603.9 334.4h0M590.7 348.8h0M542.6 354.5h0M546.6 366.8h0M565.9 395.5h0M544.6 402.6h0M533.5 339.6h0M626.4 351.9h0M628.2 318.5h0M628.6 335h0M523.7 395h0M582.3 381.1h0M541 386.8h0M620.9 345.6h0M644 336.1h0M542.8 378.4h0M614.9 348.6h0M568 403.7h0M539.2 358.2h0M641.5 319.2h0M550.1 381.8h0M626.7 338.5h0M626.3 320h0M550.8 380.1h0M630 346.5h0M571.8 333.1h0M590 345.6h0M563.9 360h0M562.2 363.6h0M531.9 379h0M603.6 326.1h0M609.1 305.2h0M550.5 378.1h0M613.2 332.9h0M588 393h0M574.9 383.3h0M537.3 346.2h0M605.7 341.9h0M626.1 338.2h0M542.5 388.3h0M601.4 341.4h0M588.9 334.7h0M527.4 353.2h0M607.7 351.6h0M584.3 329.1h0M539.5 355.8h0M623 306.6h0M545 378.8h0M565.3 352.7h0M596.5 381.7h0M581.1 382.4h0M626.5 321.1h0M640.1 323.7h0M605.6 349.5h0M561.6 369.2h0M626.2 340.2h0M619.3 369h0M596.6 357.3h0M568 343.9h0M609.5 328.2h0M587 372h0M605.8 365.4h0M540.6 373.6h0M590.5 350.6h0M554.4 370h0M616.8 314.5h0M594.2 346.8h0M609.7 330.7h0M622.5 358.5h0M628.4 315.6h0M609.9 373.9h0M548.4 359.3h0M582.7 354.9h0M581.1 350.9h0M550.3 360.3h0M607.2 353.8h0M584.6 380.8h0M575.2 375.1h0M538.6 348.8h0M554.5 345.6h0M632.1 330.8h0M634.4 326.2h0M584.3 362.8h0M603.7 359.7h0M609.6 337.4h0M587 351.9h0M607.5 344.4h0M590.6 343.3h0M601.8 354.1h0M590.8 361h0M605.8 353.2h0M603.4 352.6h0M622.3 326.3h0M571.2 358.1h0M535.2 385.5h0M554.7 380.2h0M621 346.2h0M539.4 351.3h0M530 348.8h0M565.8 370.8h0M632.3 321.1h0M613.3 336.4h0M582.7 357.5h0M614.8 337.6h0M618.5 344h0M583.1 384.7h0M531.4 359.3h0M538.6 395.4h0M579.4 372.4h0M533.1 359.6h0M525.6 386.8h0M607.2 337.2h0M539.4 370.4h0M557.8 389.9h0M622.8 340.2h0M613.1 326.1h0M547.1 371.3h0M539.3 337.4h0M601.5 341.4h0M547.1 356.5h0M578.6 358.1h0M586.5 333.7h0M532.9 365.6h0M590 347.6h0M563.8 365.4h0M558.1 362.4h0M541 340.9h0M554.4 371.1h0M579.2 376.5h0M529.6 364h0M594 376.2h0M656.7 335.3h0M586.5 370.9h0M602 377.3h0M605.7 334.9h0M628.3 357.3h0M624.3 343.3h0M617.4 331.9h0M588.7 335.5h0M603.3 332.9h0M613 331.3h0M618.5 328h0M588.7 340.2h0M592.7 334.3h0M645.9 340.2h0M633.7 345h0M596.2 354.2h0M635.8 324.9h0M638.1 325.8h0M634.5 296.9h0M619.3 338.1h0M636.2 316.2h0M622.6 320.4h0M614.7 332.8h0M499.5 440.4h0M496 443.4h0M497.5 443.3h0M496 438.2h0M497.8 440.8h0M500.8 441.4h0M498.6 448.7h0M496.2 440.2h0M497 432.7h0M496.4 439.9h0M496.5 436.8h0M497.9 449.8h0M498.2 435.3h0M495.5 355.7h0M537.1 382h0M499.2 382.6h0M498.9 413.5h0M499.5 403.8h0M514.1 379.8h0M503 383.8h0M521.8 418h0M531.1 408.3h0M503.2 448.4h0M529.6 421h0M514.1 411.8h0M525.6 424.9h0M501.1 366h0M499 374.8h0M519.7 432.4h0M506.9 439.3h0M499.3 368.3h0M524.3 342h0M507.1 322.8h0M495.3 388.8h0M496.1 402.8h0M529.8 433.3h0M569.6 414.6h0M599.7 409.8h0M581.2 391.1h0M588.4 392.1h0M643.8 361.1h0M573.1 404h0M626.9 364.2h0M586.6 386h0M556.5 412h0M594.1 409.7h0M590.1 379.3h0M585.1 382.9h0M611.1 356.2h0M618.8 361.8h0M630.7 362.1h0M613.6 375.5h0M642.1 367.1h0M582.8 373.7h0"/>
<path d="M598.2 356.1h0M563.8 364.5h0M639.5 352.7h0M626.2 322.9h0M569.7 358.5h0M615.2 341.8h0M639.9 338.7h0M565.6 354.9h0M645.2 328.3h0M561.4 359.2h0M556 337.2h0M590.5 370.3h0M567.6 368.6h0M547.1 367.9h0M573.5 392.2h0M592.2 344.8h0M555.9 370.5h0M607.6 348.1h0M628.8 291.9h0M618.8 337.7h0M557.7 369.3h0M596.1 365.2h0M590.8 340.9h0M635.9 316.4h0M538.9 373.1h0M620.4 331.2h0M626.2 306.9h0M582.6 363.7h0M612.9 324h0M559.8 379.8h0M632.2 325.2h0M593.9 339.2h0M601.7 329h0M546.6 329.8h0M603.8 334.5h0M581 364.6h0M583.2 327.4h0M577 380.6h0M609.3 312.4h0M558 367.7h0M582.7 326.7h0M609.3 363h0M630.2 294.8h0M575.4 383.7h0M575.6 382h0M552.5 389.9h0M564 369.1h0M542.6 381.7h0M537.2 372.9h0M537.3 369h0M642.1 320.4h0M535.4 389.8h0M583 374.8h0M566 399.5h0M560 384.6h0M578.7 342.8h0M619.2 326h0M556.1 359.4h0M597.6 350.3h0M584.6 360.5h0M601.7 320.2h0M611.7 352.9h0M571 382.7h0M600 396.2h0M545 351.7h0M630.1 315.4h0M562.2 381.8h0M618.9 328.9h0M527.8 373.3h0M535 327.3h0M611.6 350.5h0M567.5 372.4h0M608.9 347.1h0M616.9 328.6h0M573.3 342.4h0M560.3 364.7h0M630.4 329.6h0M575.1 391.3h0M620.9 366.8h0M620.6 328.9h0M632.6 317.3h0M562.2 333.4h0M548.3 350.5h0M641.5 310.4h0M536.9 375.9h0M609.2 357.9h0M636.4 315.8h0M543.1 396.5h0M569.8 352.6h0M550.2 366.6h0M609.6 324.8h0M533.8 387.4h0M559.6 384.6h0M596.4 354.9h0M567.6 343.5h0M540.6 336.8h0M596.1 341.8h0M533.3 384.6h0M591.9 384.7h0M628.1 347.9h0M628.2 324.9h0M631.8 315.2h0M537.1 393.6h0M565.9 385h0M564 391.7h0M607.2 340.7h0M554.6 364.2h0M619.2 339.4h0M590.4 330.8h0M601.5 354.5h0M597.6 331.6h0M609.6 317.5h0M567.7 378.8h0M569.9 354.6h0M557.6 377.2h0M564.2 360.8h0M622.7 329.1h0M595.8 355.2h0M564 354.5h0M539.5 392.6h0M632.7 330.9h0M611.7 325.3h0M574.8 397.7h0M552.5 389.8h0M562 369.5h0M588.3 366.6h0M544.5 342.7h0M628.3 332.2h0M617.4 359.1h0M533.6 362.5h0M596.1 351.1h0M647 307.5h0M554.1 381.4h0M627 330.8h0M546.5 353.5h0M540.9 365.5h0M542.5 367.8h0M603.3 333.2h0M609.3 340.7h0M605.2 325.6h0M595.7 354.8h0M611 344.9h0M599.6 334.7h0M609.6 335h0M597.8 346.6h0M609.7 346.5h0M624.4 338.2h0M604.1 344.8h0M598.3 350.2h0M630.3 351.8h0M615.3 347.3h0M601.4 353.6h0M599.9 371.9h0M609.4 323.1h0M612.9 300.4h0M609.4 344.7h0M619.4 309.9h0M631.7 307.8h0M645.6 328h0M621.1 337.4h0M643.5 303.6h0M497.7 431.8h0M497.3 439.2h0M497.9 438.1h0M496 442.5h0M498.4 447.4h0M498.3 441.7h0M499 442.3h0M499.4 445.9h0M498.8 440.2h0M499.1 444.5h0M499.3 436.5h0M498.3 450.2h0M498.8 432.3h0M495.9 353.7h0M546.4 356h0M535 448h0M529.6 416.4h0M508.4 450.9h0M504.8 368.3h0M521.6 419.2h0M516.6 448.7h0M503.3 449h0M523.5 371.2h0M512.9 391.2h0M543.3 431.2h0M506.7 450.6h0M499.1 393.1h0M512.5 442.9h0M500.9 406.9h0M514.8 391.1h0M524.2 376.8h0M520.5 324.3h0M512.4 337.1h0M496.2 420.4h0M495.3 406.8h0M622.7 435.5h0M541.1 448.1h0M554.2 403.2h0M628.1 412.3h0M555.8 390.2h0M594.2 384.4h0M573.1 374h0M601.5 375.6h0M596.2 385.1h0M628.8 362h0M586.7 391.4h0M637.8 340.7h0M571.3 408.9h0M643.4 347.7h0M576.8 380h0M567.2 402.5h0M643.4 345.6h0M569.2 394.5h0M563.4 386.2h0"/>
<path d="M622.8 332.4h0M630.1 348.5h0M609.7 346.9h0M542.4 379.9h0M547.1 358.2h0M560.1 354.2h0M562.1 378.4h0M562.4 387.4h0M588.6 349h0M595.8 340.2h0M594.3 354.2h0M577.1 348.7h0M548.4 364.1h0M571 369.9h0M576.8 371.1h0M550.5 374.8h0M573 379.5h0M529.4 397.2h0M543.3 378.2h0M559.7 365.8h0M612.7 356.1h0M576.7 355h0M577 350.9h0M560.2 359.3h0M571.1 381.1h0M536.8 379.1h0M573.7 358h0M629.9 358.2h0M607.3 370.4h0M626.9 313.4h0M632.6 334.3h0M535.4 396.5h0M617.4 323.3h0M550.4 380.5h0M571.5 383.4h0M586.9 352.1h0M537.4 357.1h0M544.9 394.5h0M537.2 389h0M575.2 355.2h0M548.9 374.9h0M617 318.7h0M537.2 363.5h0M621.1 362.6h0M533.1 371.8h0M535.2 365.2h0M580.7 369.7h0M563.8 354.9h0M537.5 353.5h0M533.6 384.3h0M623.2 353.9h0M582.6 351.2h0M622.4 332.1h0M611.2 333.7h0M639.7 312.6h0M602.1 363.5h0M583.3 336.7h0M592.2 331.6h0M554.6 377.9h0M543.2 384.4h0M535.7 361.2h0M640 342.6h0M568.1 345h0M566.2 342.1h0M565.9 362.9h0M552.7 370.2h0M537.6 375.3h0M560 371.5h0M613.2 347.6h0M533.3 372.3h0M615.4 345.9h0M533.6 395.1h0M580.9 366h0M590.5 369.3h0M584.9 371.8h0M632 337.2h0M544.4 349h0M649.2 311.8h0M639.6 305.7h0M535.2 373.6h0M546.6 363.9h0M630.5 334.5h0M539 356.8h0M611.6 354.1h0M552.4 386.9h0M552.3 376.5h0M552.3 378.5h0M537.3 378.4h0M537.2 337.5h0M584.6 335.5h0M626.5 338.5h0M615.1 329.1h0M535.2 367.8h0M550.1 379.6h0M581.2 333.7h0M550.1 344.3h0M611.5 358.4h0M558.4 411.8h0M657.3 306.8h0M537.4 344.5h0M637.6 319h0M582.5 345h0M586.9 343.9h0M618.9 335.1h0M553.9 354.6h0M543.3 361.4h0M552.6 379.2h0M563.5 398.6h0M544.8 394.9h0M630.5 345.1h0M603.7 323.5h0M525.5 392.8h0M556 349.3h0M641.4 310.2h0M558.3 342.4h0M536.9 370.8h0M554.7 382.3h0M624.8 322.7h0M615.2 340.2h0M593.9 359.5h0M643.2 327h0M616.7 329.3h0M569.6 361.5h0M592.4 333.8h0M542.9 372.4h0M600.3 352.9h0M536.9 371.9h0M562.3 380.1h0M573.5 369.7h0M552.4 329.5h0M617.4 361.9h0M584.2 334.6h0M597.7 349.7h0M588.6 352.4h0M631.9 336.8h0M599.5 355.2h0M622.7 327.5h0M590 335.8h0M605.1 368.8h0M546.4 348.3h0M642.1 353.1h0M634.1 366.5h0M597.6 356.8h0M620.6 378h0M588.2 344.6h0M590 347.9h0M619.4 349.9h0M603.7 333.9h0M634.1 349.5h0M616.7 348.3h0M640.2 342.8h0M637.7 359.6h0M611.3 344.9h0M619.2 348.9h0M605.3 350.1h0M616.9 331.7h0M635.9 319h0M607.6 349.6h0M641.3 320.3h0M616.6 326.4h0M603.7 358h0M501.6 443.2h0M499.3 434.5h0M498.6 445.8h0M496.2 430.9h0M496.3 439.5h0M495.1 447.6h0M497.6 440.9h0M499.7 443.6h0M494.5 447.6h0M497.3 444.9h0M496.6 432.2h0M501.6 434.9h0M499 447.8h0M495.7 348.2h0M543 450h0M500.9 416h0M535.1 407h0M501.3 411.1h0M533.1 450.4h0M545.1 399.6h0M512.5 416.2h0M505 415.7h0M499.6 373.5h0M550.7 445.7h0M499.6 439.9h0M500.6 438.5h0M524.1 443.5h0M514.3 448.1h0M548.6 430.5h0M501.2 389.8h0M501.4 432.3h0M506.4 346.4h0M510.9 327h0M495.4 384.4h0M496 399.4h0M550.5 434.4h0M663 425.4h0M575 414.5h0M632.4 389.3h0M577.3 398.3h0M571 397.6h0M554.3 405.2h0M602 396.8h0M558 393h0M602 386.1h0M590.8 363.7h0M611.2 386.9h0M563.3 413.5h0M622.9 362.4h0M553.9 387.9h0M573.1 382h0M636.5 356.8h0M614.7 379.7h0M617.1 363.7h0"/>
<path d="M567.4 365.5h0M615.1 327.1h0M556.3 362.5h0M574.8 367.2h0M582.6 326h0M584.9 358h0M632.5 323.5h0M535.1 366.1h0M535.4 380.7h0M577 367.1h0M630.6 347.9h0M590.8 344.4h0M552.8 357.6h0M619.3 327.4h0M533.9 373h0M580.7 367h0M533.5 373.7h0M576.8 377.3h0M594 374.9h0M637.9 320.8h0M616.7 328.6h0M596.4 331.2h0M579 356h0M596.5 343.5h0M592.7 359.6h0M537.6 356.9h0M621 330h0M618.5 329h0M615.5 353.7h0M554.6 384.4h0M542.5 333.1h0M534.9 345.4h0M548.9 362.5h0M615.5 340.6h0M556.1 363.6h0M620.7 341.1h0M550.7 382.9h0M567.2 363.1h0M623 355.3h0M655.4 311.1h0M533.3 365.3h0M565.8 377.1h0M615.4 321.9h0M541.4 394.6h0M558.3 363.9h0M593.8 363.9h0M564.1 368h0M559.9 338.2h0M576.7 346.8h0M546.9 383.7h0M542.8 392.2h0M554.4 379.2h0M629.9 323.9h0M535 344.8h0M575.3 378.4h0M623.1 335.9h0M632 317.2h0M596.4 359.1h0M559.6 336.4h0M556.1 367.7h0M567.2 378.3h0M525.7 383.7h0M577.4 354.1h0M574.7 379.8h0M592.1 345h0M561.7 371.7h0M647.7 301.7h0M527.8 405.6h0M599.7 356.6h0M626.1 336.6h0M529.8 351.7h0M584.3 329.7h0M568 382.5h0M594 331.7h0M539 396.2h0M609.2 363.7h0M555.9 397.2h0M556 363.4h0M552 356.7h0M607.9 351.9h0M616.7 338.7h0M613.2 375.8h0M569.2 374.6h0M560.2 359.2h0M595.8 338.6h0M533.6 382.2h0M540.9 374h0M617 344.3h0M592.1 363.4h0M541.3 371.9h0M633.8 333.3h0M561.8 365.2h0M631.8 320.8h0M547.1 376.3h0M544.4 360.9h0M603.4 333h0M613.1 328.3h0M585 350.2h0M626.5 340.7h0M594.6 319.6h0M611.1 345.5h0M573.1 375.3h0M622.4 338h0M615.4 315.2h0M542.7 381h0M628 308.4h0M588.8 358.6h0M533.8 373.2h0M639.4 311.3h0M538.9 351.4h0M576.8 347.3h0M611.3 320h0M545.2 399.3h0M630.1 334h0M611.4 322.5h0M525.4 366h0M620.4 334.4h0M598.2 379.4h0M592.2 377.4h0M592.7 396.8h0M577.4 351.1h0M622.9 340.6h0M606 332.3h0M575 345.3h0M579.4 373.5h0M567.3 410.6h0M604.2 371.3h0M578.8 363.8h0M596.2 369.7h0M543.1 368.3h0M574.7 378.9h0M540.8 359.9h0M583.1 378.6h0M535.7 397h0M567.8 330.3h0M550.3 378.7h0M620.9 325.2h0M571.3 367.4h0M619.4 360.9h0M552.8 348.3h0M605.4 351h0M617.2 337.7h0M628.8 347.3h0M604.1 345.4h0M596.4 342.3h0M577.2 352.9h0M631.8 354.9h0M588.3 340.3h0M619.4 354.3h0M624.5 345.3h0M593.9 346.5h0M624.9 366.4h0M611.7 324.6h0M628.1 333.1h0M633.8 303.2h0M643.9 326.2h0M607.7 338.7h0M604.1 360.1h0M641.8 292.9h0M605.5 320.2h0M613.3 352.2h0M494.6 439.1h0M500.5 444h0M497.4 442.6h0M496.9 443.5h0M495.9 440h0M496.9 449.9h0M498.4 447h0M496.6 445.4h0M499 445.7h0M497.2 437.1h0M495.3 442.8h0M500.5 439h0M495.6 372.4h0M495.3 332.7h0M501.2 415.8h0M510.7 411.3h0M521.8 435.3h0M542.6 438.4h0M514.4 362.7h0M499.7 400h0M542.5 363.2h0M525.5 422.8h0M502.7 446.7h0M539.6 364.5h0M502.9 368.1h0M544.8 421.6h0M499.5 422.1h0M499.6 409.1h0M518.2 443.8h0M530 368.6h0M547 435h0M517.8 323.6h0M502.7 304.1h0M495.4 377.3h0M496.8 420h0M533.8 431.6h0M622.3 440.7h0M619.2 393.3h0M633.8 423.2h0M622.7 374.1h0M565.3 420.8h0M612.8 357.7h0M607.1 372.3h0M584.6 380h0M592.5 382.1h0M583 392h0M558.4 407.3h0M571.6 400.2h0M605.3 372.5h0M557.7 375.1h0M615 384.2h0M556.4 401.7h0M607.9 354.7h0M624.3 374.1h0"/>
<path d="M590 379.1h0M598.4 353.6h0M559.9 372.3h0M605.9 376.3h0M628.7 322.8h0M630.1 321.5h0M539.4 378.7h0M596.1 357h0M567.5 393.5h0M582.5 372.3h0M609 321.3h0M565.3 388h0M626.5 346.5h0M562.3 396.6h0M605.2 385.5h0M560 372h0M605.5 334.2h0M578.7 361.6h0M569.1 380.2h0M527.7 390.7h0M539 354.5h0M554.2 325.5h0M544.8 385.8h0M544.4 336.7h0M540.9 353.4h0M590.8 341.4h0M590.9 321h0M537.3 382.5h0M590.2 340.1h0M533.2 413.9h0M613.5 376.6h0M561.8 343.3h0M614.7 336.9h0M602.2 353.1h0M593.8 368h0M628.3 323.4h0M529.2 362.5h0M597.8 354.1h0M541.2 371h0M550.5 354.8h0M590.1 360.9h0M600.3 346.8h0M533.6 345h0M580.9 350.6h0M603.3 326.1h0M590.9 366.9h0M526.1 367.9h0M558.2 373.5h0M569.3 358.4h0M618.5 337.2h0M556.3 372.2h0M607.1 325.8h0M528 367.8h0M586.9 368.6h0M628 339.4h0M529.3 374.3h0M611.6 343.1h0M596.3 365.9h0M610.9 367.6h0M615.1 349.3h0M612.9 345h0M542.8 363.2h0M545 377.2h0M560.3 366.8h0M538.7 377.7h0M624.9 305.4h0M529.8 406.5h0M537.2 348.9h0M594 382.3h0M597.5 371.7h0M577.3 342.3h0M592.3 348.4h0M571.2 351.6h0M565.9 350h0M622.3 350.5h0M620.9 329h0M561.8 333.5h0M566.2 366.4h0M529.9 360.5h0M613.1 339.6h0M525.4 408.4h0M567.1 372.9h0M615.3 345.1h0M557.7 345.8h0M584.6 381.2h0M596 337.6h0M596.1 301.9h0M596.2 335.6h0M533 377h0M531.9 354.4h0M595.7 361h0M595.8 368.6h0M577.1 359.9h0M604 329.5h0M590.8 371.4h0M550.7 350.6h0M624.2 328.9h0M531.3 401.8h0M615.2 347.2h0M628.5 333.4h0M567.5 347.5h0M602 331.5h0M560.2 364.1h0M575.6 359.7h0M541.2 372.9h0M533.3 375.7h0M590.7 355.4h0M586.6 358.6h0M557.7 367.4h0M554.5 364.3h0M556.2 365h0M558.2 382.6h0M571.8 376.3h0M596.1 360.5h0M601.7 373.4h0M645.1 297.9h0M613.3 358.1h0M611.7 374.1h0M649.8 314.4h0M610.9 354.4h0M588.9 348.7h0M541.1 368.4h0M613 310.6h0M550.2 403.8h0M539.5 392.6h0M542.9 376.3h0M630.1 323.2h0M575.7 358h0M564 365.3h0M550.3 338h0M575.5 319.3h0M601.5 326.9h0M587 353.1h0M578.8 340.6h0M592.5 322.9h0M561.7 378.3h0M614.8 351.7h0M554.3 359.9h0M599.6 334.9h0M568 346.5h0M635.9 357.8h0M576.8 338.7h0M618.8 340h0M613 326.5h0M588.8 319.4h0M592.7 341h0M588.9 367h0M615.2 363h0M575.3 327.7h0M607.4 355.8h0M611.3 351.2h0M575.1 360.2h0M628.7 342.7h0M611.7 316.7h0M628.9 315.5h0M633.9 309.9h0M603.4 341h0M628.5 314.4h0M601.6 342.4h0M620.9 322.5h0M619.1 334.6h0M498.3 441.8h0M499.3 437.1h0M495.5 444h0M496.3 448.7h0M497.6 448.6h0M496.3 433h0M497.6 450.3h0M499.4 436.3h0M495.3 444.6h0M498.3 444.3h0M495.5 441.7h0M496.3 436h0M495.8 336.9h0M495.1 407.8h0M529.9 448.4h0M514 423.4h0M550.5 363.2h0M499.1 394.8h0M502.7 385h0M522.5 416.9h0M498.8 420.3h0M512.9 449.8h0M522.1 444.4h0M524.3 365.1h0M514.3 408.5h0M540.9 421.2h0M521.7 360.3h0M516.8 445.1h0M547 449.7h0M502.6 406h0M506.7 444.5h0M497.7 306.6h0M505.3 325.8h0M495.7 382.5h0M496.5 373.7h0M580.8 420h0M544.9 433h0M559.8 392.7h0M636.3 408.5h0M586.4 391.9h0M616.7 384h0M577.5 392h0M630.1 364.4h0M573 388h0M577.5 379.3h0M559.9 391.2h0M637.7 360h0M564.1 391.7h0M615.1 358.3h0M605.4 371.1h0M590.3 387.3h0M639.5 359.6h0M641.3 362.1h0M567.5 402h0"/>
<path d="M588.6 359.5h0M536.8 412h0M586.3 379.3h0M570.9 367.3h0M571.2 383h0M606 363.7h0M622.4 353.3h0M619.2 357.8h0M607.7 343.3h0M618.8 364.6h0M617.4 357.1h0M547.1 376.4h0M554.7 390.5h0M552.5 364.9h0M573.1 375.4h0M622.3 323h0M590.7 343.8h0M549 355.2h0M558 351h0M621.2 353.6h0M635.7 308.5h0M584.7 387.7h0M581.2 397.7h0M537.2 353.3h0M613.4 321.8h0M620.5 365.4h0M602.3 327.3h0M523.7 372.8h0M565.9 379.7h0M659.1 338.9h0M644.1 337.1h0M553.9 402.8h0M627.9 316.6h0M537.3 378.3h0M563.9 365.4h0M540.8 371.6h0M546.8 350.8h0M577.2 341.8h0M626.4 311.1h0M588.6 351.2h0M577.4 337.1h0M611.7 337.9h0M584.9 380.8h0M592 320.7h0M620.4 357h0M583 351.3h0M548.5 358.8h0M640 338.3h0M552.6 357.8h0M542.9 369.9h0M529.7 365.6h0M549 361.6h0M538.7 391.1h0M651.3 323.1h0M605.7 361.5h0M525.7 356.4h0M578.8 334.4h0M607.3 368.5h0M577.1 356.5h0M542.8 369.5h0M574.8 343.4h0M557.7 379.9h0M592.6 362.4h0M597.6 353.4h0M577.5 358h0M609.2 346.6h0M595.6 354.8h0M545.2 398.2h0M569.6 361.5h0M538.7 344.6h0M649.6 333.2h0M593.9 329.5h0M536.9 394.8h0M620.5 353.1h0M569 364.3h0M634.3 334.1h0M633.9 339.8h0M574.7 354.2h0M583 353.8h0M561.5 373.5h0M560 352.2h0M593.8 368.6h0M594.2 374.5h0M573.2 395.9h0M529.5 378.3h0M622.7 330h0M563.4 359.4h0M545.2 369.4h0M622.8 352.3h0M588.9 329.7h0M536.9 371.1h0M548.4 347h0M531.4 362.4h0M581.2 361h0M566.1 370.1h0M598.5 368.3h0M540.7 410.5h0M630.4 337.4h0M579.2 407.1h0M554.7 364.2h0M585.1 405.7h0M567.4 397.1h0M548.7 360.7h0M599.4 326.9h0M561.6 371.9h0M617 323.1h0M629.9 294.2h0M562.3 383.8h0M596.4 361.5h0M560.3 352.6h0M563.8 342.7h0M543.2 377.9h0M563.9 382.5h0M523.5 399h0M642.2 316.3h0M554 350.4h0M620.8 328.7h0M524 367.9h0M550.7 415.4h0M620.5 343.2h0M630.4 334.6h0M632.7 357.8h0M577.4 355h0M601.7 371.3h0M639.9 315.5h0M571.2 373.9h0M556.4 380.1h0M630 304.4h0M531.6 389.7h0M598 349h0M618.5 336.9h0M557.6 346.1h0M573.5 363.7h0M581.1 350.9h0M632.5 340.5h0M545.2 372.6h0M567.9 383.8h0M632.4 338h0M554.3 358.8h0M577.4 363.1h0M624.8 360.7h0M609.4 354.1h0M583.2 344h0M600.1 362.3h0M612.9 349.7h0M628.5 344.1h0M592 344.1h0M639.3 337.1h0M588.8 328.6h0M597.8 358.4h0M626.1 355.7h0M598.3 357.1h0M601.4 329.5h0M616.7 317.5h0M622.5 329.6h0M639.7 310h0M645.4 308.1h0M643.7 298.9h0M608.9 327.5h0M639.4 302.9h0M642.1 292.2h0M495.1 436.3h0M500.7 439.3h0M496.8 449.3h0M496.2 439h0M497.7 445.3h0M497.2 436.9h0M498 437.1h0M497.3 443.9h0M497.4 446.9h0M496.9 447.5h0M499.1 436.1h0M497.9 441.1h0M495.9 385.2h0M496 410.3h0M504.5 450.1h0M503 388.8h0M526.2 372.9h0M546.7 417.5h0M531.6 448.8h0M525.9 414.9h0M516.2 363.6h0M548.8 369h0M550.8 393.4h0M535 446.2h0M521.9 411h0M510.5 403.5h0M523.9 387.3h0M535.7 414.8h0M501 387.6h0M524 373h0M498.8 426.5h0M497.2 319.1h0M497.7 306.2h0M496.9 367.8h0M494.8 422.1h0M634.2 448.9h0M617.4 438.7h0M641.7 390.1h0M603.4 392h0M581.1 383.1h0M588.1 384.2h0M609.3 373.4h0M607.3 367.5h0M630.3 351h0M571.6 395.1h0M566 403.4h0M637.8 370.8h0M588.4 387.9h0M573.1 380.9h0M621.3 350.1h0M598.3 381.6h0M626.7 375.8h0M573.1 389.6h0M567.9 388.4h0"/>
<path d="M554.6 390.2h0M542.5 375.6h0M556 372.5h0M558.3 365.6h0M605.8 360.3h0M567.3 353h0M580.9 365.5h0M546.6 369.3h0M618.6 330.6h0M577.4 385.8h0M531.5 375.7h0M603.9 333h0M545.1 367.3h0M624.8 371.4h0M567.1 374.5h0M607.8 364.6h0M645.3 329.2h0M611.5 342.7h0M548.5 369.5h0M577.1 357h0M595.8 327.3h0M597.8 314.8h0M549.1 376.5h0M592.2 366.4h0M571.6 375.6h0M605.3 325.2h0M554.4 369.4h0M584.2 401.2h0M622.4 315.7h0M549 389.2h0M575.3 373.6h0M601.4 359.8h0M566.1 356.5h0M613.4 363h0M527.7 364.7h0M644.1 331.6h0M632.1 317.8h0M537.2 353.7h0M630.8 321.5h0M617 341.7h0M670.1 313.1h0M584.7 341.2h0M582.6 355.2h0M588.1 357.8h0M586.6 348.6h0M542.5 379.9h0M588 362.5h0M626.4 336.2h0M550.2 343.1h0M630.1 320.6h0M537 380h0M645.1 337.1h0M611.4 341.5h0M617.2 336.9h0M602.1 350.7h0M575.1 359.9h0M618.7 364h0M569.5 352.7h0M538.7 366.7h0M588.9 325.7h0M596.3 353.7h0M597.6 332.1h0M597.9 366.5h0M569.2 368.9h0M567.7 353.8h0M559.6 361.9h0M620.7 340.7h0M539.3 356h0M571.1 368.1h0M602 355.1h0M584.7 338.3h0M615 334.2h0M621 353.2h0M630.8 335.3h0M539.3 361.2h0M621.1 328.7h0M550.7 394.5h0M618.7 366.9h0M599.8 333.2h0M524.1 404.3h0M600.1 335.2h0M641.8 342.4h0M548.2 415.5h0M565.5 378.1h0M535 333.5h0M622.4 338.7h0M647.6 311.4h0M573.5 387.3h0M581.2 349h0M645.8 356.2h0M566 388.2h0M588.2 339.9h0M535.6 425.4h0M590.4 364.4h0M569.3 351.3h0M560.2 340.8h0M547 343h0M575 376h0M573.4 357.3h0M563.8 358.5h0M613.5 349.7h0M556.5 376.6h0M626.4 361.4h0M626.4 345.4h0M533.4 362.8h0M582.8 366.5h0M566.1 382.6h0M588.7 333.5h0M581.1 371.5h0M636.3 341.1h0M607.9 365.8h0M609.1 349.9h0M620.8 341.2h0M561.8 349.3h0M615 328.7h0M622.3 298.7h0M614.9 327h0M548.9 367h0M533.3 371h0M628.6 316h0M543.2 356.1h0M550.5 357.7h0M614.9 326h0M628.8 359.1h0M624.4 352.8h0M580.9 372.2h0M588.2 366.6h0M651.1 326.3h0M560.2 373.3h0M622.8 318.3h0M618.6 369.5h0M614.9 336.5h0M640.3 317.9h0M567.4 372.5h0M554.7 398.4h0M624.8 349.2h0M618.8 343.5h0M544.4 390.6h0M545 339.7h0M583.1 352.7h0M624.6 344.7h0M628.9 337.2h0M599.5 336.8h0M601.5 334.5h0M604 335.7h0M632.2 357.2h0M628.7 341.1h0M641.7 349h0M607.4 345.6h0M613.2 330.8h0M615 348.5h0M594.5 356.6h0M601.5 353.3h0M621.1 339.6h0M643.6 316.8h0M607.5 315.2h0M621.3 320h0M610.8 336.2h0M622.5 330.7h0M619 323.5h0M628 312.2h0M498.3 441.8h0M498.4 445h0M497.1 439.6h0M496.5 440.6h0M497.1 429.3h0M497.3 439.6h0M498.6 446.8h0M499.4 448.4h0M498.8 440.3h0M498.4 440.9h0M495 443.1h0M497.2 440.3h0M495.9 317.1h0M495.1 353.4h0M501.1 388h0M546.4 449.5h0M531.8 445h0M527.8 425.3h0M516.5 397.5h0M531.7 446.2h0M498.9 451.1h0M514.2 365.4h0M550.5 450h0M499.5 386.4h0M499.5 364.2h0M537.2 396.8h0M500.9 365h0M504.5 426.9h0M512.7 450.2h0M507.1 382.1h0M535 403h0M516.6 352.3h0M516.6 357.7h0M496.1 373h0M495.8 414.7h0M654.8 439.9h0M611.2 420.4h0M584.9 400.2h0M554.4 389.2h0M592 374.4h0M592.1 407.7h0M575.2 392.4h0M639.8 366.3h0M607.6 351.8h0M586.6 406.2h0M592.7 387.2h0M624.7 350.8h0M577.2 363.1h0M554.3 399.2h0M552.3 408h0M566.1 398.7h0M552.1 400.8h0M586.2 387.6h0M601.8 401.6h0"/>
<path d="M586.6 375.6h0M580.7 358.9h0M531.4 372.4h0M615.2 319.3h0M535 354.7h0M615.5 350.1h0M607.8 347.2h0M632.3 324.9h0M539.6 379.7h0M558.5 388.8h0M562.2 369.8h0M626.4 311h0M537.4 391.9h0M632.3 344.1h0M563.3 385h0M569.6 380.8h0M588.7 385.3h0M561.7 368.7h0M544.7 386.7h0M601.5 341.3h0M628 323.6h0M586.6 360.9h0M594.6 337.1h0M560.2 377.7h0M620.9 359.1h0M611.3 372.9h0M605.9 347.7h0M537 345.1h0M562.1 370.4h0M609.4 341.5h0M590.8 346.6h0M541.4 386.5h0M548.6 400.3h0M617.5 361.4h0M531.4 413.9h0M544.4 329.2h0M536.8 366.4h0M559.9 346.7h0M590.2 364h0M642.1 330.1h0M639.4 340h0M560.3 367h0M567.5 381.7h0M607.4 311.2h0M607.6 321.2h0M527.5 372.8h0M630.6 326.2h0M583 385.3h0M529.4 361.5h0M560.3 374.3h0M579.2 349.7h0M556.5 360.5h0M539 369.9h0M583 365.8h0M577 349.8h0M624.7 328.4h0M546.5 345h0M622.7 309.1h0M592.3 351.7h0M632.6 338.5h0M559.7 356.2h0M554.4 353.1h0M590.6 331.7h0M600.2 364.3h0M597.8 333.6h0M536.9 381.5h0M612.7 370.7h0M552.1 359.3h0M579.4 362.3h0M613.6 340.9h0M592.7 371.7h0M641.5 312.6h0M595.7 344.4h0M558.2 369.3h0M552.7 353.9h0M577.1 367.3h0M549 374.9h0M573.7 375.1h0M600.2 342.1h0M601.4 380.3h0M594.4 358h0M539.3 357.7h0M651.4 333.9h0M588.1 355.6h0M525.7 331.7h0M526 360.1h0M588.6 344.4h0M565.5 386.1h0M543.1 373h0M617.3 373.7h0M568 358.6h0M603.5 329h0M622.6 339.2h0M535.1 350.3h0M561.7 377.1h0M609.3 354.8h0M592.3 322.3h0M577.2 376.9h0M567.3 379.3h0M545 369.4h0M546.2 382.1h0M582.9 328.2h0M562.1 372h0M569.8 365.6h0M649.3 308.5h0M587.1 382.4h0M525.4 338.4h0M586.8 344.1h0M543 330.6h0M581.1 373.8h0M583.2 358.3h0M552.5 396.1h0M554.1 345h0M567.4 350h0M545 379.3h0M555.9 373.5h0M539.3 363.9h0M621.1 354.9h0M552.6 362.8h0M540.6 409.5h0M599.8 342.7h0M602.1 354h0M560.2 370.7h0M592.5 348.2h0M538.6 378.6h0M626.8 356.2h0M638.1 300.5h0M577 353.9h0M631.9 314.3h0M632.4 331.9h0M630.1 348.4h0M567.7 388.7h0M533.2 375.7h0M630.7 307.6h0M542.6 355.3h0M624.4 355h0M634.2 338.8h0M557.8 369.2h0M565.7 334.2h0M550.6 340h0M619.1 338.7h0M599.8 364.2h0M605.3 339.7h0M612.8 343.4h0M607.6 375h0M596.1 353.7h0M615.4 357.9h0M605.8 347.3h0M618.5 354.3h0M632.4 352.4h0M614.9 335.6h0M611.4 358h0M611.5 343.4h0M606 352.5h0M611.3 330h0M617.4 347.5h0M623.1 326.8h0M613.4 348.7h0M607.4 355.9h0M624.2 330h0M603.7 336.3h0M496.3 449.2h0M498.8 435.4h0M499.8 448.6h0M498.2 446.4h0M497.1 446.8h0M497.3 442.3h0M495.5 437.7h0M498.2 437h0M496.6 437h0M499.4 440h0M499.9 438.7h0M496.7 440.9h0M495.4 319.6h0M495.7 364.3h0M499.4 405.6h0M503.4 364.9h0M533.3 371.1h0M516.1 445h0M510.5 402.2h0M518.1 392.7h0M525.6 393.4h0M502.6 399.7h0M508.9 392.5h0M502.9 447h0M529.7 447.4h0M510.3 356h0M503.3 443.4h0M501.1 363.5h0M537.3 363.7h0M536.8 434.3h0M523.8 417.1h0M529.2 313.1h0M523.6 356.5h0M495.1 420.7h0M496.5 392.5h0M538.7 424.7h0M649.1 450.4h0M639.6 411.8h0M603.5 395.3h0M617 355.9h0M605.3 374.1h0M561.5 386.9h0M575.6 392.1h0M621.2 361.6h0M603.5 385.1h0M638.3 353.7h0M610.9 363.5h0M598.4 376.2h0M601.5 363.3h0M588.2 379.4h0M637.9 349h0M624.3 362.1h0M637.8 350h0M623.1 374.7h0"/>
<path d="M535.4 362.5h0M578.8 329.6h0M582.7 350.3h0M546.5 384h0M543 367.3h0M558.4 334.5h0M559.8 340.4h0M563.7 359.4h0M552.7 368.5h0M592.6 381.1h0M531.7 385.8h0M611.3 346.2h0M531.6 384.4h0M625 345.7h0M533.5 379.5h0M605.9 376h0M600.4 368.3h0M575.4 362.1h0M548.8 369.1h0M581.3 363.6h0M628.3 385.9h0M607.9 344.1h0M592.5 377.6h0M547 387h0M597.9 353.7h0M602.1 323h0M594.6 348.5h0M567.7 361.5h0M580.4 335.6h0M600.3 391.6h0M581.3 381.3h0M626.8 332.9h0M537 381.2h0M541.2 356.2h0M533 329.3h0M563.4 373.1h0M529.9 354.7h0M528 361.5h0M566.1 382.7h0M609.2 338.7h0M539.3 388.5h0M575.6 385.9h0M632.1 334.7h0M529.6 324.8h0M607 372h0M633.9 367.5h0M597.7 357.8h0M535 355.5h0M542.7 363.4h0M629.9 340.2h0M533.4 383h0M605.4 337.6h0M603.4 348.1h0M595.8 354.1h0M605.6 352.7h0M564.1 373.5h0M599.7 354.4h0M567.6 376.6h0M594.6 359.3h0M637.7 332.5h0M578.7 370.5h0M540.7 398.2h0M588.8 371.5h0M533.8 384.3h0M546.3 378.7h0M596.5 334.1h0M563.9 349.2h0M586.6 347.4h0M613.4 343.2h0M552.6 364.5h0M613 333.8h0M590.6 351.6h0M577 346.9h0M537.3 383.7h0M592.7 346.7h0M577.1 403.2h0M592.1 373.2h0M620.4 338.3h0M618.5 343.6h0M570 355.9h0M627.9 343.6h0M548.4 394.9h0M649 313.7h0M621 323.7h0M560.4 382.5h0M630.1 314.8h0M558.4 371h0M626.2 336.2h0M603.3 339.8h0M567.4 354.5h0M537.4 361.6h0M546.7 411.7h0M543.2 358.7h0M653.2 288.8h0M583 337.4h0M619.1 349h0M638.1 312.1h0M580.6 366.5h0M533.3 336.4h0M523.6 380.8h0M554.5 375.7h0M548.4 361.5h0M565.5 380.1h0M557.9 376.2h0M562.1 379.5h0M583 388.5h0M535.2 372.1h0M592.3 363.1h0M624.5 330h0M596.1 347.9h0M561.8 337.2h0M610.8 354h0M552.6 377.3h0M609.4 364.4h0M558 372h0M607.1 347.7h0M619.1 347.3h0M592.3 343.5h0M537 394.8h0M535.6 363.8h0M615.1 356.8h0M596.4 346.2h0M571.4 379.2h0M604.1 342.4h0M554.6 371.6h0M627.9 346.6h0M573.4 352h0M586.6 367h0M534.9 364.3h0M544.8 364.8h0M554.4 366.1h0M620.9 357.6h0M600 345h0M590.3 387.1h0M597.7 363.8h0M586.2 367.4h0M559.6 409.8h0M567.4 352h0M596.3 359.3h0M546.7 368.4h0M620.7 339.8h0M594 369h0M590 358.5h0M606 354.4h0M588.6 343.4h0M595.6 356.1h0M605.1 349.2h0M599.4 331.7h0M592.6 362.9h0M622.8 344.2h0M619 351.7h0M634.5 319.5h0M603.8 348.5h0M615.4 340h0M601.8 349.9h0M618.8 315.9h0M622.6 331.6h0M602.1 354.9h0M633.8 319.3h0M613.2 326h0M643.9 320.4h0M497.8 441.6h0M496.8 429.9h0M501.8 444.5h0M497.2 442.9h0M499 445h0M494.2 428.9h0M500.3 438.2h0M501 441.3h0M495.6 449.8h0M500.2 445.1h0M494.7 433.2h0M497.2 439.6h0M496 411.5h0M540.8 384.4h0M510.7 358.2h0M525.8 430.6h0M531.9 447.8h0M512.5 433.8h0M499.2 419.8h0M512.3 370.6h0M506.4 414h0M514.7 402.7h0M499 426.4h0M510.5 391.4h0M502.9 366.2h0M499 388.2h0M521.8 421.5h0M511 402.9h0M503.4 447.9h0M510.5 409.4h0M533.4 357.2h0M512.5 334.6h0M509 320.7h0M496.2 429.5h0M604.1 417.6h0M614.9 431.4h0M624.5 419.7h0M596.2 398.8h0M580.4 404.4h0M635.9 343.4h0M632.4 352.4h0M584.9 402.8h0M575 387.6h0M567.3 388.2h0M559.6 392.5h0M568 389.5h0M615.4 390.6h0M575 389.4h0M556 383.8h0M605.5 355.8h0M611.4 380h0M585.1 408.5h0M583.3 383.9h0M669.4 428.1h0"/>
<path d="M617 307.7h0M632.3 315.2h0M600.3 302.7h0M535.2 392.8h0M615.2 327.8h0M603.7 361.7h0M531.3 370.8h0M615 347.7h0M534.9 338h0M555.8 346.1h0M569.2 370.6h0M584.6 365.9h0M581 370h0M592.4 373.1h0M613 359.1h0M609.8 346.3h0M561.9 373.2h0M567.5 378.6h0M567.6 365.8h0M548.4 381.7h0M626.8 356.8h0M536.9 380.2h0M543.3 354.3h0M607.2 346.1h0M540.6 340.4h0M590.1 346.5h0M533.4 380h0M611.1 314.3h0M598.2 359.5h0M632.5 330.7h0M620.6 327.9h0M603.9 348.7h0M623.1 338.8h0M538.8 346.7h0M611.7 326.7h0M624.2 311.3h0M558.5 345.9h0M624.3 324h0M563.5 399.1h0M560.2 370.5h0M613 347.7h0M602.1 370.5h0M583.2 357.8h0M590.6 359.8h0M567.6 352.9h0M590.5 346.3h0M548.3 358.4h0M592.3 355.4h0M641.7 335.6h0M579 344.2h0M600.3 334.9h0M596.4 355.4h0M561.6 352.6h0M647.2 329.7h0M579.1 359.8h0M526.2 357.8h0M539.2 344.6h0M611.3 335.4h0M540.6 371.7h0M581.2 368.6h0M580.7 345.5h0M613.2 357.5h0M559.8 382.7h0M622.7 319.2h0M645.5 305.6h0M569.8 344.6h0M628 350.8h0M577.1 364.7h0M613.4 345.1h0M537 367.4h0M546.6 344.8h0M573.2 396.1h0M525.9 376.7h0M602 341.3h0M613.3 359.1h0M620.4 333.8h0M592.6 353.2h0M634.2 315.1h0M590 367.3h0M622.4 360.7h0M588.4 373h0M592 388.3h0M531.1 359.7h0M607.3 338.9h0M554.6 382.5h0M537.1 366.8h0M561.9 376h0M575.2 337.5h0M536.9 368.4h0M622.8 343.8h0M624.7 329.8h0M628 320.2h0M618.6 331.4h0M582.5 358.9h0M569.8 347.5h0M561.7 358.6h0M534.9 366.5h0M597.6 390.3h0M597.9 352.5h0M544.5 366.8h0M596.2 355.7h0M626.5 352h0M601.7 339.1h0M603.3 350.4h0M586.2 352.9h0M601.8 348.5h0M603.4 314h0M550.2 390.3h0M625 319.6h0M618.8 332.2h0M567.4 351.1h0M586.2 363.2h0M552.6 362.4h0M571 357.3h0M622.4 346.5h0M565.3 354.4h0M552.5 346.4h0M589.9 337.6h0M634.5 330h0M613.1 333.7h0M626.6 337.4h0M559.8 379.2h0M628.7 308.8h0M567.4 390.2h0M628.2 337.1h0M586.9 317.2h0M558.1 379.8h0M575.4 361.9h0M582.3 357.7h0M586.5 356.5h0M630.5 310.3h0M562 362.2h0M630.8 351.5h0M637.8 305.8h0M580.8 349.5h0M575.1 347.2h0M543.4 360.2h0M614.9 353.6h0M578.6 368.8h0M630.6 333.9h0M612.8 331.9h0M617.1 346.7h0M619.3 379.1h0M571.8 344.8h0M578.9 366h0M617.1 371.8h0M588.5 364.4h0M643.6 352.1h0M611.6 357.6h0M581.3 331.8h0M613.4 358.1h0M582.4 347.6h0M581.2 344.9h0M605.3 353.6h0M600.3 346.6h0M624.6 336.4h0M607.2 337.8h0M611.5 345.3h0M611.5 356.4h0M636.2 307.6h0M634.5 333.6h0M495.9 430.3h0M495 431.1h0M499.3 441.7h0M499.2 440h0M496.8 436.3h0M498.9 449.2h0M500.5 445.6h0M500.3 447h0M497.6 442.2h0M497.1 445.7h0M497 444.3h0M498.3 449.7h0M495.1 322.4h0M508.8 374.6h0M518 445.5h0M509 444.8h0M502.8 442.1h0M501.4 405.5h0M542.5 426.4h0M519.6 370.2h0M501 442.7h0M498.9 396.7h0M550.1 420.2h0M527.8 387h0M501 386.7h0M512.8 442h0M506.6 433.9h0M524.1 383.3h0M524 367.4h0M544.8 436.4h0M529.9 438.5h0M524.3 315h0M531.5 340.1h0M496.4 374.8h0M653.5 448.8h0M617.3 446.8h0M658.3 433.5h0M557.8 407.8h0M584.8 382.4h0M625 358.1h0M602.1 380.2h0M628.7 362.4h0M641.9 339.1h0M563.8 395h0M567.2 397.9h0M640.1 358.6h0M597.8 377.7h0M586.9 365.9h0M624.9 363.4h0M567.4 373.8h0M594.6 379.7h0M584.8 377.5h0M577.2 390.7h0M669.4 448.3h0"/>
<path d="M621.1 351.9h0M629.8 326.6h0M607.9 343.5h0M579.4 361.7h0M533.6 367.8h0M618.9 315.8h0M556.5 383.2h0M620.5 353.2h0M639.5 322.2h0M607.4 331.2h0M620.9 346.1h0M554.4 395.1h0M550.5 352h0M539 375.9h0M540.7 399h0M605.5 345.3h0M613.1 370.9h0M560.2 354.6h0M559.6 389.1h0M573.3 348.7h0M538.9 335.2h0M540.7 367.4h0M628 335.5h0M607.3 346h0M590.5 364.5h0M542.9 324.8h0M613.3 351.5h0M567.1 371.5h0M613.5 354.1h0M605.7 362.8h0M579 346.3h0M641.4 327.4h0M639.6 316.3h0M533.5 356.7h0M565.7 349.7h0M586.6 369.4h0M615.5 343.5h0M586.3 358.5h0M581.2 313.4h0M573.4 363.3h0M607.8 342.2h0M632 337.1h0M588.4 324h0M639.4 320.3h0M553.8 353.4h0M584.8 355h0M539.3 360.9h0M572.8 391.5h0M588.4 366.8h0M545 388.3h0M607.7 358.5h0M618.5 372h0M535 422.7h0M613.1 314.2h0M559.6 369.9h0M602 360.3h0M595.7 374.5h0M621 336.6h0M571.4 352.3h0M533.3 370.2h0M544.9 367.6h0M630.5 336.7h0M536.9 369.6h0M602.1 312.1h0M603.6 338.3h0M571.7 366.1h0M592.6 343h0M582.4 387.4h0M607.1 323.3h0M617.2 336.4h0M580.9 368.4h0M601.9 349.7h0M535.6 375.3h0M541.2 364.8h0M571.2 355.1h0M548.8 359.7h0M556.4 395.6h0M594.3 353.5h0M599.9 336.2h0M637.6 335.7h0M579.1 324.3h0M586.5 332.3h0M571.5 377.8h0M538.8 384.6h0M599.6 369.3h0M583.3 339.4h0M573.7 336h0M567.8 385.8h0M607.2 336.3h0M576.8 377.5h0M548.2 343.7h0M617.1 355.3h0M567.9 377.1h0M542.5 348.9h0M558.6 382.3h0M617.3 318.3h0M600 328h0M561.8 356.9h0M537.2 370.4h0M605.9 364.6h0M594.6 363.4h0M611.1 345.7h0M626.1 352.6h0M558.2 369.6h0M617 356.9h0M618.5 320.1h0M612.9 311h0M548.7 351h0M605.2 315h0M607.3 344.5h0M542.5 386.5h0M586.9 312.6h0M626.9 318h0M605.9 355h0M569.9 376.5h0M615 359.4h0M569.8 364.8h0M556.5 342h0M533.3 357.2h0M566.1 344.6h0M544.8 368.9h0M579.1 371.6h0M626 359.7h0M594.6 361.2h0M632.3 339.8h0M581 363.1h0M525.9 364h0M586.3 382.1h0M533.4 366.5h0M536.7 377.7h0M628.5 324.9h0M626.3 310.9h0M626.6 328.8h0M552.6 377.3h0M589.9 362.3h0M542.8 368.4h0M624.8 343.4h0M544.9 389.7h0M542.5 337h0M552.7 352.3h0M605.5 336.9h0M624.4 341.6h0M614.7 368.7h0M592.6 352.1h0M599.4 360.7h0M576.7 365.3h0M609.2 355.9h0M600.1 332.9h0M592 357.6h0M617 353.2h0M569.3 337.1h0M611 341.6h0M626.3 345.9h0M628.8 312.7h0M639.5 312.3h0M639.4 291.7h0M635.7 319.5h0M628 329.8h0M641.5 292.6h0M634.3 329.8h0M616.9 332.9h0M496.9 439.7h0M497.1 450.7h0M496.8 445.9h0M497.5 448.7h0M496 445.7h0M495.9 432.4h0M496.5 424.5h0M496.9 441h0M498.1 439.9h0M500.9 446.1h0M497.3 438.4h0M498.2 442.5h0M495.2 383.8h0M542.4 412h0M504.5 408.8h0M504.6 400.8h0M531.5 443.5h0M537.5 402.7h0M511 407.5h0M519.8 368.2h0M499 443.7h0M531.3 391.2h0M516.1 425.7h0M502.6 356.2h0M518 399.7h0M543.3 398h0M504.7 394.2h0M518.1 432.3h0M543.2 405.8h0M537.1 434h0M503.3 426.8h0M527.8 315.2h0M512.1 321.4h0M496.1 413.6h0M590.8 427.2h0M609.2 416.2h0M567.6 415.2h0M584.4 392.9h0M560 383.4h0M605.7 370h0M626.3 363.1h0M578.5 405.6h0M554.6 398.9h0M624.5 381.9h0M630.3 370.8h0M624.4 349.1h0M641.8 359.7h0M614.7 386.8h0M563.8 407.8h0M643.6 346.9h0M594.1 390h0M623.1 369.5h0M573 378.3h0M669.4 449.5h0"/>
<path d="M533.1 407h0M552.6 335h0M543.2 396.7h0M546.3 389.5h0M600.2 359h0M560.1 383.2h0M605.4 344.9h0M535.5 392.6h0M609.3 348.2h0M619.1 342.6h0M554.7 389.9h0M562 344.2h0M632.3 336.2h0M590.7 405h0M574.9 369.4h0M586.4 368.8h0M565.8 352.8h0M597.6 322h0M588.5 356.2h0M620.6 347.6h0M619.2 324.3h0M590.4 359.2h0M562.2 339.4h0M564.1 368.2h0M547 362.7h0M577.1 367.9h0M622.5 319.7h0M649.6 327.6h0M563.6 363.9h0M624.9 328.4h0M586.9 347.1h0M581 331.5h0M533.4 358.6h0M536.8 367.6h0M554.3 364.6h0M638.1 326.2h0M586.3 385.2h0M586.8 349.9h0M529.8 349h0M605.7 358.4h0M595.8 343.8h0M533 355.8h0M558.4 380.3h0M611.6 341.5h0M599.8 345.3h0M615.3 308.8h0M598.1 355.1h0M535.7 389.9h0M607.6 354h0M582.9 382h0M626.8 326.7h0M611 329.8h0M594.1 338.1h0M594.5 373.3h0M594.6 347.6h0M575.1 349.9h0M592 376.5h0M558.4 371.6h0M596.1 366.4h0M595.9 321.8h0M584.9 363.8h0M546.6 377.5h0M569.5 376.8h0M579 350.5h0M579.4 361h0M533.5 360.7h0M603.4 343.8h0M592 315.3h0M569.7 358.5h0M535.2 369.1h0M617.4 363.4h0M649.2 313.5h0M562.2 375.6h0M592.8 337.1h0M640 328.2h0M556.2 329.6h0M567.6 367.7h0M542.8 389.2h0M586.7 360.2h0M560.4 366.9h0M567.8 373.5h0M637.9 325.6h0M586.4 384.7h0M597.9 363.7h0M614.8 338.9h0M628.4 335.3h0M582.4 365.2h0M593.8 382h0M537.5 369.4h0M592.4 366.8h0M575.2 370.1h0M543.1 357.4h0M548.6 353.1h0M626.2 313.9h0M588.2 356.4h0M541.2 369.6h0M632.3 341.8h0M558.6 350.4h0M596.3 375.5h0M584.4 379.9h0M533.8 389h0M559.6 370.5h0M624.2 320.9h0M584.4 385.5h0M607.9 360.5h0M539.4 382.2h0M613.3 329.6h0M529.6 384.2h0M548.8 388.9h0M527.4 337.1h0M537.4 397.9h0M527.4 366.6h0M582.8 366.8h0M586.4 393.9h0M548.2 402.7h0M613.5 347.8h0M576.7 370.2h0M541 351.7h0M647.5 333.2h0M549 354.2h0M564 363.3h0M554.4 339.2h0M594.5 357.8h0M542.6 372.2h0M584.6 358.6h0M537.1 400.3h0M582.5 343.3h0M622.9 330.3h0M556.4 360.7h0M541.5 386.7h0M573.4 365.1h0M624.5 323.8h0M613.1 357h0M563.7 357.7h0M594.6 359.2h0M615 338.5h0M544.7 381.3h0M598.3 335.2h0M558.1 367.7h0M548.9 351.5h0M607.7 328.5h0M628.8 348.8h0M598.4 358h0M605.6 344.4h0M624.4 333.3h0M613.7 341.2h0M595.8 343h0M611.2 364.4h0M615.5 351.1h0M590.4 334.3h0M582.8 349.8h0M594.2 323.6h0M575.2 356.4h0M641.4 325.7h0M616.7 337.8h0M601.9 348.7h0M632.5 317.7h0M603.4 324.5h0M621.1 331h0M629.9 314.7h0M630.1 314.9h0M496.4 444h0M495.9 438.8h0M498.7 443.4h0M498.9 435.4h0M496.6 443h0M498.5 450.2h0M498.9 440.6h0M496.3 438h0M499 450.2h0M499.4 429.8h0M495 448.5h0M496.2 446.8h0M495.1 388.8h0M510.6 433.9h0M527.9 444h0M520.5 448.6h0M533.2 386.9h0M533.6 441.1h0M516 388.7h0M502.8 376.4h0M504.7 392.9h0M518.5 430.2h0M539.1 431.2h0M539.2 401.1h0M550 386.6h0M499.2 362.9h0M512.4 422.8h0M546.2 436.7h0M541.3 417h0M506.5 409.2h0M503 449.3h0M517.9 357.8h0M520.3 325.8h0M495.3 428.6h0M559.6 425.2h0M620.5 441.8h0M666.1 439.4h0M641.3 425.3h0M613.4 380.8h0M565.3 395h0M563.6 407.6h0M609.1 353h0M637.9 347.4h0M586.7 371.7h0M584.7 371.5h0M616.8 372.5h0M609.3 356.1h0M571.6 391.9h0M602 357.9h0M612.8 390.3h0M587 377.3h0M558.3 385.1h0M635.6 357.6h0M669.1 447h0"/>
<path d="M586.4 388.6h0M575.4 365.2h0M540.7 371.3h0M560.4 338.8h0M527.8 390.6h0M586.7 373.7h0M645.5 340.6h0M603.9 318.5h0M602.2 355.8h0M581.2 369.9h0M544.8 355.1h0M539.3 374h0M558 331.6h0M624.5 328.4h0M596 372.5h0M560.4 347.1h0M626.1 319.4h0M562.3 358.2h0M597.6 360.8h0M582.4 370.9h0M571.6 377h0M607.7 335.1h0M569.3 375h0M601.5 311.8h0M565.7 355.1h0M548.3 351.5h0M546.3 379.3h0M546.6 328.8h0M542.5 378.6h0M611 369.2h0M606 343.3h0M543.3 361.3h0M616.6 335.9h0M598.2 353.7h0M563.7 386.8h0M614.9 340.5h0M624.6 321.2h0M546.6 356.5h0M552.7 350.8h0M577.3 372.2h0M550.5 397.3h0M577.3 364.6h0M632.5 339.7h0M567.7 391.8h0M534.9 381.2h0M584.6 372.6h0M614.9 308.7h0M630.4 316.3h0M535.7 368.2h0M578.7 382.7h0M538.8 352.2h0M637.9 343h0M531.3 387.5h0M605.7 331.1h0M533.4 361.6h0M577.5 383.4h0M566 363.9h0M562 369h0M592.7 351.3h0M578.7 364.6h0M596.2 353.9h0M542.7 403.6h0M616.7 352.8h0M561.9 370.4h0M593.7 349.7h0M631.9 376.3h0M533.3 362.9h0M552.6 370.4h0M575.1 350.9h0M584.7 371.7h0M620.4 312.8h0M543.3 365.5h0M541 358.7h0M611.5 350.8h0M560.4 358.6h0M538.6 378.5h0M537.6 387.2h0M648.9 340.7h0M611.4 335.3h0M583 363.2h0M609 344.9h0M584.9 365.1h0M544.7 381.4h0M590 353.9h0M546.6 372.7h0M567.7 382.7h0M569.3 371.2h0M556.1 389.1h0M577.5 354.5h0M525.8 370.7h0M559.7 372.2h0M588.3 362.5h0M544.5 363.4h0M542.9 375.4h0M575.3 341.1h0M554.1 379.9h0M617.3 356.6h0M584.3 373.9h0M533 355.9h0M533.5 373.3h0M541.2 394.1h0M527.8 384.3h0M564.1 377.8h0M533 386.9h0M583.2 348h0M569.7 336.8h0M614.8 325h0M630.6 361.5h0M540.6 357.7h0M605.9 364.8h0M575 371.7h0M557.8 334.4h0M611.2 326.5h0M586.6 363.6h0M592.4 351.9h0M640 348.1h0M552 373.3h0M556.1 346.1h0M599.5 356.8h0M546.3 365h0M535.3 362.4h0M532.9 357.1h0M569.4 385.6h0M548.5 367.1h0M561.5 362h0M575.4 371h0M559.8 369h0M637.8 351.1h0M590.5 387.9h0M560.1 369.8h0M573.5 371.2h0M543.3 388.4h0M537.2 364.7h0M527.5 375.3h0M554.8 371.8h0M594 345.6h0M525.6 401.9h0M559.8 359.5h0M610.8 345.1h0M537.5 359.7h0M605.2 331.9h0M614.8 347.8h0M588.9 355.6h0M593.9 351.4h0M612.9 346.4h0M619.3 366.5h0M634.3 351.8h0M601.9 354.4h0M580.4 337.6h0M592.8 347.2h0M614.9 344.5h0M573 330.7h0M609 339.2h0M622.6 311.7h0M620.7 309.4h0M611.1 320.9h0M622.9 315h0M630 333.5h0M611.5 328.8h0M611.1 337.5h0M630.8 316.6h0M499.2 439.5h0M497.2 444.5h0M498.2 443.6h0M497.5 442.6h0M498.9 439.8h0M497.9 447h0M497.2 443.5h0M501.5 444h0M498.9 441h0M500.1 439.5h0M497.3 446.4h0M499.5 441.9h0M495.2 328.2h0M516.6 396.2h0M514.1 400.7h0M546.8 406.7h0M533.3 434.4h0M544.9 372.1h0M500.7 375.9h0M512.9 423.7h0M503.1 444.8h0M531.3 442.7h0M501.6 442.6h0M527.7 451.2h0M512.5 442.9h0M536.8 433.3h0M540.6 424.5h0M508.3 450.8h0M501.4 368.4h0M528.1 435.8h0M512.5 433.3h0M512.1 348.6h0M525.8 307.5h0M495.2 366.9h0M628.3 447.9h0M554.5 427.1h0M565.6 417.2h0M613.2 422.1h0M586.4 383.5h0M573.4 397.3h0M641.5 343.7h0M609.3 396.2h0M603.4 368h0M641.7 361.7h0M557.8 388.5h0M586.9 381.9h0M590.3 393.2h0M603.4 376.1h0M600.4 353.7h0M630.4 334.7h0M626.9 363.3h0M581.2 381.8h0M571.6 385.9h0"/>
<path d="M597.5 343.5h0M580.9 374h0M569.5 355.1h0M590.3 358.4h0M578.7 357.9h0M611.8 353.9h0M605.6 358h0M538.9 364.7h0M558.4 349.5h0M533.5 372.7h0M651.5 342h0M576.8 392.2h0M583 391.7h0M624.4 339.4h0M613.1 308.6h0M544.9 364.4h0M601.3 340.7h0M546.8 335.5h0M583.2 348h0M628.5 344.3h0M539.2 389.3h0M557.7 352.4h0M626.4 329.2h0M554.5 372.6h0M533.6 361.9h0M588.2 359.6h0M560.5 370.9h0M601.9 333.6h0M586.5 361.2h0M586.7 353.4h0M547 347.4h0M550.2 346.9h0M598.5 362.9h0M539.5 387.7h0M583.1 375.8h0M584.8 358.5h0M546.3 364.3h0M575.3 375.7h0M567.7 377.3h0M559.8 347.9h0M594.3 330.7h0M575.3 358.9h0M554.3 353.6h0M594.3 343h0M547.1 370.2h0M539.5 363.2h0M593.8 337.8h0M596.4 327h0M590.5 398h0M603.4 329.8h0M535.7 382.9h0M590.3 350h0M533.3 358.2h0M562.3 382h0M554.2 349.2h0M655.3 330.8h0M564.2 351.4h0M615.5 342.2h0M618.7 351h0M616.9 350.8h0M574.9 365h0M614.6 386.4h0M554.3 369h0M645.9 303.3h0M565.4 355.1h0M571 373.2h0M590.7 341.4h0M583.2 356.7h0M595.6 366.8h0M570.9 404.3h0M605.8 335.3h0M620.5 351.8h0M586.9 330.9h0M538.7 390.1h0M585 373.8h0M601.4 359.2h0M554.1 396.4h0M556 385h0M535.3 390.9h0M630.3 309.9h0M575 360.9h0M576.9 387h0M605.9 353.9h0M535.4 382.4h0M588.3 377.7h0M539.5 393.6h0M558 372h0M601.9 340.8h0M537.1 387.4h0M593.8 333.2h0M554.2 355.9h0M644.1 290.8h0M598.3 371.3h0M630.7 342.7h0M565.7 380.2h0M598.1 366.7h0M559.9 340.3h0M596 388.9h0M565.5 367.5h0M614.9 345.9h0M554.2 372.2h0M579 358.1h0M561.8 357.2h0M549 385.6h0M609 349.1h0M588.4 369.1h0M592.7 346.7h0M581.1 368.2h0M577.6 356h0M630.3 330.1h0M539.5 371.3h0M564.2 351.9h0M554.4 365.1h0M604.2 350.6h0M571.2 347.5h0M550.5 354.4h0M573.4 372h0M556.3 343.1h0M593.9 319.4h0M554.4 352.3h0M565.5 370.3h0M605.3 337.8h0M620.5 361.1h0M585.2 364h0M617.3 342.7h0M625 348.6h0M543 393.2h0M594.4 354.6h0M588.1 320.3h0M554.7 348.5h0M557.9 351.9h0M623.1 357.9h0M592.4 325.5h0M616.5 330.8h0M567.2 357.7h0M590 361.6h0M582.8 353.3h0M622.3 344.9h0M630.4 308h0M533.4 384.6h0M618.5 345.7h0M594.4 363.7h0M605.9 353.6h0M599.5 352.5h0M573.5 365.1h0M596.5 353.3h0M634.2 342.6h0M601.4 332.4h0M607 357.8h0M639.5 334.3h0M612.9 339.2h0M605.6 352h0M596 331h0M626.4 336.3h0M602 367.2h0M636.4 299.7h0M643.4 295.6h0M629.9 323.3h0M636.4 312.4h0M645.4 290.3h0M498 448.9h0M497.8 443.1h0M498.9 443.6h0M498.2 431.4h0M494.2 428.7h0M494.1 450.6h0M495.3 440.8h0M495.5 448h0M499.3 451.3h0M499.2 442.3h0M497.6 450.8h0M502.5 447.2h0M497.3 442.1h0M495.6 315h0M540.7 405.3h0M522.4 392.3h0M508.7 374.5h0M520.5 446.8h0M510.6 382.8h0M535.4 418.9h0M499.4 428.6h0M542.4 428.4h0M539.1 362.2h0M503.2 367.3h0M500.8 401.4h0M499.4 446.9h0M501.1 371.2h0M505.3 450.8h0M516.2 387.4h0M510.4 387.5h0M537.1 370.1h0M512.5 449h0M507 332.5h0M498.7 342.3h0M495.6 376.4h0M655 420.9h0M661 417.3h0M592.4 449h0M611.4 398.9h0M575.3 392.2h0M602.1 369.4h0M601.4 381h0M580.5 379.3h0M628 360h0M562.1 391.4h0M599.8 395.6h0M613.5 373.2h0M586.4 400.8h0M592.7 376.3h0M577.1 373.4h0M580.8 383.4h0M616.6 375.6h0M586.2 391.4h0M586.3 395.8h0"/>
<path d="M601.9 343.4h0M607.9 340.7h0M563.6 347.5h0M523.5 414.6h0M558.2 365.1h0M593.8 338.3h0M607.3 357.6h0M618.9 332.1h0M620.8 320.4h0M562.3 391.8h0M581.1 389.1h0M594.2 386.3h0M611.7 344h0M580.5 372.9h0M573 343h0M594 360.4h0M592.3 350.3h0M600.3 345.9h0M626.1 332.2h0M562.1 352.6h0M628.4 349.5h0M593.9 346.1h0M579.3 364.5h0M605.9 366.5h0M607.4 364.2h0M584.8 356h0M624.4 322.8h0M541 353.6h0M613.1 348.9h0M628.7 339.4h0M573.2 364.7h0M548.9 410.4h0M573.1 403.9h0M594.6 364.9h0M533.6 366.8h0M609.2 320.8h0M636.2 344.5h0M629.9 343.3h0M580.7 352.7h0M634.3 315.5h0M607.9 366.5h0M578.7 401.3h0M565.6 345.6h0M558.5 384.3h0M561.5 416.5h0M550.9 368.4h0M612.8 352.4h0M540.9 365.5h0M638.2 324.4h0M647 328.3h0M614.7 345.5h0M540.7 369h0M624.1 355h0M548.9 374h0M591.9 338.2h0M615 334.1h0M558.5 365.9h0M548.3 313.7h0M605.4 370.6h0M630.2 337.4h0M558.4 371.8h0M599.7 388h0M620.4 351.4h0M544.8 376.9h0M590.2 349.4h0M598 346.2h0M617.2 369.8h0M632.1 322.5h0M537 388.8h0M544.4 351.4h0M614.8 343.8h0M526.2 378.8h0M623 356.7h0M595.8 315.9h0M609.8 337.3h0M619.1 352.4h0M571.4 340.4h0M632.3 299.4h0M540.6 341.6h0M633.6 359.5h0M577.3 366.2h0M630.5 338.7h0M599.5 369.1h0M624.2 321.7h0M573.7 384.9h0M573.5 342.4h0M554.3 394.9h0M630 320.7h0M544.8 360.9h0M557.6 357h0M594.1 364.5h0M583 382.6h0M592.2 339.5h0M605.6 335.1h0M632.4 344.2h0M558.1 391.7h0M574.8 388.5h0M624.8 332.9h0M534.8 371.3h0M571.3 362.7h0M548.2 380.9h0M569.6 362.6h0M555.8 361.6h0M620.4 337.5h0M565.4 364.2h0M531.9 378.2h0M605.4 322.1h0M565.2 348.4h0M577.3 382.9h0M575.3 347.7h0M587 355.9h0M535.5 380.9h0M539.3 378.5h0M535.7 374.6h0M600 323.3h0M571.2 330.8h0M630.6 354.5h0M527.5 389.4h0M624.8 353.1h0M567.2 356.2h0M545.2 366.4h0M533.2 377.7h0M565.6 379.3h0M565.5 358.3h0M606 351.8h0M617 317.9h0M562.2 361.3h0M529.4 355.9h0M539 369.4h0M559.6 372.2h0M592.2 360.5h0M577.1 306.9h0M601.9 352.5h0M643.5 315.8h0M567.3 364.4h0M550.5 366.8h0M630.7 305.2h0M603.7 357.8h0M563.4 373.5h0M609.6 353.7h0M609.7 353.1h0M614.7 346.3h0M607.3 342.9h0M592.4 333.8h0M645.2 342.2h0M628.4 364.7h0M613.5 341.4h0M643.7 354.5h0M592.7 336.6h0M608 357.7h0M635.5 355.6h0M604.1 350.7h0M588.3 350.5h0M614.6 340.5h0M613.1 331.2h0M643.2 292.3h0M618.9 334.9h0M639.9 298h0M613.6 334.4h0M636.5 301.8h0M497.9 449.7h0M499.9 446.2h0M495 437.8h0M496.4 442.2h0M497.2 445.4h0M500.7 445.6h0M499 441.4h0M497.7 444.6h0M499.2 448.4h0M500.6 451.2h0M499.2 445.7h0M498 443.6h0M498.9 448.8h0M495.4 349.1h0M499.5 361.7h0M506.7 439h0M498.9 377.8h0M542.8 358.8h0M546.6 402.4h0M507.1 423.8h0M512.4 442.5h0M550.6 450.8h0M505.1 418.9h0M541.4 381h0M508.4 420h0M531.7 366.3h0M499.3 443.8h0M501.1 425.5h0M514.4 446.8h0M530 381.1h0M508.6 389.1h0M500.7 422h0M531.4 341h0M514.3 309.6h0M495.5 391.7h0M536.9 440.5h0M531.5 445.7h0M626.9 421.5h0M619.3 427.9h0M636.4 366.9h0M609.8 362.6h0M578.5 399h0M586.2 386.7h0M554.7 403.3h0M580.7 363.7h0M598.1 375.9h0M576.6 408.5h0M554 363.9h0M577.2 395.7h0M616.8 372.6h0M554.2 377.8h0M636.3 349.5h0M595.6 382h0M635.8 382.4h0"/>
<path d="M594.4 356.5h0M602.1 346h0M561.8 374.5h0M602 361.9h0M542.5 342.1h0M598.3 352.2h0M632.4 328h0M600.2 345.9h0M583.3 347.8h0M542.7 382.2h0M595.8 317.2h0M588.2 367.3h0M548.9 387.6h0M556.5 362.2h0M548.9 375.4h0M537.7 381.5h0M544.4 379.4h0M592.1 354.9h0M609.4 333.3h0M552 370.5h0M570 360h0M552.1 357.9h0M533.3 379.4h0M527.8 398.7h0M602 337.2h0M542.6 381h0M611.1 339.8h0M571.1 333.3h0M594.3 370.4h0M628.5 308.7h0M565.4 386.4h0M599.7 333.9h0M546.3 405.6h0M622.9 347.4h0M639.7 315.4h0M603.4 347.2h0M561.7 358.1h0M588.6 345.4h0M539 375.5h0M542.5 355.9h0M533 361.9h0M596.1 362.4h0M628.2 369.7h0M619.3 353.7h0M560.4 381.8h0M535.6 375.2h0M535.5 369.7h0M585.1 352.1h0M626.3 338.2h0M595.7 356h0M601.8 336.3h0M533.2 334h0M605.6 355.8h0M615.2 309.5h0M586.6 371.3h0M540.8 382.8h0M557.6 388.4h0M558.5 370.1h0M630.6 330.9h0M577 382.3h0M575.6 358h0M622.2 334.7h0M639.9 328.7h0M529.9 377.7h0M592.7 362h0M565.3 371.9h0M607.3 324.5h0M535.4 382.1h0M580.7 374.4h0M567.2 383.1h0M584.9 379.7h0M560.3 381.9h0M576.9 354.9h0M563.5 375.4h0M554.5 384.4h0M571.6 357.8h0M602.3 347.2h0M590.4 353.1h0M595.9 359.6h0M569.6 342.5h0M583.2 371.7h0M601.6 343.9h0M562.3 374.6h0M614.9 341.1h0M626.7 352.3h0M570 384.5h0M602.1 337.8h0M552.3 375.9h0M628.4 312.3h0M596.2 364.8h0M567.3 374.3h0M594.4 364.5h0M529.3 379.2h0M582.5 338.4h0M635.8 390.1h0M606 340.8h0M652.7 327.4h0M584.7 332h0M546.9 361.2h0M614.8 359.3h0M572.9 349.6h0M601.8 353.6h0M596.1 357.4h0M600 346.8h0M601.7 366.3h0M544.8 396.8h0M543.2 338.6h0M552.8 346.4h0M580.9 341.5h0M542.8 390.5h0M630.3 340.5h0M588.1 366.1h0M588.9 369.8h0M603.6 348.9h0M575.2 379.2h0M573.5 357h0M630.6 339.3h0M567.6 380.3h0M619.3 340.4h0M594.2 346h0M612.9 354.3h0M595.8 358.5h0M625.1 328.5h0M541.2 358.5h0M575.5 354.7h0M637.5 322.7h0M567.6 368.3h0M535.2 350.9h0M579 365.5h0M640.2 339.3h0M573.6 338.9h0M645.1 350.7h0M597.6 369.8h0M613.3 367.5h0M604.2 381.7h0M563.7 412.4h0M586.8 363.6h0M535.8 375.6h0M562.4 354.3h0M565.5 356.8h0M599.5 338.8h0M605.8 335.8h0M647.2 364.1h0M597.7 336.1h0M611.1 343.8h0M630.6 340.9h0M619 352.2h0M609.7 341.3h0M603.9 349.4h0M584.5 341.2h0M626.1 338.3h0M603.7 347.6h0M603.3 343.4h0M614.8 347.6h0M641.6 309.7h0M615.4 335.7h0M617.1 315.5h0M605.3 342.3h0M611.3 308.4h0M616.7 338.1h0M496.3 446.3h0M498.9 432.1h0M496.7 431.6h0M496.3 429.8h0M501.6 449.3h0M495.9 449.6h0M496.2 441.3h0M496 438.5h0M495.5 440.4h0M498.1 444h0M498.4 434.2h0M497.7 446.3h0M496.1 449.1h0M495.2 413.6h0M531.4 448.8h0M542.7 434.9h0M501.1 433h0M528.2 449.7h0M537 425.8h0M509.2 450.4h0M512.9 379.7h0M504.5 442.1h0M533.4 439h0M539.5 367.6h0M512.7 428.7h0M506.6 399.5h0M529.3 402.3h0M510.8 360.9h0M546.6 445.4h0M531.1 438.3h0M541.3 419.7h0M520.2 444.2h0M517.7 318.6h0M525.9 357.7h0M495 420.7h0M535 445.3h0M641.6 414.2h0M641.7 444h0M546.6 411.4h0M582.6 380.5h0M598.1 375.5h0M621 367.5h0M640.1 366.5h0M602.2 383.5h0M567.9 374.9h0M637.5 349.1h0M600.2 379.9h0M622.5 366.6h0M578.9 386.5h0M631.9 365.8h0M596.2 387.9h0M635.7 383.8h0M563.4 392.7h0M632.1 375.4h0"/>
<path d="M571.4 363.7h0M594.6 376.1h0M586.3 378.1h0M597.5 363.4h0M533.1 344.2h0M622.7 321.9h0M605.3 342.4h0M571.3 350.9h0M548.8 368.8h0M571.8 370.2h0M618.7 327.5h0M569.8 382.5h0M575.3 362.1h0M582.5 371.9h0M624.3 307.6h0M611.7 337.1h0M535.7 363.5h0M602.2 331.7h0M557.7 376.4h0M568 346.5h0M588.8 337h0M643.9 343h0M564.2 377.8h0M596.1 376h0M611.3 347.6h0M616.8 345.6h0M590.5 397h0M539.3 381.1h0M620.5 334.1h0M542.8 403.9h0M619 328.9h0M571.2 366.4h0M597.6 330.9h0M573.8 389.2h0M550.2 376h0M556.5 367.3h0M620.8 343.3h0M581.3 371h0M628.8 336.1h0M595.7 357.3h0M598.4 341.5h0M575 336.6h0M562.2 374.4h0M569.6 362.5h0M601.8 347.7h0M630.5 330.5h0M601.9 366.9h0M634 355.4h0M580.7 345.6h0M609.6 349.4h0M590.1 322.6h0M535.4 341.9h0M544.6 377.9h0M624.6 345.4h0M531.4 356.9h0M577.5 334h0M549 368.8h0M542.9 344.9h0M603.8 368.2h0M604 359.5h0M584.3 327.5h0M611.7 343h0M590 354.6h0M573.1 368.2h0M584.8 342.2h0M596.3 387h0M617.5 328.6h0M537.4 407.5h0M616.8 334.8h0M604.1 336.1h0M582.3 335.9h0M575 406.5h0M536.9 350h0M592.4 355.7h0M607.3 344.4h0M590.6 394.4h0M596.4 333.5h0M571.8 329.1h0M601.8 390.4h0M584.3 376h0M622.8 340.2h0M542.9 363.5h0M555.9 363.2h0M550.7 379.2h0M582.5 370.8h0M602.1 359.3h0M543.2 375.4h0M545.1 369.9h0M609.2 333.1h0M584.6 371.5h0M565.8 370.6h0M568 343.8h0M554.6 366.3h0M584.4 388.8h0M557.8 378.9h0M548.6 362.9h0M638.3 320h0M577.3 343.1h0M619.3 324.6h0M604 332.1h0M569.9 387.5h0M545 396.9h0M535.2 367.5h0M592.6 350h0M594.6 358.7h0M571.4 404.4h0M582.6 360.8h0M544.5 353.8h0M590.2 347.5h0M569.6 326.1h0M616.6 348.5h0M568 401h0M585.1 342.6h0M524.1 380.1h0M576.8 355.9h0M588.2 332.4h0M557.8 349.6h0M552 351.9h0M571.3 349.9h0M624.4 328h0M539.4 396h0M571.3 380.9h0M567.9 359.2h0M607.7 370.4h0M577.1 369.4h0M609.2 362.2h0M571.7 367.1h0M579.3 370.7h0M578.9 387.6h0M628.8 342.6h0M607.7 354.5h0M592.5 358.2h0M554.1 383.3h0M599.9 372.3h0M596.4 364.5h0M537.7 358.9h0M626.6 339.7h0M620.4 342.3h0M630.2 337.8h0M563.7 328.2h0M605.7 362.1h0M612.8 366.1h0M616.5 355.7h0M607.7 352.7h0M609.7 344.3h0M618.8 351.4h0M626.5 333.7h0M582.5 350.5h0M592.3 338.9h0M609.8 338.7h0M620.6 359.6h0M615.3 355.1h0M629.9 338.4h0M611.2 330.4h0M628.3 319.2h0M641.5 317.9h0M622.5 348.1h0M643.9 294h0M610.9 352.5h0M622.8 293.6h0M497.7 432.4h0M497.9 433.9h0M497.3 442.7h0M498.7 447.6h0M497.6 441.2h0M495.9 447.6h0M499.7 447h0M497.8 439.5h0M496.7 448.7h0M497.3 449.6h0M501.7 439.3h0M498.3 445.5h0M498.5 444.4h0M495.2 388.3h0M502.9 364h0M514.5 442.2h0M502.9 445.1h0M514.2 445.6h0M537.4 434.4h0M506.9 436.8h0M506.5 380h0M535.1 429.6h0M518.5 437.4h0M520.2 407h0M548.2 415.1h0M518.1 444.9h0M504.8 411.3h0M508.9 449h0M499.4 397.6h0M503.4 425.9h0M519.7 401h0M514.9 360.5h0M517.8 322.9h0M529.1 354.9h0M495.9 425.1h0M531.2 430.9h0M651.4 441.2h0M609.7 433.5h0M611.3 394.7h0M577.2 383.6h0M588.4 395.5h0M590.2 363.6h0M605.4 379.5h0M588.8 398.1h0M575.6 393.5h0M575.3 392.2h0M554.5 395.6h0M569.4 386.1h0M609 376.1h0M567.6 383.3h0M559.9 402.7h0M578.7 361.7h0M571.1 373.6h0M594.1 381.5h0"/>
<path d="M578.9 365.4h0M609.4 353.2h0M617 330.7h0M624.2 352.7h0M571.6 378h0M590.8 384.2h0M624.6 342.5h0M525.9 382.2h0M588.3 354.8h0M610.9 365.3h0M582.6 382.6h0M628.8 315.4h0M548.8 318.2h0M574.9 363.7h0M550.5 343.5h0M626.3 316.6h0M626.9 331.3h0M626.9 331h0M558.5 375.2h0M620.7 310.4h0M542.5 352.1h0M630.5 315.4h0M612.9 360.6h0M607.1 358.6h0M550.2 375.9h0M613.2 363.6h0M620.7 322.9h0M525.6 368.8h0M597.7 359.8h0M584.4 355.8h0M609.4 348.7h0M575.1 352.1h0M533.6 342.5h0M619.3 322.4h0M583 359.8h0M624.5 337.8h0M527.8 388.7h0M573.3 394.6h0M554.6 400h0M609.9 350.8h0M552.5 332.2h0M531.7 373.5h0M592.6 346.7h0M612.9 342.7h0M554.3 366.4h0M611.1 338.1h0M552.6 373.9h0M607.6 334.7h0M567.3 348.1h0M641.9 331.4h0M533.2 373.1h0M544.8 375.1h0M578.9 367h0M607.5 332.6h0M554.6 354.2h0M626.9 317.8h0M625 343.9h0M598.2 345.8h0M584.7 379.9h0M615 369.5h0M617.4 353.9h0M588.1 380.8h0M592.5 321.5h0M594.4 385.5h0M573.2 366.2h0M616.6 333.4h0M537.5 379h0M559.6 381.2h0M603.2 363.1h0M599.5 347.6h0M628.4 333.4h0M529.8 365.3h0M576.7 372.6h0M552.7 354.8h0M533.7 410.2h0M605.6 342.8h0M636.1 315.6h0M634 338.3h0M551 373.8h0M571.2 374.4h0M609.5 331h0M583.1 380.4h0M637.9 316.3h0M632.1 323.5h0M624.2 312.8h0M598.2 343.8h0M535.5 360.3h0M554.4 380.3h0M571.1 370.5h0M565.8 391.2h0M605.4 355.9h0M565.4 377h0M535.4 360.9h0M594 354.8h0M604 322.6h0M626.4 340.6h0M577.6 369.5h0M543.3 380.4h0M543.1 338.6h0M563.9 323.2h0M531.8 366.1h0M588.8 376.1h0M603.8 355.1h0M617.4 374h0M558.1 378.1h0M647.5 322.7h0M541 377.4h0M546.6 371.6h0M626.6 345.7h0M618.6 337.4h0M632.2 312.9h0M586.4 342.6h0M597.6 371.1h0M603.3 353.1h0M540.6 359.8h0M620.6 322.5h0M548.2 356.4h0M555.7 348.1h0M609.5 367.8h0M586.6 375.8h0M575.5 348h0M571.6 362h0M537.2 390.6h0M577.5 368.9h0M624.3 340.9h0M542.6 373.6h0M578.7 346.6h0M612.9 369.3h0M622.4 348.2h0M598 339.5h0M536.9 358.3h0M533.4 365.6h0M620.8 353.8h0M614.8 314.5h0M590 413.8h0M527.7 393.6h0M615.4 355h0M529.5 398.1h0M622.2 341h0M578.7 375h0M595.7 346.9h0M615.2 345.4h0M597.9 335.9h0M596.2 342.5h0M607.4 341.6h0M626.8 335h0M633.8 353.9h0M599.6 343.1h0M605.8 325.6h0M598.3 345.9h0M609.1 347.9h0M599.7 332.8h0M634 355.7h0M628.3 322.2h0M601.8 361.2h0M624.6 306.6h0M643.2 299.4h0M626.6 321.9h0M628.2 328.7h0M630 338.7h0M498.1 451h0M497.6 442.1h0M497 446.9h0M498.3 442.4h0M498.9 447h0M498.2 432.6h0M498.2 443h0M497.1 427.2h0M495.3 441.2h0M496.9 434.4h0M500.5 440.5h0M500.2 440.4h0M499.2 441.2h0M495.6 338.5h0M499.1 401.4h0M525.7 383.1h0M507.1 379.4h0M533.5 357.5h0M529.5 377.7h0M533.6 405.5h0M503.2 443h0M508.5 420.7h0M499.4 379.9h0M501.1 450.1h0M508.7 370.8h0M506.7 448.9h0M504.7 394.6h0M503.2 386.7h0M502.6 356.9h0M526.1 434.9h0M531.6 405.1h0M522.1 390.6h0M509 356.5h0M531.1 329.3h0M495.7 413.5h0M643.1 422.1h0M572.9 429h0M556.2 430.4h0M613.2 401.4h0M582.5 408.9h0M586.8 389.4h0M578.7 371.1h0M590.1 375.5h0M582.7 387.5h0M616.8 371h0M619 373.2h0M623.1 357.2h0M613.3 354h0M636.4 357.8h0M626 363.7h0M565.8 391h0M575.1 367.1h0M557.9 376.5h0M586.3 377.4h0"/>
<path d="M554.6 361.4h0M565.7 353.2h0M561.9 346h0M566.1 357.3h0M571.6 364.8h0M543.1 373.5h0M573.4 326.8h0M594.3 360.7h0M597.8 373.5h0M554.3 359.9h0M611.4 339.9h0M603.8 366.4h0M630.7 338.9h0M561.8 338.1h0M620.8 342h0M589 370h0M609 324.1h0M554.1 343.7h0M592.6 373.5h0M613.6 317.2h0M585.1 365.4h0M571.7 363.2h0M526.3 362.8h0M609.1 337.6h0M558.5 377h0M596.6 378.6h0M545.1 379h0M531.9 355.8h0M618.9 337h0M575 341.4h0M640 325h0M630.1 311.4h0M597.6 387.8h0M571.9 353.7h0M643.2 302.3h0M548.2 364.6h0M554.3 346.6h0M533.3 365.8h0M624.4 331.9h0M554.3 362.5h0M615 341.4h0M620.7 332.9h0M577 392.8h0M593.9 331.6h0M586.1 341.4h0M616.7 359.4h0M556.6 372.7h0M548.3 390h0M539.3 383.6h0M535.3 404.6h0M584.9 361.2h0M613.2 329h0M620.7 323.2h0M539.2 356.4h0M630.2 302.4h0M623 320.8h0M556.6 373.4h0M552.3 368.3h0M563.5 364.5h0M606.1 324h0M557.7 356.6h0M615.2 340.6h0M626.3 339.3h0M546.9 370.3h0M580.9 388.6h0M582.4 353.5h0M554.4 370.3h0M630.1 297.5h0M546.6 339.8h0M628 354.7h0M595.7 365.6h0M595.8 350.8h0M603.4 359.9h0M543 369.7h0M628.2 356.4h0M579.4 368.8h0M535.2 344.8h0M621.1 339.3h0M567.7 362.7h0M529.3 372.7h0M540.7 353.1h0M554.1 391.7h0M550.6 357.1h0M607.9 341.4h0M641.3 346h0M651 305.5h0M615 324.6h0M639.9 299.4h0M556.6 381.4h0M535.6 402.3h0M624.8 309.2h0M597.8 351h0M609.5 357.1h0M628.6 349.7h0M559.6 369h0M617.1 344.7h0M575.5 363.9h0M554.7 360.4h0M624.6 305.8h0M611.3 324.1h0M611 333.2h0M605.1 348.5h0M526.3 379.3h0M572.8 371.5h0M553.9 374.6h0M626.9 331.8h0M535.7 378.7h0M556.5 367.6h0M601.6 355h0M643.1 320.9h0M571.1 335.5h0M540.8 399.9h0M599.7 372.2h0M582.5 364.9h0M601.8 344.7h0M601.4 341h0M619.3 355.5h0M618.7 367.2h0M596.5 343.1h0M654.8 328.1h0M581.2 344.7h0M559.9 360.8h0M575.4 371h0M618.5 333.6h0M544.5 383.9h0M561.5 349.7h0M575.1 357.8h0M558.3 382.3h0M571.2 366.2h0M609.4 324.4h0M586.8 366.6h0M616.9 301.1h0M630.1 333.7h0M626.3 323.3h0M597.6 341.9h0M530 373.4h0M624.7 369.5h0M550.9 374.4h0M630.5 335h0M582.8 350.1h0M614.8 326.3h0M619 350.1h0M612.9 352.8h0M631.9 364.8h0M604.1 355.8h0M603.6 345.8h0M588.7 345h0M620.7 331.5h0M585 340.7h0M582.9 328.5h0M607.9 352.2h0M624.9 366.9h0M645.7 371.2h0M622.4 312.1h0M628.4 304.7h0M609.7 338.5h0M605.3 335h0M616.6 319.3h0M626.7 295h0M641.9 340.5h0M499.9 449.1h0M499.3 446.5h0M495.8 431.9h0M500 437.6h0M497.4 435.7h0M499.3 439.8h0M496.2 431.4h0M497.9 440.2h0M496 431.4h0M498.4 443.9h0M495.8 447.1h0M497 440.9h0M497.8 441.5h0M495.7 351.9h0M499.4 450.3h0M537.5 402.7h0M503.4 391.7h0M503.3 423.6h0M514 412.6h0M522.3 425h0M550.7 412.9h0M510.5 403.2h0M501.5 384.6h0M500.7 439.6h0M524.2 362.4h0M527.3 377.5h0M510.3 384.9h0M502.8 427.1h0M512.8 396.4h0M503 435.1h0M514 448.6h0M512.9 358.2h0M505.2 321h0M496.6 391.8h0M495.6 428.9h0M654.6 424.9h0M615.4 423.5h0M564 388.9h0M584.3 406.5h0M582.7 381.9h0M607.3 386.2h0M621.2 343.1h0M572.9 356.6h0M584.6 390.6h0M613.6 356.7h0M624.5 358.4h0M622.6 351.8h0M584.3 382.6h0M571.6 418h0M590.8 368.6h0M575.6 388.3h0M617.4 375.8h0M609.4 374.8h0M618.9 368.7h0"/>
<path d="M613.2 326.2h0M628.1 326.7h0M554 378h0M609.4 329.2h0M552.2 371.2h0M639.6 305.1h0M626.5 371.4h0M554 384.1h0M626.6 332h0M630.7 321.7h0M604 348.2h0M613.5 321.8h0M584.9 353.4h0M602 329.3h0M548.7 354.9h0M550.7 399.7h0M633.7 340.7h0M548.5 364.1h0M562.4 367.4h0M598.4 351.3h0M559.7 343.6h0M537.2 363h0M540.6 360.1h0M596.5 352.4h0M622.9 324.4h0M544.5 359.3h0M650.8 335.1h0M575 355.3h0M575.5 364.9h0M626.4 335.8h0M606 366.8h0M604 345.3h0M567.6 373.1h0M641.6 363.7h0M647.8 339.4h0M564 398.6h0M624.4 347.6h0M573.1 361.9h0M628.1 297.5h0M616.9 341.8h0M548.7 393.5h0M545 391.7h0M588.7 342.7h0M607.1 317h0M613.6 352.7h0M603.7 366.2h0M550.2 362.5h0M531.9 366.8h0M632.6 330.5h0M590.4 360.6h0M542.5 374.2h0M636.4 325.9h0M569.5 376.4h0M630.2 338.3h0M632.2 341.7h0M554.3 362.2h0M524.1 372.3h0M594.6 339.1h0M554.1 367.5h0M598.2 339.1h0M618.7 323.2h0M535.5 386.5h0M588.6 355.2h0M533.7 403.7h0M605.6 334.5h0M611.1 355.2h0M624.8 339.3h0M576.6 375.7h0M630.1 309.6h0M603.4 354.1h0M609.9 378h0M565.6 380.9h0M576.8 360.2h0M567.6 391.6h0M594 366h0M598.4 358.4h0M619.1 347.4h0M605.1 356.6h0M538.7 372.3h0M625 327.9h0M630.5 359h0M598.1 376.8h0M529.5 364.4h0M622.5 342.5h0M572.9 386.6h0M544.8 359.2h0M533.5 362.8h0M588.6 371.7h0M605.5 363.5h0M554.7 361.2h0M552.4 393.1h0M538.7 369.6h0M611 345.3h0M643.5 309.8h0M618.9 330.8h0M612.9 337.9h0M601.7 358.7h0M596.2 341.8h0M569.2 367.5h0M614.9 355.2h0M626.6 346.7h0M567.5 388.9h0M544.6 357.7h0M628.4 345.3h0M615.5 331.2h0M596.6 326.1h0M546.9 385.5h0M622.6 338.7h0M548.4 373.4h0M529.9 380.8h0M615 336.9h0M586.8 353.9h0M563.6 358.7h0M550.6 387.8h0M554.6 365.5h0M565.7 344.2h0M607.7 339.2h0M576.9 338.4h0M583 331.7h0M529.4 356.4h0M623 304.7h0M611.8 364h0M647.6 316.8h0M584.3 365.9h0M571.6 340.1h0M594.3 375h0M649.4 320.8h0M565.8 342.8h0M582.8 381.6h0M624.3 321.4h0M594.6 382.4h0M588.5 350.7h0M577.4 382.7h0M560.1 372.6h0M593.9 373.2h0M567.7 361.2h0M612.8 359.1h0M541 360.7h0M535.1 346h0M588.1 363.2h0M607.2 362.1h0M623 352.3h0M598.3 339h0M593.9 347.1h0M610.9 355.9h0M627 348.8h0M580.8 351.8h0M622.7 341.7h0M601.5 347.7h0M612.9 342.3h0M571.7 341.7h0M645.4 325.5h0M628.8 351.8h0M641.6 306.3h0M615.5 333.8h0M628.5 314.7h0M632 309.2h0M626.3 332.4h0M603.8 342.1h0M616.7 317.7h0M500.4 437.8h0M497.7 449.8h0M498.2 438.7h0M495.7 438.7h0M494.5 429.4h0M496.6 448.2h0M499 444.8h0M497.8 427.6h0M499.2 442.1h0M497.8 439.3h0M497.9 442.4h0M500.5 447.9h0M495.7 443.7h0M495.1 407.8h0M514.8 365.2h0M540.7 429.8h0M535.3 442.9h0M501.2 393.1h0M524 444.2h0M550.8 447.6h0M499.3 446.5h0M502.8 404.4h0M512.7 363.7h0M542.5 397.1h0M547 374.1h0M498.7 447.4h0M518.2 443h0M535.4 439.6h0M499.5 411.1h0M499 445.2h0M546.3 399.2h0M518.6 350h0M503.4 305.7h0M495.3 421.9h0M495 397.1h0M617.3 442.5h0M588.7 436.6h0M577.2 391.7h0M588.6 392.2h0M595.9 358.2h0M603.7 363.2h0M586.3 378.9h0M571.6 393.9h0M617.4 370.9h0M619.2 367.6h0M588.7 384h0M556.3 384.4h0M609.7 347.9h0M556.4 398.1h0M628.6 350.7h0M611.6 369.3h0M580.5 374.5h0M565.3 396.3h0M604.1 357.8h0"/>
<path d="M617 334.5h0M552.1 348.6h0M561.5 358.9h0M567.8 356.2h0M533.1 356.3h0M579.2 358.7h0M615.3 300.9h0M628.6 317.6h0M605.2 381.3h0M540.7 361.1h0M625 360.1h0M534.9 369.1h0M580.7 318.3h0M594.1 355.8h0M532.9 400.2h0M588.8 378.7h0M580.4 343.2h0M537.4 408.4h0M610.9 319.8h0M552.1 362.3h0M627.9 331.6h0M542.5 354.5h0M597.6 345.6h0M581.2 361.6h0M592.7 354.5h0M538.9 372.1h0M586.8 384.7h0M581.2 365.3h0M544.9 359.6h0M617.2 335.6h0M615.4 332.7h0M603.3 355.2h0M554.5 364h0M593.9 351.9h0M540.5 370.9h0M582.7 387.1h0M573.7 383.4h0M615.2 354.5h0M641.8 321.8h0M626.7 360.1h0M604.1 375.8h0M615.5 367h0M543.3 343.5h0M564 375.1h0M590.6 339.4h0M611 343.9h0M657 308.4h0M526.1 380.4h0M670.3 296.6h0M601.4 362.2h0M605.3 330.9h0M544.8 366.1h0M538.6 372.6h0M599.5 348.1h0M609.7 342.3h0M598.4 364.6h0M609.1 336.4h0M557.7 359.8h0M558.4 353.5h0M620.7 336.1h0M550.8 377.7h0M575 353.3h0M609.4 341.2h0M554.6 381.2h0M594.3 349.6h0M607.8 333.7h0M561.7 339.9h0M604.1 369.4h0M609.7 336.2h0M607.6 378.6h0M550.6 382.7h0M550.3 388.3h0M617 364.8h0M554.6 357.1h0M550.1 360.4h0M577.6 379.4h0M596 354.4h0M596.6 345.5h0M603.3 348.2h0M628.3 348.1h0M628.3 344.8h0M535.3 370.5h0M559.7 360.3h0M556.5 376.4h0M607.6 346.6h0M603.5 345.7h0M569.3 357.8h0M598.1 364.1h0M624.3 339.2h0M643.9 310.7h0M567.5 374.3h0M607.5 345.7h0M567.7 352.1h0M596 345.3h0M577.5 375.8h0M593.9 410.8h0M596.2 356h0M548.4 361.5h0M527.7 355.6h0M573.3 364.3h0M535.4 372.8h0M565.9 354.8h0M591.9 348.8h0M530 362.1h0M558.4 352h0M543.1 396h0M605.4 353.1h0M595.8 358.5h0M547.2 365.7h0M585.1 364.7h0M529.4 400h0M588.1 372.5h0M590.3 365.2h0M631.9 313.2h0M605.3 358.1h0M595.8 355.2h0M542.5 373.7h0M552.8 361.2h0M552.1 367.5h0M607.8 325.3h0M615.2 322.9h0M584.3 367.9h0M639.5 346.7h0M614.7 339.6h0M599.6 356.4h0M537.4 374.1h0M550.3 367.7h0M543.2 389.9h0M537.2 363.9h0M546.4 343.4h0M561.5 363.5h0M539 391.9h0M584.5 371h0M534.8 385.3h0M544.6 399.3h0M531.6 372.7h0M582.4 370.5h0M562.1 368.9h0M563.9 352.6h0M602.2 363.5h0M592.2 329.5h0M628.4 345.1h0M605.6 353.7h0M624.4 341.5h0M575.3 325.5h0M615.4 327.4h0M588.9 325.9h0M613.4 352.1h0M624.7 344.5h0M637.6 324h0M632.5 339.7h0M588.8 333.8h0M609.2 364.6h0M626.4 313.1h0M628.6 289.3h0M616.8 340.1h0M622.4 320.9h0M607.7 348.3h0M643.8 302.6h0M641.6 326h0M496.7 451.2h0M496.9 440.6h0M499.4 443.3h0M496.1 439.1h0M499.5 445.6h0M497.4 431.5h0M500.8 440.4h0M494.7 441.2h0M496.9 441h0M500.2 433.5h0M498.3 439.9h0M495.5 439.2h0M495.7 444.5h0M494.8 397.9h0M506.3 378.8h0M539.4 381.4h0M503.3 441.4h0M525.4 451.4h0M512.5 448.1h0M541.3 368h0M535.7 448.7h0M509 398.6h0M543 446.3h0M534.9 399.3h0M510.2 438.4h0M542.9 406.8h0M500.9 441.4h0M516.3 382.9h0M508.6 445.4h0M546.7 387.9h0M501.4 439.4h0M520.2 317h0M525.4 340.3h0M496.1 427.7h0M496.1 388.1h0M640.2 420h0M531.7 426h0M628.3 390h0M567.9 398.8h0M637.5 356.1h0M594.1 364.7h0M622.5 381.5h0M615.3 373.9h0M630.7 354.5h0M612.9 382.2h0M558.4 377.3h0M594.2 389.8h0M593.8 409.7h0M591.8 387.7h0M595.8 394h0M630.7 370.1h0M569.9 390h0M628.9 358.2h0M559.7 405h0"/>
<path d="M630.6 324.2h0M600.3 346.4h0M607.9 329.6h0M588.8 367.4h0M605.9 329.7h0M598 345.5h0M600.3 367h0M569.9 374.5h0M572.9 363.6h0M569.8 357.9h0M565.8 357.3h0M550.8 379.8h0M607.7 343.5h0M567.5 349.8h0M528.1 372.7h0M579.1 390.5h0M615.1 358.7h0M539.4 377.9h0M605.6 326h0M603.4 333.2h0M617.2 353.8h0M590.2 347.5h0M553.9 362.7h0M630.6 319.2h0M569.5 340.6h0M563.4 355.9h0M630.1 352.8h0M609.7 361.6h0M611.5 358.9h0M535.2 386.3h0M574.9 358.8h0M628.2 321.3h0M599.7 367.5h0M567.9 328h0M535.5 402.9h0M649.6 318.4h0M622.5 340.6h0M588.8 352.2h0M554.5 351.9h0M554.2 397.7h0M600.2 349.3h0M617.4 334.5h0M556.7 357.2h0M607.7 341.5h0M550.2 366.3h0M603.3 344.1h0M544.6 358.3h0M559.9 370.4h0M530 359.9h0M613.3 356.2h0M573.6 360.5h0M607.6 347.2h0M583 345.9h0M580.9 375.9h0M638.2 312.1h0M573.6 363h0M547.1 347.7h0M630.6 351.8h0M533.1 346.1h0M539 375h0M616.9 328.9h0M628.4 355.5h0M601.6 327.6h0M588.6 350.3h0M539.3 356.6h0M641.4 304.4h0M558.2 361.2h0M567.4 343.5h0M568 367.8h0M534.9 344.9h0M615 368.2h0M558.2 356.2h0M554.5 382.4h0M600 347.8h0M575 349h0M596.1 348.8h0M632 335.1h0M620.8 337.6h0M632.2 348.5h0M618.9 321.7h0M622.4 342.6h0M596.4 359h0M615.5 335.6h0M545.1 386.9h0M538.6 366.6h0M562.3 359.3h0M613.3 339.2h0M592.5 358.5h0M546.3 358.7h0M619.1 344h0M582.8 315.1h0M592.1 364.4h0M552.3 351h0M546.3 367.9h0M537.4 380.3h0M571.5 358.2h0M626.7 319.4h0M523.6 346.7h0M623 291.4h0M545 354.9h0M578.7 351.2h0M577.4 375.3h0M621.1 353.7h0M577.4 363.3h0M614.8 332.9h0M577 329.7h0M602.3 345.3h0M574.9 342.5h0M582.7 345.3h0M554.4 385.6h0M618.6 364.1h0M594.6 347h0M567.4 387h0M583.1 372.5h0M562.2 380.7h0M621.2 344.9h0M603.9 324.4h0M573 360.8h0M588.8 365.8h0M562.1 361.7h0M617.3 348.1h0M538.7 352h0M569.1 379.9h0M615.4 344.2h0M560.5 356.5h0M611.7 368.5h0M645.3 310.2h0M647.7 315.7h0M531.4 378.3h0M558.1 357.9h0M616.8 344.6h0M593.8 357.5h0M569.8 371.2h0M628.6 315.6h0M552 377.4h0M558.2 378.1h0M636.1 333.1h0M555.8 376.3h0M615 317.7h0M607.4 338.4h0M621.2 349.3h0M588.6 346.7h0M602.2 331.4h0M620.6 337h0M605.7 353.4h0M638.4 363.4h0M614.9 347.9h0M603.7 362.5h0M638.1 340.8h0M596.4 354.5h0M632.4 339.4h0M596.4 354.3h0M611.8 355.2h0M630.1 298.5h0M639.7 310.3h0M607.8 325.6h0M630.6 327.7h0M634 302.5h0M600.1 348.2h0M630.2 294.9h0M499.1 434.3h0M496.6 444.9h0M496.8 450.1h0M497.1 432.7h0M499.3 447h0M495.7 443.8h0M496 444.3h0M494.4 438h0M498.6 439.1h0M496 439.4h0M498.5 451.3h0M497.5 440.6h0M499.4 445.4h0M494.9 316.3h0M535.6 398.9h0M531.5 382.7h0M502.7 446.1h0M533.8 385.4h0M512.6 423.7h0M529.7 450.3h0M512.3 409.2h0M502.7 365.4h0M499 445.7h0M518.6 415.6h0M535.3 412.3h0M531.2 363.7h0M512.6 375.1h0M507 369.7h0M502.8 439.5h0M504.7 425.3h0M501.1 360.6h0M519.9 310.5h0M498.8 356.6h0M495.6 371.2h0M497 425.2h0M636.3 442.1h0M641.5 432.8h0M643.3 419.9h0M632.6 393.8h0M562.1 402.1h0M567.4 402h0M562.3 391.5h0M639.4 355.6h0M567.9 393.9h0M609.4 370.5h0M571.1 381.3h0M605.2 380.2h0M584.8 372h0M602 389.8h0M602.1 360.4h0M607.8 391.3h0M555.8 391.4h0M563.4 377.9h0M643.4 366.6h0"/>
<path d="M609.8 365h0M584.9 354.4h0M552.8 344.7h0M590.1 360.3h0M546.8 393.5h0M613.4 376.8h0M616.8 313.5h0M628 340.1h0M524.2 404.1h0M580.7 378.5h0M567.9 368.4h0M563.6 385.7h0M601.9 355.4h0M639.7 335.9h0M548.2 382.9h0M630.3 342.1h0M535.4 379.8h0M560.1 343.6h0M574.7 357.5h0M576.6 363.2h0M533.1 361.7h0M557.9 348h0M645.5 340.9h0M578.9 366.5h0M566.2 355h0M620.3 344h0M586.7 358.4h0M602.2 348.1h0M615 328.3h0M575.2 341.9h0M558.4 384.4h0M538.7 363.7h0M578.6 333.9h0M560.1 368.1h0M581 349.5h0M630 320.7h0M664.1 307.6h0M529.5 391.3h0M577 342.6h0M558.2 363h0M599.9 361.5h0M526.2 348h0M614.7 336h0M601.6 348.4h0M594.5 366h0M582.6 364.2h0M605.4 358.8h0M603.9 336.4h0M544.5 378.4h0M578.5 367.6h0M598.4 340.3h0M565.3 364.4h0M621.3 337.9h0M580.8 385.2h0M605.8 340.5h0M596 364.3h0M609.3 367.4h0M538.7 355.5h0M643.5 321.2h0M609.5 350.6h0M591.9 394h0M556.6 371.9h0M539.5 401.5h0M567.6 346.9h0M535.1 395.2h0M535.1 374.3h0M602.1 338.8h0M550.6 382.7h0M592.1 366.4h0M526 413.4h0M541.3 351.1h0M554.3 365.4h0M543.1 381.1h0M577 377.6h0M583 374.2h0M578.7 378.6h0M619.1 312.7h0M534.9 370.9h0M617.4 319.4h0M565.7 394.9h0M612.9 316h0M569.9 361.4h0M576.8 334.3h0M542.8 376.3h0M546.5 353.2h0M603.8 393.6h0M597.9 351.2h0M584.5 366.3h0M574.8 379.4h0M571.5 367.9h0M590.8 386.1h0M535.3 379.4h0M601.6 369.3h0M597.9 350.5h0M555.9 347.7h0M586.2 373.8h0M607.7 365.1h0M628.3 346.6h0M563.4 354.4h0M558.1 377.9h0M599.7 359.8h0M554 377.1h0M556.3 361h0M591.9 364.6h0M630.4 362.9h0M566 415.8h0M594.1 368h0M558 320.1h0M542.9 357h0M558 395.7h0M609.7 342.5h0M542.7 392.4h0M571.4 362.4h0M552.8 377.9h0M583 335.6h0M641.8 302.3h0M544.4 342.8h0M586.9 361.9h0M614.6 382.5h0M552.8 383.9h0M617 377.6h0M571.1 362.1h0M601.3 353h0M618.6 312h0M579.4 335.6h0M617.3 339h0M547.1 353.2h0M544.5 379.9h0M564.2 334.8h0M533.6 377h0M587 333.9h0M548.8 390.8h0M537.3 340.3h0M621.2 328.9h0M554.2 383h0M605.6 346.1h0M537.1 365.4h0M588.6 345.4h0M622.8 320.5h0M594.4 352h0M615.4 351h0M592.7 342.3h0M597.7 359.8h0M609 356.5h0M619.3 348.8h0M632.2 346.3h0M641.8 350.3h0M597.7 366.2h0M613.6 333.9h0M616.6 349.1h0M635.8 333.7h0M640.1 350.9h0M601.7 353.9h0M628.5 318.1h0M619 338.5h0M618.8 328.6h0M645.2 310.1h0M607.2 321h0M636.1 309.3h0M645.6 291h0M501.1 440.5h0M496.8 443.7h0M499.7 443.3h0M496.2 439.7h0M498.3 448.1h0M495.6 443.8h0M496.5 449.7h0M495.5 443.1h0M496.3 440.1h0M497.1 438.6h0M499.8 448.9h0M494.5 446h0M499.7 432.3h0M495.9 346.8h0M525.4 450.6h0M537.5 442.1h0M499.3 438.5h0M514.2 419.9h0M514.1 445.1h0M514.8 445.7h0M514.9 434h0M537.1 359.5h0M502.7 451.1h0M523.6 423.9h0M548.7 434.6h0M525.6 447.8h0M532 396.7h0M501.1 383.6h0M525.4 405.9h0M531.8 447.1h0M503.4 425.4h0M510.5 333.7h0M526 341h0M496.9 404.2h0M494.8 366.8h0M542.5 418.5h0M598 442.6h0M638.3 398.2h0M613.7 400.4h0M626.2 365.6h0M555.8 396.3h0M639.8 341.2h0M601.8 349.7h0M565.5 403.5h0M579.1 380.2h0M596.4 374.7h0M562 424.5h0M567.4 394.8h0M641.8 373.3h0M636.4 372.5h0M552 403.2h0M609.5 376.5h0M634 374.1h0M635.5 358.2h0"/>
</g>
<line x1="495.4" y1="448.5" x2="669.2" y2="273.7" stroke="#777" stroke-width="0.75"/>
<line x1="495.4" y1="435.1" x2="670.2" y2="301.2" stroke="#d62728" stroke-width="0.9" stroke-dasharray="1.8 1.2"/>
<path d="M482.6 267.5H682.7V457.7" fill="none" stroke="#8a8a8a" stroke-width="1.2"/>
<path d="M482.6 266.9V457.7H683.3000000000001" fill="none" stroke="#555" stroke-width="1.2"/>
<path d="M495.4 457.7v2M533.4 457.7v2M571.4 457.7v2M609.4 457.7v2M647.4 457.7v2M482.6 448.5h-2M482.6 410.3h-2M482.6 372.1h-2M482.6 333.9h-2M482.6 295.7h-2" stroke="#333" stroke-width="0.6"/>
<g font-size="4.6" fill="#555"><text x="495.4" y="464.2" text-anchor="middle">0</text><text x="533.4" y="464.2" text-anchor="middle">20</text><text x="571.4" y="464.2" text-anchor="middle">40</text><text x="609.4" y="464.2" text-anchor="middle">60</text><text x="647.4" y="464.2" text-anchor="middle">80</text><text x="480.4" y="450.8" text-anchor="end">0</text><text x="480.4" y="412.6" text-anchor="end">20</text><text x="480.4" y="374.4" text-anchor="end">40</text><text x="480.4" y="336.2" text-anchor="end">60</text><text x="480.4" y="298" text-anchor="end">80</text></g>
<text x="494.8" y="286.4" font-size="9.6" fill="#111" stroke="#111" stroke-width="0.3">R<tspan font-size="5.8" dy="-3.7">2</tspan><tspan dy="3.7"> = 0.71</tspan></text>
<text x="510.4" y="260.1" font-size="12" fill="#111" stroke="#111" stroke-width="0.6" textLength="127.70000000000002" lengthAdjust="spacingAndGlyphs">MAE = 8.83 ± 0.5 years</text>
<text x="473.5" y="259.5" font-size="16.5" font-weight="bold" fill="#111" stroke="#111" stroke-width="0.3">f</text>
<text x="444.6" y="362.9" transform="rotate(-90 472.6 362.9) translate(0 0)" font-size="4.7" font-weight="bold" fill="#222" textLength="56" lengthAdjust="spacingAndGlyphs">Predicted Age (years)</text>
<text x="12.9" y="241.5" transform="rotate(-90 12.9 241.5)" text-anchor="middle" font-size="18" fill="#111" stroke="#111" stroke-width="0.75" textLength="182" lengthAdjust="spacingAndGlyphs">Predicted Age (years)</text>
<text x="270.2" y="479" font-size="18" fill="#111" stroke="#111" stroke-width="0.75" textLength="131.8" lengthAdjust="spacingAndGlyphs">True Age (years)</text>
</svg></body></html>
